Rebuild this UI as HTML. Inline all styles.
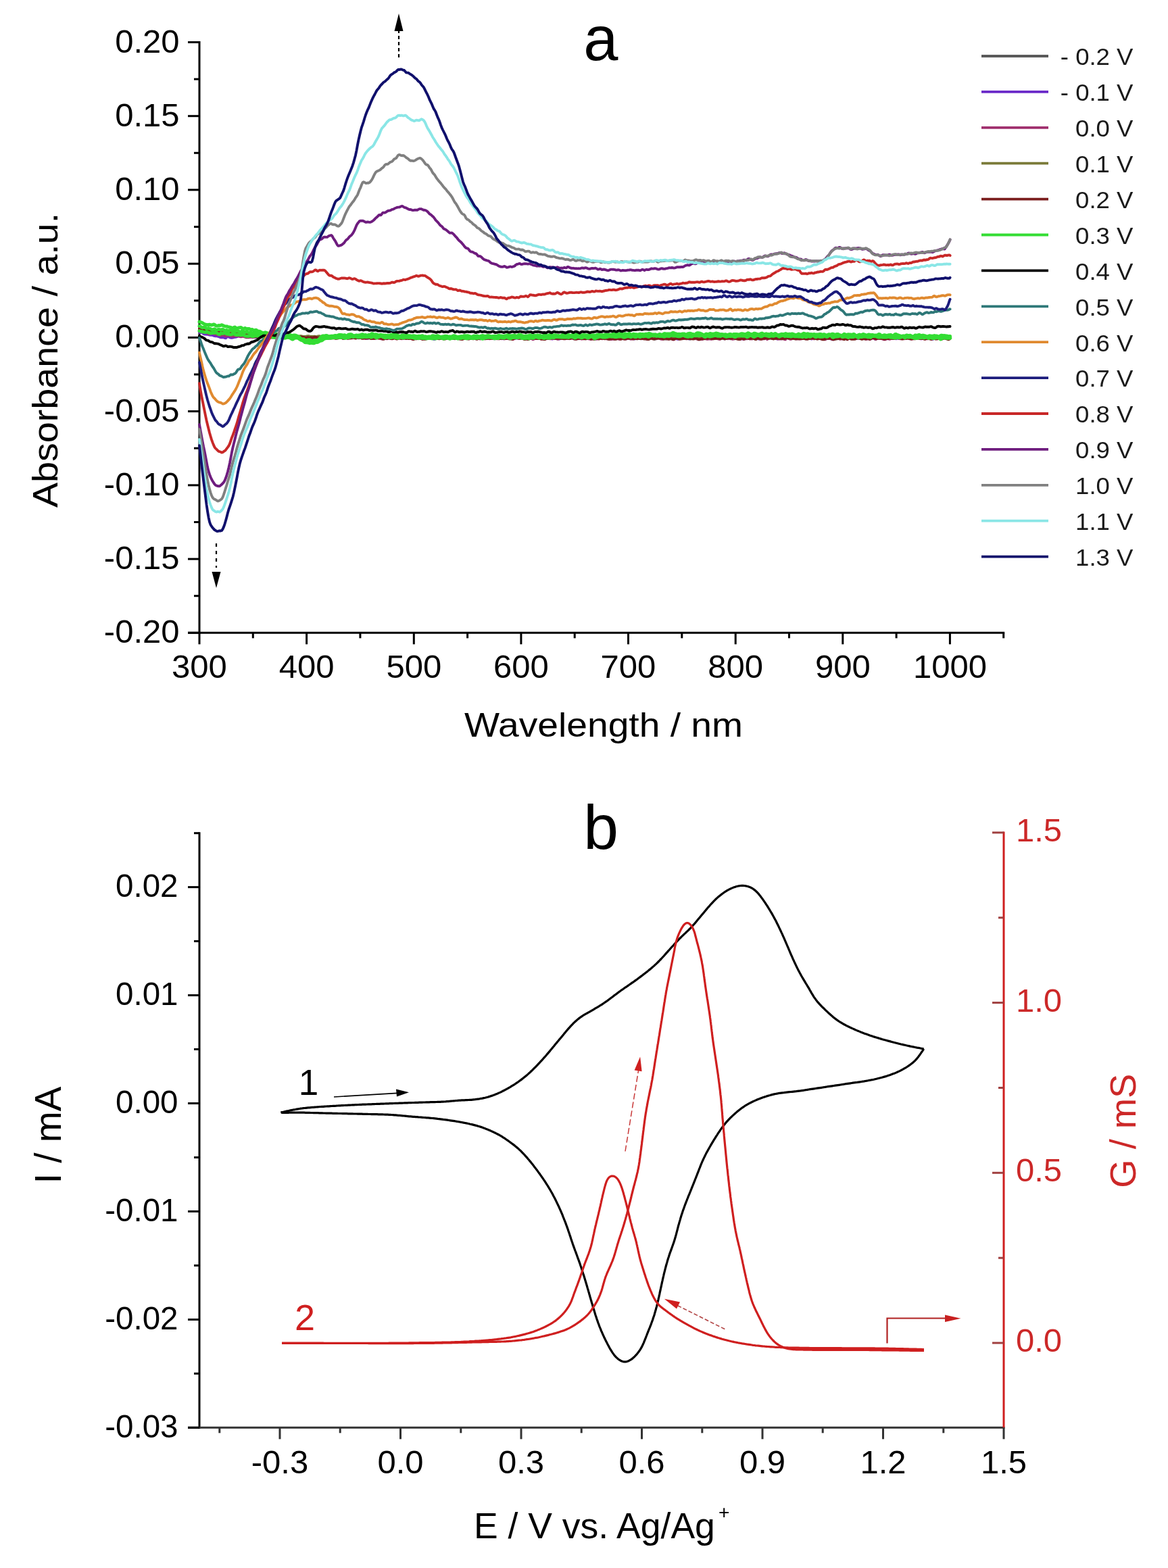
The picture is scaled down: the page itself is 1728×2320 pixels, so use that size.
<!DOCTYPE html>
<html><head><meta charset="utf-8"><title>Figure</title>
<style>html,body{margin:0;padding:0;background:#fff;}svg{display:block;}</style></head>
<body><svg width="1728" height="2320" viewBox="0 0 1728 2320" font-family="Liberation Sans, Arial, sans-serif">
<rect width="1728" height="2320" fill="#fff"/>
<line x1="295" y1="61" x2="295" y2="937.8" stroke="#000" stroke-width="3"/>
<line x1="278" y1="936.3" x2="1486.2" y2="936.3" stroke="#000" stroke-width="3"/>
<line x1="278" y1="936.3" x2="295" y2="936.3" stroke="#000" stroke-width="3"/>
<line x1="287" y1="881.7" x2="295" y2="881.7" stroke="#000" stroke-width="3"/>
<line x1="278" y1="827.1" x2="295" y2="827.1" stroke="#000" stroke-width="3"/>
<line x1="287" y1="772.5" x2="295" y2="772.5" stroke="#000" stroke-width="3"/>
<line x1="278" y1="717.9" x2="295" y2="717.9" stroke="#000" stroke-width="3"/>
<line x1="287" y1="663.2" x2="295" y2="663.2" stroke="#000" stroke-width="3"/>
<line x1="278" y1="608.6" x2="295" y2="608.6" stroke="#000" stroke-width="3"/>
<line x1="287" y1="554" x2="295" y2="554" stroke="#000" stroke-width="3"/>
<line x1="278" y1="499.4" x2="295" y2="499.4" stroke="#000" stroke-width="3"/>
<line x1="287" y1="444.8" x2="295" y2="444.8" stroke="#000" stroke-width="3"/>
<line x1="278" y1="390.2" x2="295" y2="390.2" stroke="#000" stroke-width="3"/>
<line x1="287" y1="335.6" x2="295" y2="335.6" stroke="#000" stroke-width="3"/>
<line x1="278" y1="280.9" x2="295" y2="280.9" stroke="#000" stroke-width="3"/>
<line x1="287" y1="226.3" x2="295" y2="226.3" stroke="#000" stroke-width="3"/>
<line x1="278" y1="171.7" x2="295" y2="171.7" stroke="#000" stroke-width="3"/>
<line x1="287" y1="117.1" x2="295" y2="117.1" stroke="#000" stroke-width="3"/>
<line x1="278" y1="62.5" x2="295" y2="62.5" stroke="#000" stroke-width="3"/>
<line x1="295" y1="936.3" x2="295" y2="953.3" stroke="#000" stroke-width="3"/>
<line x1="374.3" y1="936.3" x2="374.3" y2="944.3" stroke="#000" stroke-width="3"/>
<line x1="453.6" y1="936.3" x2="453.6" y2="953.3" stroke="#000" stroke-width="3"/>
<line x1="532.9" y1="936.3" x2="532.9" y2="944.3" stroke="#000" stroke-width="3"/>
<line x1="612.3" y1="936.3" x2="612.3" y2="953.3" stroke="#000" stroke-width="3"/>
<line x1="691.6" y1="936.3" x2="691.6" y2="944.3" stroke="#000" stroke-width="3"/>
<line x1="770.9" y1="936.3" x2="770.9" y2="953.3" stroke="#000" stroke-width="3"/>
<line x1="850.2" y1="936.3" x2="850.2" y2="944.3" stroke="#000" stroke-width="3"/>
<line x1="929.5" y1="936.3" x2="929.5" y2="953.3" stroke="#000" stroke-width="3"/>
<line x1="1008.8" y1="936.3" x2="1008.8" y2="944.3" stroke="#000" stroke-width="3"/>
<line x1="1088.2" y1="936.3" x2="1088.2" y2="953.3" stroke="#000" stroke-width="3"/>
<line x1="1167.5" y1="936.3" x2="1167.5" y2="944.3" stroke="#000" stroke-width="3"/>
<line x1="1246.8" y1="936.3" x2="1246.8" y2="953.3" stroke="#000" stroke-width="3"/>
<line x1="1326.1" y1="936.3" x2="1326.1" y2="944.3" stroke="#000" stroke-width="3"/>
<line x1="1405.4" y1="936.3" x2="1405.4" y2="953.3" stroke="#000" stroke-width="3"/>
<line x1="1484.7" y1="936.3" x2="1484.7" y2="944.3" stroke="#000" stroke-width="3"/>
<text x="265.5" y="951.3" font-size="49" text-anchor="end" fill="#000">-0.20</text>
<text x="265.5" y="842.1" font-size="49" text-anchor="end" fill="#000">-0.15</text>
<text x="265.5" y="732.9" font-size="49" text-anchor="end" fill="#000">-0.10</text>
<text x="265.5" y="623.6" font-size="49" text-anchor="end" fill="#000">-0.05</text>
<text x="265.5" y="514.4" font-size="49" text-anchor="end" fill="#000">0.00</text>
<text x="265.5" y="405.2" font-size="49" text-anchor="end" fill="#000">0.05</text>
<text x="265.5" y="295.9" font-size="49" text-anchor="end" fill="#000">0.10</text>
<text x="265.5" y="186.7" font-size="49" text-anchor="end" fill="#000">0.15</text>
<text x="265.5" y="77.5" font-size="49" text-anchor="end" fill="#000">0.20</text>
<text x="295" y="1003" font-size="49" text-anchor="middle" fill="#000">300</text>
<text x="453.6" y="1003" font-size="49" text-anchor="middle" fill="#000">400</text>
<text x="612.3" y="1003" font-size="49" text-anchor="middle" fill="#000">500</text>
<text x="770.9" y="1003" font-size="49" text-anchor="middle" fill="#000">600</text>
<text x="929.5" y="1003" font-size="49" text-anchor="middle" fill="#000">700</text>
<text x="1088.2" y="1003" font-size="49" text-anchor="middle" fill="#000">800</text>
<text x="1246.8" y="1003" font-size="49" text-anchor="middle" fill="#000">900</text>
<text x="1405.4" y="1003" font-size="49" text-anchor="middle" fill="#000">1000</text>
<text x="0" y="0" font-size="51.5" text-anchor="middle" transform="translate(84.5 532.9) rotate(-90)" textLength="436.3" lengthAdjust="spacingAndGlyphs">Absorbance / a.u.</text>
<text x="893" y="1090" font-size="50.5" text-anchor="middle" fill="#000" textLength="412" lengthAdjust="spacingAndGlyphs">Wavelength / nm</text>
<text x="888.8" y="89" font-size="92" text-anchor="middle" fill="#000">a</text>
<line x1="1452" y1="83" x2="1551" y2="83" stroke="#5a5a5a" stroke-width="3.8"/>
<text x="0" y="0" font-size="35" text-anchor="end" fill="#1a1a1a" transform="translate(1676.5 96.3) scale(1.045 1)">- 0.2 V</text>
<line x1="1452" y1="135.9" x2="1551" y2="135.9" stroke="#6b2bc8" stroke-width="3.8"/>
<text x="0" y="0" font-size="35" text-anchor="end" fill="#1a1a1a" transform="translate(1676.5 149.2) scale(1.045 1)">- 0.1 V</text>
<line x1="1452" y1="188.8" x2="1551" y2="188.8" stroke="#a0306e" stroke-width="3.8"/>
<text x="0" y="0" font-size="35" text-anchor="end" fill="#1a1a1a" transform="translate(1676.5 202.1) scale(1.045 1)">0.0 V</text>
<line x1="1452" y1="241.7" x2="1551" y2="241.7" stroke="#7a7a38" stroke-width="3.8"/>
<text x="0" y="0" font-size="35" text-anchor="end" fill="#1a1a1a" transform="translate(1676.5 255) scale(1.045 1)">0.1 V</text>
<line x1="1452" y1="294.6" x2="1551" y2="294.6" stroke="#7a1c1c" stroke-width="3.8"/>
<text x="0" y="0" font-size="35" text-anchor="end" fill="#1a1a1a" transform="translate(1676.5 307.9) scale(1.045 1)">0.2 V</text>
<line x1="1452" y1="347.5" x2="1551" y2="347.5" stroke="#33dd33" stroke-width="3.8"/>
<text x="0" y="0" font-size="35" text-anchor="end" fill="#1a1a1a" transform="translate(1676.5 360.8) scale(1.045 1)">0.3 V</text>
<line x1="1452" y1="400.4" x2="1551" y2="400.4" stroke="#000000" stroke-width="3.8"/>
<text x="0" y="0" font-size="35" text-anchor="end" fill="#1a1a1a" transform="translate(1676.5 413.7) scale(1.045 1)">0.4 V</text>
<line x1="1452" y1="453.3" x2="1551" y2="453.3" stroke="#2e7878" stroke-width="3.8"/>
<text x="0" y="0" font-size="35" text-anchor="end" fill="#1a1a1a" transform="translate(1676.5 466.6) scale(1.045 1)">0.5 V</text>
<line x1="1452" y1="506.2" x2="1551" y2="506.2" stroke="#e08a30" stroke-width="3.8"/>
<text x="0" y="0" font-size="35" text-anchor="end" fill="#1a1a1a" transform="translate(1676.5 519.5) scale(1.045 1)">0.6 V</text>
<line x1="1452" y1="559.1" x2="1551" y2="559.1" stroke="#1c1c7c" stroke-width="3.8"/>
<text x="0" y="0" font-size="35" text-anchor="end" fill="#1a1a1a" transform="translate(1676.5 572.4) scale(1.045 1)">0.7 V</text>
<line x1="1452" y1="612" x2="1551" y2="612" stroke="#c82828" stroke-width="3.8"/>
<text x="0" y="0" font-size="35" text-anchor="end" fill="#1a1a1a" transform="translate(1676.5 625.3) scale(1.045 1)">0.8 V</text>
<line x1="1452" y1="664.9" x2="1551" y2="664.9" stroke="#6e1c7e" stroke-width="3.8"/>
<text x="0" y="0" font-size="35" text-anchor="end" fill="#1a1a1a" transform="translate(1676.5 678.2) scale(1.045 1)">0.9 V</text>
<line x1="1452" y1="717.8" x2="1551" y2="717.8" stroke="#808080" stroke-width="3.8"/>
<text x="0" y="0" font-size="35" text-anchor="end" fill="#1a1a1a" transform="translate(1676.5 731.1) scale(1.045 1)">1.0 V</text>
<line x1="1452" y1="770.7" x2="1551" y2="770.7" stroke="#8ae6e6" stroke-width="3.8"/>
<text x="0" y="0" font-size="35" text-anchor="end" fill="#1a1a1a" transform="translate(1676.5 784) scale(1.045 1)">1.1 V</text>
<line x1="1452" y1="823.6" x2="1551" y2="823.6" stroke="#10106c" stroke-width="3.8"/>
<text x="0" y="0" font-size="35" text-anchor="end" fill="#1a1a1a" transform="translate(1676.5 836.9) scale(1.045 1)">1.3 V</text>
<g fill="none" stroke-width="3.9" stroke-linejoin="round" stroke-linecap="round">
<path d="M295 488.3L296.5 488.9L298 488.7L299.5 488.7L301 489.6L302.5 490L304 490L305.5 490.5L307 491L308.5 491.1L310 491.4L311.5 491.6L313 491.5L314.5 491.7L316 492.2L317.5 492.8L319 492.9L320.5 492.8L322 492.8L323.5 493.3L325 493.7L326.5 494.2L328 495L329.5 494.6L331 493.3L332.5 493.5L334 494.6L335.5 495.2L337 495.7L338.5 496.4L340 496.7L341.5 496.1L343 496.4L344.5 497.5L346 497.6L347.5 497.1L349 496.5L350.5 496.2L352 496.9L353.5 497.1L355 496.7L356.5 496.9L358 497.2L359.5 497.2L361 497.5L362.5 497.9L364 497.9L365.5 498L367 498.5L368.5 498.8L370 498.5L371.5 498.3L373 498.5L374.5 498.7L376 498.7L377.5 498.6L379 498.9L380.5 498.7L382 498.2L383.5 498.5L385 498.9L386.5 498.9L388 498.3L389.5 498.3L391 498.7L392.5 498.9L394 499.2L395.5 499.1L397 498.6L398.5 499.1L400 499.6L401.5 499.1L403 498.9L404.5 499.4L406 499.6L407.5 499.6L409 498.9L410.5 498.4L412 498.7L413.5 499.2L415 499.5L416.5 499.1L418 498.3L419.5 498.6L421 499.6L422.5 499.7L424 499.2L425.5 499.3L427 499.6L428.5 499.9L430 499.9L431.5 499.7L433 499.3L434.5 499.5L436 499.3L437.5 498.6L439 498.9L440.5 499.1L442 498.9L443.5 499.1L445 499.4L446.5 499.7L448 499.8L449.5 500L451 500.3L452.5 499.8L454 498.9L455.5 499L457 500L458.5 499.7L460 499.3L461.5 499.4L463 499.7L464.5 499.9L466 499.8L467.5 499.4L469 499.4L470.5 499.4L472 499.4L473.5 500L475 500.1L476.5 498.7L478 498.3L479.5 499.9L481 500.7L482.5 499.5L484 499L485.5 499.5L487 499.3L488.5 499.2L490 499.5L491.5 499.8L493 499.7L494.5 499.7L496 499.5L497.5 499.2L499 499.2L500.5 499.2L502 499.3L503.5 499L505 499.3L506.5 500.2L508 500.1L509.5 499.8L511 499.9L512.5 499.7L514 499.7L515.5 500L517 499.8L518.5 499.5L520 499.8L521.5 499.5L523 499L524.5 499.1L526 499.8L527.5 500.2L529 499.7L530.5 499.2L532 498.9L533.5 499.6L535 500.2L536.5 499.8L538 499.6L539.5 500L541 500.4L542.5 500.8L544 500.9L545.5 500.3L547 499.6L548.5 499.7L550 499.8L551.5 499.9L553 499.9L554.5 499.6L556 499.4L557.5 499.8L559 499.6L560.5 499.4L562 500.2L563.5 500.8L565 500.5L566.5 499.9L568 500.2L569.5 501.2L571 500.7L572.5 499.4L574 499.3L575.5 499.5L577 499.3L578.5 499.6L580 500.1L581.5 500.6L583 500.1L584.5 499L586 499L587.5 499.5L589 500.1L590.5 500.4L592 500L593.5 500L595 501L596.5 501.1L598 500.1L599.5 499.8L601 499.8L602.5 499.6L604 499.9L605.5 500.4L607 499.9L608.5 499.8L610 500L611.5 499.8L613 499.7L614.5 499.7L616 499.6L617.5 499.4L619 499.5L620.5 499.8L622 499.9L623.5 499.9L625 500.1L626.5 500.3L628 500.1L629.5 499.8L631 499.6L632.5 499.4L634 499.5L635.5 499.8L637 499.5L638.5 499.6L640 500.2L641.5 500.3L643 499.6L644.5 499.2L646 499.9L647.5 500L649 499.7L650.5 500L652 499.7L653.5 499.5L655 499.9L656.5 500.1L658 499.8L659.5 499.9L661 500.5L662.5 499.9L664 499.5L665.5 500L667 500.2L668.5 500.2L670 500.1L671.5 500.1L673 500.1L674.5 500.1L676 500.2L677.5 499.9L679 499.7L680.5 500.1L682 500.4L683.5 500L685 499.9L686.5 499.9L688 499.3L689.5 499.4L691 499.7L692.5 499.6L694 499.9L695.5 500.4L697 500.4L698.5 499.9L700 499.8L701.5 499.7L703 499.9L704.5 500.9L706 500.5L707.5 500L709 500.5L710.5 500L712 499.6L713.5 500.3L715 500.7L716.5 500.2L718 500.2L719.5 500.2L721 500.1L722.5 500.3L724 500.3L725.5 499.7L727 499.5L728.5 499.7L730 500.1L731.5 500.6L733 500.8L734.5 500.7L736 500.6L737.5 500.3L739 500.2L740.5 500.9L742 501.2L743.5 500.5L745 500L746.5 500L748 499.9L749.5 500L751 500.2L752.5 500.6L754 500.9L755.5 500.8L757 500.7L758.5 500.8L760 500.8L761.5 500.8L763 500.2L764.5 499.8L766 500L767.5 499.9L769 499.7L770.5 499.7L772 499.9L773.5 500.6L775 500.5L776.5 499.9L778 499.8L779.5 500L781 500L782.5 499.7L784 499.7L785.5 500L787 500.3L788.5 501L790 501.1L791.5 500.8L793 500.3L794.5 500.1L796 500.4L797.5 500.7L799 501L800.5 500.7L802 499.8L803.5 499.8L805 500.1L806.5 500.2L808 499.9L809.5 500L811 500.6L812.5 500.8L814 500.4L815.5 500L817 500.2L818.5 500.7L820 500.3L821.5 499.9L823 500.5L824.5 501L826 500.9L827.5 500.7L829 500.5L830.5 500.3L832 500.4L833.5 500.5L835 500.9L836.5 500.9L838 500.4L839.5 500.3L841 500.7L842.5 501.2L844 500.8L845.5 500.2L847 500.6L848.5 501.4L850 501.2L851.5 500.1L853 500.2L854.5 500.7L856 499.9L857.5 499.8L859 500.7L860.5 500.9L862 500.5L863.5 500.6L865 501L866.5 501.2L868 501.1L869.5 500.7L871 500.3L872.5 500.2L874 500.7L875.5 501.1L877 500.8L878.5 500.4L880 500.8L881.5 501L883 500.6L884.5 500.3L886 500L887.5 499.7L889 500.3L890.5 500.5L892 500.3L893.5 500.3L895 499.9L896.5 499.8L898 500.6L899.5 500.9L901 500.4L902.5 500.6L904 501.1L905.5 501.1L907 500.9L908.5 499.8L910 499.4L911.5 500.1L913 500.1L914.5 499.8L916 500.1L917.5 500.9L919 501L920.5 500.6L922 500.8L923.5 500.7L925 500.5L926.5 500.4L928 500.5L929.5 500.8L931 500.7L932.5 500.6L934 500.7L935.5 500.5L937 500.6L938.5 501.1L940 501.1L941.5 501L943 501.2L944.5 500.9L946 500.3L947.5 500.3L949 500.6L950.5 500.4L952 499.7L953.5 499.6L955 499.8L956.5 500.3L958 501.1L959.5 501.5L961 501.2L962.5 500.7L964 500.3L965.5 500.6L967 501.3L968.5 501.8L970 501.3L971.5 500.5L973 500.3L974.5 500L976 499.9L977.5 500.2L979 500.9L980.5 501.3L982 501.2L983.5 501.4L985 501.5L986.5 501.2L988 501.3L989.5 501L991 500.4L992.5 500.4L994 500.4L995.5 500.2L997 500.3L998.5 500.5L1000 500.4L1001.5 500.1L1003 499.8L1004.5 499.7L1006 500.3L1007.5 500.7L1009 500.6L1010.5 500.6L1012 500.5L1013.5 500.1L1015 500.2L1016.5 500.7L1018 501L1019.5 501.3L1021 501.5L1022.5 501.1L1024 501L1025.5 501.1L1027 500.3L1028.5 499.6L1030 499.6L1031.5 500.4L1033 500.9L1034.5 500.7L1036 500.3L1037.5 500.3L1039 500L1040.5 499.5L1042 499.9L1043.5 500L1045 500.1L1046.5 500.6L1048 499.9L1049.5 499.2L1051 499.7L1052.5 500.3L1054 500.2L1055.5 500.5L1057 500.7L1058.5 500.2L1060 499.6L1061.5 500L1063 500.5L1064.5 499.8L1066 499.5L1067.5 500.1L1069 500.6L1070.5 500.7L1072 500.3L1073.5 500.1L1075 500.5L1076.5 500.3L1078 499.9L1079.5 501L1081 501.4L1082.5 500.4L1084 500.3L1085.5 500.5L1087 499.4L1088.5 498.6L1090 499L1091.5 499.5L1093 499.9L1094.5 500.3L1096 500.1L1097.5 499.8L1099 500.5L1100.5 501.4L1102 501.3L1103.5 500.8L1105 500.6L1106.5 500.3L1108 500.1L1109.5 500.2L1111 500.5L1112.5 500.7L1114 500.3L1115.5 499.7L1117 500.2L1118.5 500.4L1120 499.7L1121.5 499.4L1123 499.3L1124.5 499.4L1126 500.5L1127.5 501.1L1129 500.8L1130.5 500.3L1132 500.2L1133.5 500L1135 500L1136.5 500.5L1138 500.9L1139.5 500.6L1141 500L1142.5 499.9L1144 500.4L1145.5 500.9L1147 500.1L1148.5 499.3L1150 500.2L1151.5 501.1L1153 501L1154.5 500.6L1156 499.8L1157.5 498.7L1159 498.5L1160.5 499L1162 499.8L1163.5 500.3L1165 500.3L1166.5 500.2L1168 500.3L1169.5 499.9L1171 499.8L1172.5 500L1174 499.2L1175.5 498.3L1177 498.9L1178.5 499.1L1180 498.6L1181.5 499.1L1183 499.5L1184.5 499L1186 498.9L1187.5 499.3L1189 499.9L1190.5 500.5L1192 500.1L1193.5 499.2L1195 499.4L1196.5 500.6L1198 501.1L1199.5 500.7L1201 500.6L1202.5 500.9L1204 500.3L1205.5 499.5L1207 499.2L1208.5 499.9L1210 500.5L1211.5 499.9L1213 499.4L1214.5 499.4L1216 499.9L1217.5 500.4L1219 500.3L1220.5 500.4L1222 500.6L1223.5 500.7L1225 501L1226.5 500.7L1228 499.9L1229.5 499.4L1231 499.6L1232.5 500L1234 500.6L1235.5 501.6L1237 501.4L1238.5 500.2L1240 500.2L1241.5 500.3L1243 499.4L1244.5 499.6L1246 500.1L1247.5 499.7L1249 499.5L1250.5 499.9L1252 500.2L1253.5 500.3L1255 500.3L1256.5 500.4L1258 500.4L1259.5 500.3L1261 499.6L1262.5 498.8L1264 498.5L1265.5 498.7L1267 499.6L1268.5 500.4L1270 500.2L1271.5 499.5L1273 499.3L1274.5 499.4L1276 499.6L1277.5 499.3L1279 499.1L1280.5 499.7L1282 499.9L1283.5 499.2L1285 498.9L1286.5 499L1288 499.4L1289.5 499.2L1291 498.9L1292.5 500L1294 500.9L1295.5 500.7L1297 500.5L1298.5 499.7L1300 499.1L1301.5 499.6L1303 499.6L1304.5 499.4L1306 500.1L1307.5 500.2L1309 500L1310.5 500.1L1312 499.9L1313.5 499.9L1315 499.8L1316.5 499.8L1318 500L1319.5 500.5L1321 500.8L1322.5 500.5L1324 499.8L1325.5 499.8L1327 499.7L1328.5 498.7L1330 499.1L1331.5 500.3L1333 500.7L1334.5 500.5L1336 500.2L1337.5 500L1339 499.5L1340.5 498.8L1342 498.8L1343.5 499.2L1345 499.5L1346.5 498.8L1348 497.8L1349.5 498.2L1351 499.4L1352.5 499.9L1354 499.6L1355.5 499L1357 499.2L1358.5 500.1L1360 500.3L1361.5 500.9L1363 501.1L1364.5 500.3L1366 499.8L1367.5 499.7L1369 499.6L1370.5 499.9L1372 500.2L1373.5 500.5L1375 500.9L1376.5 500.9L1378 500.4L1379.5 500.2L1381 499.7L1382.5 499.3L1384 499.3L1385.5 499.6L1387 500.4L1388.5 500.9L1390 500.8L1391.5 500.3L1393 500L1394.5 499.5L1396 499.5L1397.5 500L1399 500L1400.5 499.7L1402 499.6L1403.5 499.3L1405 499.4L1405.6 499.7" stroke="#5a5a5a"/>
<path d="M295 492L296.5 492.1L298 491.9L299.5 492.3L301 493.9L302.5 494.6L304 494.4L305.5 494.8L307 494.9L308.5 495.1L310 495.6L311.5 495.7L313 495.6L314.5 496L316 496.6L317.5 497.1L319 497.3L320.5 497.4L322 497.6L323.5 498.1L325 498.8L326.5 499.2L328 499.4L329.5 499.4L331 499.3L332.5 500.1L334 500.2L335.5 498.8L337 497.9L338.5 498.5L340 499.3L341.5 499.7L343 499.8L344.5 499.6L346 499.2L347.5 498.9L349 498.7L350.5 498.4L352 497.6L353.5 497.3L355 497.9L356.5 497.9L358 496.9L359.5 496.2L361 496.7L362.5 497.3L364 497.5L365.5 497.2L367 496.8L368.5 497.5L370 497.6L371.5 496.9L373 497.4L374.5 498L376 498L377.5 498.6L379 499L380.5 498.3L382 497.5L383.5 497.5L385 497.9L386.5 497.9L388 497.8L389.5 498L391 498L392.5 497.4L394 496.6L395.5 496.9L397 498.1L398.5 498.8L400 498.9L401.5 498.4L403 498L404.5 498.3L406 498.1L407.5 497.5L409 498L410.5 499L412 499L413.5 498.6L415 498.2L416.5 498.3L418 498.7L419.5 498.5L421 498.1L422.5 498.1L424 498.1L425.5 498.7L427 498.9L428.5 498.8L430 498.9L431.5 498.7L433 498.4L434.5 498.3L436 498.4L437.5 498.6L439 498.4L440.5 498.2L442 498.1L443.5 497.9L445 497.9L446.5 498.5L448 499.2L449.5 499.5L451 500L452.5 500.2L454 499.5L455.5 499.2L457 499.5L458.5 499.2L460 499L461.5 498.9L463 498.6L464.5 498.5L466 499L467.5 499L469 499L470.5 499.8L472 499.9L473.5 499.2L475 498.9L476.5 499L478 499.3L479.5 499.7L481 499.6L482.5 499L484 498.8L485.5 498.6L487 498.5L488.5 498.7L490 499.3L491.5 499.9L493 499.9L494.5 499.4L496 499.4L497.5 499.8L499 500.2L500.5 500L502 499.5L503.5 499L505 498.9L506.5 499.3L508 499.5L509.5 499.2L511 499.1L512.5 499.3L514 499.7L515.5 500.1L517 500.1L518.5 499.7L520 499.3L521.5 499.3L523 499.2L524.5 499.2L526 499.5L527.5 499.6L529 499.9L530.5 500.2L532 500.1L533.5 499.5L535 498.9L536.5 499L538 499L539.5 498.9L541 499.6L542.5 499.8L544 499.8L545.5 500.3L547 500.3L548.5 499.8L550 499.5L551.5 499.8L553 499.8L554.5 499.7L556 500.2L557.5 499.9L559 499.1L560.5 499.2L562 499.6L563.5 500.3L565 500.2L566.5 499.4L568 499.3L569.5 499.7L571 500.2L572.5 500.7L574 500.5L575.5 500.1L577 499.7L578.5 499.2L580 499.8L581.5 500.4L583 499.9L584.5 499.7L586 500.5L587.5 501L589 500.3L590.5 499.8L592 500L593.5 499.6L595 499.7L596.5 500.1L598 500.1L599.5 500.1L601 500.5L602.5 500.1L604 498.9L605.5 498.7L607 499.7L608.5 500.6L610 500.4L611.5 500L613 500.1L614.5 500.4L616 500.4L617.5 500L619 499.9L620.5 500.7L622 500.6L623.5 500.3L625 501L626.5 500.8L628 499.6L629.5 499.2L631 500.1L632.5 500.3L634 499.5L635.5 499.4L637 500.1L638.5 500L640 500.4L641.5 501.7L643 501.9L644.5 500.9L646 500.3L647.5 499.8L649 499.3L650.5 499.5L652 499.5L653.5 499L655 499.2L656.5 500L658 500.3L659.5 500.4L661 500.4L662.5 499.7L664 499L665.5 499L667 499.8L668.5 500.4L670 500.4L671.5 500.1L673 499.7L674.5 499.5L676 499.4L677.5 499.9L679 500.9L680.5 500.8L682 499.9L683.5 499.7L685 499.7L686.5 499.6L688 499.8L689.5 499.6L691 499.5L692.5 499.5L694 499.5L695.5 499.1L697 499L698.5 499.3L700 499.6L701.5 499.9L703 500.5L704.5 501.1L706 500.9L707.5 500.5L709 500.3L710.5 500.4L712 500.9L713.5 500.5L715 499.9L716.5 500.5L718 500.2L719.5 499.1L721 499.2L722.5 499.4L724 499L725.5 499.1L727 499.7L728.5 500.3L730 501.1L731.5 501.4L733 500.9L734.5 500.7L736 500.6L737.5 500.2L739 499.4L740.5 499L742 499.7L743.5 500.8L745 501.3L746.5 501L748 500.5L749.5 500.4L751 501.1L752.5 501.1L754 500.4L755.5 499.9L757 500.2L758.5 500.8L760 500.8L761.5 500.5L763 500.6L764.5 500.5L766 500L767.5 499.4L769 499.1L770.5 499.4L772 500.6L773.5 501.1L775 500.1L776.5 500.1L778 500.3L779.5 500L781 500L782.5 500.2L784 500.5L785.5 500.4L787 500.4L788.5 500.6L790 499.9L791.5 499.3L793 499.9L794.5 500.6L796 500.6L797.5 500.2L799 500L800.5 500.4L802 500.7L803.5 501L805 501.2L806.5 500.5L808 499.5L809.5 499.7L811 500.5L812.5 500.8L814 500.9L815.5 501.2L817 501.5L818.5 501.2L820 500.6L821.5 500.7L823 500.7L824.5 500.4L826 501L827.5 501.5L829 501.1L830.5 500.6L832 500.2L833.5 500L835 500.1L836.5 500.2L838 500.2L839.5 500.3L841 500.7L842.5 500.7L844 500.3L845.5 500.1L847 499.2L848.5 499L850 499.9L851.5 500.5L853 500.3L854.5 499.8L856 500.1L857.5 500.8L859 501L860.5 500.8L862 500.4L863.5 500.1L865 500L866.5 500.4L868 500.4L869.5 500L871 500L872.5 500.9L874 501.5L875.5 501.1L877 500.6L878.5 500.6L880 501L881.5 501.3L883 501.4L884.5 500.8L886 500L887.5 499.8L889 499.6L890.5 500L892 500.9L893.5 500.8L895 500.5L896.5 501L898 500.8L899.5 500.2L901 500.4L902.5 500.4L904 499.7L905.5 499.4L907 500.1L908.5 500L910 499.5L911.5 500.3L913 500.8L914.5 500.4L916 500.4L917.5 500.2L919 500L920.5 500.4L922 500.7L923.5 500.2L925 500.3L926.5 500.5L928 500.1L929.5 499.8L931 499.6L932.5 499.8L934 500.4L935.5 500.4L937 500.8L938.5 501.5L940 500.9L941.5 500.4L943 500.3L944.5 500.6L946 500.9L947.5 500.9L949 501.2L950.5 501.1L952 500.5L953.5 500.6L955 501L956.5 501.5L958 500.7L959.5 499.6L961 499.1L962.5 499.4L964 499.7L965.5 499.6L967 499.6L968.5 499.9L970 500.6L971.5 500.7L973 499.9L974.5 499.7L976 499.6L977.5 499.3L979 499.4L980.5 500L982 500.6L983.5 500.5L985 500.4L986.5 500.7L988 500.7L989.5 500.5L991 500.4L992.5 500.4L994 500.7L995.5 500.8L997 500.1L998.5 500.2L1000 500.9L1001.5 501.6L1003 501.7L1004.5 501.1L1006 500.6L1007.5 500.6L1009 500.7L1010.5 500.8L1012 500.3L1013.5 500.3L1015 500.6L1016.5 500.7L1018 501L1019.5 501.3L1021 501.2L1022.5 500.7L1024 500.1L1025.5 499.7L1027 499.8L1028.5 500.3L1030 500.6L1031.5 500.2L1033 500L1034.5 500.3L1036 500.1L1037.5 499.9L1039 500.3L1040.5 500.1L1042 499.3L1043.5 499.5L1045 500.2L1046.5 500.2L1048 499.9L1049.5 500.4L1051 500.9L1052.5 500.8L1054 500.9L1055.5 500.9L1057 500.6L1058.5 500.5L1060 500.3L1061.5 499.9L1063 500.1L1064.5 500.6L1066 500.4L1067.5 499.9L1069 500.3L1070.5 501.2L1072 501.2L1073.5 500.5L1075 499.8L1076.5 499.7L1078 500.4L1079.5 500.4L1081 500.2L1082.5 500.9L1084 500.9L1085.5 500.1L1087 499.9L1088.5 500.2L1090 500.4L1091.5 500.1L1093 500.1L1094.5 500.9L1096 501.3L1097.5 501.4L1099 501.3L1100.5 500.8L1102 500.8L1103.5 501.1L1105 501L1106.5 500.5L1108 500.2L1109.5 500.2L1111 500L1112.5 499.6L1114 499.5L1115.5 499.8L1117 499.9L1118.5 500L1120 500.4L1121.5 501.1L1123 501.5L1124.5 500.7L1126 499.9L1127.5 500.1L1129 500.4L1130.5 500.4L1132 500.1L1133.5 499.9L1135 500L1136.5 499.7L1138 499.4L1139.5 499.8L1141 500.6L1142.5 501L1144 500.6L1145.5 500.4L1147 500.8L1148.5 501.2L1150 501.5L1151.5 501.1L1153 500.9L1154.5 501.4L1156 501.4L1157.5 500.7L1159 500.1L1160.5 499.7L1162 499.8L1163.5 500L1165 500.1L1166.5 500.2L1168 500.3L1169.5 500.5L1171 500.8L1172.5 500.6L1174 500L1175.5 500.1L1177 501.1L1178.5 501.3L1180 500.7L1181.5 500.3L1183 499.6L1184.5 499.4L1186 500.4L1187.5 500.9L1189 500.2L1190.5 500.3L1192 500.6L1193.5 500.2L1195 500.5L1196.5 500.8L1198 500.6L1199.5 501.1L1201 501.5L1202.5 500.5L1204 500.1L1205.5 500.2L1207 499.8L1208.5 500.1L1210 501L1211.5 500.6L1213 499.6L1214.5 499.9L1216 500.6L1217.5 500.4L1219 499.9L1220.5 500.2L1222 500.7L1223.5 500.8L1225 500.4L1226.5 500.2L1228 501L1229.5 501.4L1231 502L1232.5 502.2L1234 500.8L1235.5 500.1L1237 500.6L1238.5 500.5L1240 500L1241.5 500.3L1243 500.9L1244.5 500.4L1246 499.7L1247.5 499.7L1249 499.9L1250.5 500.2L1252 500.1L1253.5 500.1L1255 500.4L1256.5 500.5L1258 501L1259.5 501.1L1261 500.5L1262.5 500.2L1264 500.6L1265.5 500.9L1267 500.7L1268.5 500.6L1270 500.6L1271.5 500.8L1273 500.7L1274.5 500.2L1276 500.1L1277.5 500.3L1279 500.2L1280.5 500.5L1282 500.8L1283.5 500.5L1285 500L1286.5 500.4L1288 501.3L1289.5 501L1291 500L1292.5 500.3L1294 501.5L1295.5 501.6L1297 501.2L1298.5 500.7L1300 500.1L1301.5 500.3L1303 500.4L1304.5 499.7L1306 499.9L1307.5 500.9L1309 501.1L1310.5 500.6L1312 500.9L1313.5 501.2L1315 500.4L1316.5 499.8L1318 500.1L1319.5 500.6L1321 501L1322.5 500.7L1324 500.7L1325.5 501.3L1327 500.9L1328.5 500.8L1330 501.1L1331.5 501L1333 500.9L1334.5 500.8L1336 500.3L1337.5 499.8L1339 500L1340.5 500.3L1342 500.4L1343.5 500.4L1345 500.5L1346.5 501.3L1348 501L1349.5 499.9L1351 499.8L1352.5 499.6L1354 499.3L1355.5 500L1357 500.2L1358.5 500L1360 500.4L1361.5 501.1L1363 501.4L1364.5 501.1L1366 500.8L1367.5 500.6L1369 500.4L1370.5 500.2L1372 500.2L1373.5 500.3L1375 500.7L1376.5 501L1378 501.1L1379.5 501.7L1381 501.5L1382.5 500.2L1384 499.9L1385.5 500.1L1387 499.9L1388.5 499.8L1390 500.2L1391.5 500.3L1393 500.1L1394.5 500.1L1396 499.6L1397.5 499.6L1399 500.4L1400.5 500.4L1402 500.1L1403.5 500.3L1405 499.8L1405.6 499.4" stroke="#6b2bc8"/>
<path d="M295 490.3L296.5 489.7L298 490.1L299.5 490.7L301 490.9L302.5 490.9L304 490.9L305.5 491.5L307 492.8L308.5 494.2L310 493.9L311.5 493.2L313 493.3L314.5 493.3L316 493.4L317.5 494.1L319 494.7L320.5 495.1L322 495.4L323.5 495.4L325 495.8L326.5 496.5L328 496.3L329.5 495.8L331 496L332.5 496.9L334 497.3L335.5 496.8L337 496.7L338.5 496.9L340 496.6L341.5 496.9L343 497.6L344.5 497.7L346 497.7L347.5 497.2L349 496.7L350.5 497.3L352 497.2L353.5 497L355 497.9L356.5 498.4L358 497.9L359.5 497.7L361 498.1L362.5 498.7L364 499.3L365.5 499.3L367 499.2L368.5 499.2L370 498.7L371.5 498.5L373 499L374.5 499.2L376 498.8L377.5 498.6L379 498.4L380.5 498.1L382 498.9L383.5 499L385 498.4L386.5 498.5L388 498.8L389.5 498.8L391 498.2L392.5 498.4L394 499.5L395.5 499.4L397 498.4L398.5 498.6L400 499.1L401.5 499.4L403 499.5L404.5 499.2L406 498.9L407.5 499.2L409 499.7L410.5 499.5L412 498.8L413.5 498.9L415 499.9L416.5 500.2L418 500.1L419.5 500.1L421 499.7L422.5 499L424 498.7L425.5 499.2L427 499.6L428.5 499L430 498.8L431.5 499.3L433 499.7L434.5 499.5L436 498.7L437.5 498.5L439 499.4L440.5 500.3L442 500.2L443.5 499.8L445 499.6L446.5 499.6L448 499.8L449.5 499.8L451 499.5L452.5 499.5L454 499.8L455.5 499.9L457 500.5L458.5 501.2L460 501.3L461.5 500.3L463 499.1L464.5 499L466 499.5L467.5 499.3L469 499.1L470.5 500L472 500.2L473.5 499.2L475 498.9L476.5 499.2L478 499.8L479.5 500.6L481 500.9L482.5 500.4L484 500.2L485.5 500.5L487 500.9L488.5 500.9L490 500.4L491.5 499.7L493 499.4L494.5 499.8L496 500.6L497.5 500.5L499 499.8L500.5 499.8L502 499.9L503.5 499.5L505 499.5L506.5 500.5L508 501.1L509.5 500.3L511 499.4L512.5 499L514 499.3L515.5 500.1L517 500.5L518.5 500.3L520 500.2L521.5 500.2L523 499.8L524.5 499.3L526 499.5L527.5 499.8L529 499.6L530.5 499.5L532 499.5L533.5 499.9L535 500.3L536.5 500.1L538 500.1L539.5 500.6L541 501L542.5 500.6L544 499.8L545.5 499.9L547 500.1L548.5 500.3L550 500.8L551.5 501.1L553 500.9L554.5 500.8L556 500.9L557.5 500.4L559 500.2L560.5 500.4L562 500.6L563.5 501.3L565 501.6L566.5 501.4L568 500.6L569.5 500.1L571 500.4L572.5 500.5L574 500.2L575.5 500.3L577 500.7L578.5 500.8L580 500.5L581.5 500.4L583 500L584.5 499.5L586 499.5L587.5 499.6L589 500.3L590.5 500.8L592 500.7L593.5 501L595 501.2L596.5 500.8L598 500.4L599.5 499.8L601 499.7L602.5 499.9L604 499.8L605.5 500.2L607 500.7L608.5 500.8L610 500.4L611.5 500L613 500.2L614.5 500.1L616 500.1L617.5 500.3L619 500.2L620.5 500L622 499.9L623.5 499.6L625 499.3L626.5 499.5L628 500L629.5 500.9L631 500.7L632.5 499.8L634 500L635.5 500.1L637 500L638.5 500.3L640 499.9L641.5 499.4L643 499.8L644.5 500.3L646 500.1L647.5 500L649 500.6L650.5 500.6L652 499.9L653.5 499.8L655 500.1L656.5 500.5L658 501.1L659.5 500.7L661 499.8L662.5 499.8L664 500.7L665.5 501.4L667 500.9L668.5 500.6L670 500.7L671.5 501.1L673 501.3L674.5 500.9L676 500.7L677.5 500.8L679 500.5L680.5 500.5L682 501L683.5 500.8L685 500.2L686.5 499.9L688 500.1L689.5 500.8L691 501.2L692.5 501.3L694 501.4L695.5 501.1L697 500.9L698.5 501L700 500.9L701.5 500.8L703 501.1L704.5 501.3L706 500.8L707.5 500.6L709 501.2L710.5 501.5L712 500.8L713.5 500.4L715 500.7L716.5 500.6L718 500.1L719.5 500.6L721 501L722.5 500.8L724 501.2L725.5 501L727 500.5L728.5 500.2L730 499.8L731.5 500.4L733 501.1L734.5 501L736 501.2L737.5 501.2L739 501L740.5 500.3L742 499.5L743.5 499.9L745 500.3L746.5 499.8L748 499.8L749.5 500.3L751 500L752.5 499.5L754 500.1L755.5 500.7L757 500.8L758.5 501.3L760 501.5L761.5 500.7L763 499.8L764.5 499.8L766 500.5L767.5 501.1L769 501.1L770.5 500.8L772 500.6L773.5 500.6L775 500.4L776.5 500.1L778 499.6L779.5 499.5L781 499.8L782.5 499.8L784 500.1L785.5 500.7L787 501.4L788.5 502.2L790 501.6L791.5 500.8L793 501L794.5 500.9L796 500.7L797.5 500.9L799 499.9L800.5 499.3L802 500.2L803.5 500.9L805 501.1L806.5 500.5L808 500.4L809.5 500.9L811 500.6L812.5 500.9L814 501.4L815.5 501.1L817 500.7L818.5 500.9L820 500.9L821.5 500.7L823 501L824.5 501.7L826 501.8L827.5 500.9L829 500.4L830.5 500.8L832 500.8L833.5 500.8L835 501.1L836.5 501.2L838 500.7L839.5 500L841 499.4L842.5 500.1L844 501.1L845.5 500.7L847 500L848.5 500.2L850 500.8L851.5 500.7L853 500.4L854.5 500.9L856 501.2L857.5 501L859 501.1L860.5 501.5L862 501.3L863.5 500.7L865 500.5L866.5 500.8L868 501.1L869.5 501.1L871 501.4L872.5 501.6L874 501.7L875.5 501.5L877 500.5L878.5 500L880 500.7L881.5 501.3L883 501.2L884.5 501L886 500.7L887.5 500.3L889 500.6L890.5 501.3L892 501.1L893.5 500.4L895 500.1L896.5 500.8L898 501.6L899.5 501.2L901 501L902.5 501.7L904 502L905.5 501.8L907 501.7L908.5 501.7L910 501.5L911.5 501.2L913 501L914.5 501.4L916 501.8L917.5 501.4L919 500.6L920.5 501L922 501.4L923.5 501L925 501.2L926.5 501.5L928 501.2L929.5 500.7L931 500.9L932.5 501.6L934 501.7L935.5 501.2L937 501L938.5 501.2L940 501.2L941.5 500.4L943 500.1L944.5 500.4L946 500.3L947.5 500.4L949 500.9L950.5 500.9L952 500.7L953.5 500.6L955 500.4L956.5 500.4L958 500L959.5 500.1L961 500.8L962.5 500.7L964 500.4L965.5 500.7L967 501L968.5 501L970 501.1L971.5 501.2L973 500.7L974.5 500.4L976 500.9L977.5 501.6L979 501.9L980.5 501.7L982 501.2L983.5 501.1L985 501.2L986.5 501.1L988 501.4L989.5 501.3L991 500.8L992.5 500.7L994 501.3L995.5 502.3L997 502.5L998.5 501.5L1000 500.4L1001.5 500L1003 500.5L1004.5 500.8L1006 500.7L1007.5 500.7L1009 500.4L1010.5 500.5L1012 500.7L1013.5 500.6L1015 501.3L1016.5 501.3L1018 500.3L1019.5 500.2L1021 500.9L1022.5 500.8L1024 500.4L1025.5 500.5L1027 500.8L1028.5 501.1L1030 501.4L1031.5 501.7L1033 502.2L1034.5 502.2L1036 501.8L1037.5 501.9L1039 502L1040.5 501.3L1042 500.8L1043.5 501.1L1045 501.6L1046.5 501.8L1048 501.5L1049.5 501.3L1051 501.6L1052.5 501.9L1054 501.4L1055.5 501L1057 501L1058.5 500.9L1060 501L1061.5 501.1L1063 501.5L1064.5 501.8L1066 501.3L1067.5 500.9L1069 501.1L1070.5 501L1072 500.5L1073.5 500.4L1075 500.9L1076.5 501.2L1078 501L1079.5 500.6L1081 500.6L1082.5 501.4L1084 501.8L1085.5 501.5L1087 501.3L1088.5 501L1090 500.6L1091.5 500.6L1093 500.9L1094.5 501.1L1096 500.8L1097.5 500.7L1099 501.6L1100.5 502L1102 501.4L1103.5 501.2L1105 501.4L1106.5 501.1L1108 500.9L1109.5 501.3L1111 501.4L1112.5 501.5L1114 501.2L1115.5 500.8L1117 501L1118.5 501.2L1120 500.7L1121.5 500.5L1123 500.3L1124.5 500.4L1126 501.3L1127.5 501.5L1129 501.4L1130.5 501.3L1132 500.8L1133.5 501.1L1135 502L1136.5 501.3L1138 499.5L1139.5 498.8L1141 500L1142.5 501.1L1144 501L1145.5 500.9L1147 501L1148.5 500.8L1150 501.1L1151.5 501.5L1153 501.5L1154.5 501.1L1156 500.9L1157.5 501L1159 501.2L1160.5 502L1162 502.3L1163.5 500.7L1165 499.7L1166.5 500.4L1168 501.3L1169.5 501.8L1171 501.5L1172.5 500.7L1174 500.7L1175.5 501.1L1177 501L1178.5 501.2L1180 501.3L1181.5 501.4L1183 501.6L1184.5 501.6L1186 501.3L1187.5 500.8L1189 500.9L1190.5 501.1L1192 501.4L1193.5 501.5L1195 500.9L1196.5 500.4L1198 500.4L1199.5 500.8L1201 501L1202.5 501L1204 501.3L1205.5 501.3L1207 500.6L1208.5 500.3L1210 500.9L1211.5 500.9L1213 500.6L1214.5 501.4L1216 502L1217.5 501.5L1219 501.8L1220.5 502.4L1222 501.8L1223.5 500.8L1225 500.7L1226.5 500.8L1228 500.3L1229.5 500L1231 500.6L1232.5 500.8L1234 500.8L1235.5 501.1L1237 501.2L1238.5 500.8L1240 500.6L1241.5 501.3L1243 501.6L1244.5 501.4L1246 501.5L1247.5 501.2L1249 501L1250.5 501.2L1252 501.1L1253.5 501L1255 501L1256.5 500.7L1258 500.2L1259.5 500.4L1261 501.2L1262.5 501.2L1264 500.8L1265.5 500.7L1267 500.6L1268.5 500.1L1270 500L1271.5 500.3L1273 500.3L1274.5 500.3L1276 500.6L1277.5 500.7L1279 501.1L1280.5 501.7L1282 501.9L1283.5 501.6L1285 501L1286.5 500.2L1288 499.9L1289.5 499.8L1291 499.6L1292.5 500.2L1294 501.4L1295.5 501.9L1297 501.4L1298.5 500.7L1300 500.6L1301.5 500.7L1303 500.9L1304.5 501.1L1306 501.7L1307.5 502.3L1309 502.3L1310.5 502L1312 501.3L1313.5 500.9L1315 501.6L1316.5 501.7L1318 500.9L1319.5 500.3L1321 500L1322.5 500.5L1324 501L1325.5 500.7L1327 500.1L1328.5 500L1330 500.7L1331.5 501.3L1333 501.2L1334.5 500.7L1336 500.6L1337.5 501.2L1339 501L1340.5 500.8L1342 500.5L1343.5 499.8L1345 500.1L1346.5 500.7L1348 501.1L1349.5 501.4L1351 500.8L1352.5 499.9L1354 500.1L1355.5 500.7L1357 500.5L1358.5 499.7L1360 499.7L1361.5 500.6L1363 500.9L1364.5 500.3L1366 500.2L1367.5 500.4L1369 499.6L1370.5 500.3L1372 501.4L1373.5 501L1375 500.4L1376.5 500.4L1378 500.6L1379.5 500.4L1381 500.4L1382.5 500.4L1384 500.3L1385.5 500.4L1387 500L1388.5 499.9L1390 500.3L1391.5 500.5L1393 500.9L1394.5 501L1396 500.5L1397.5 500.1L1399 500.1L1400.5 500.4L1402 500.7L1403.5 500.7L1405 500.6L1405.6 500.6" stroke="#a0306e"/>
<path d="M295 484.7L296.5 485.4L298 486.3L299.5 486L301 485.3L302.5 485.6L304 486.1L305.5 486.1L307 486.1L308.5 486.8L310 487.7L311.5 488.2L313 488.2L314.5 487.8L316 487.9L317.5 488.4L319 488.3L320.5 488.6L322 488.7L323.5 488.4L325 488.5L326.5 489L328 489.6L329.5 490.1L331 490.2L332.5 489.6L334 489.7L335.5 490.2L337 490.3L338.5 490L340 490.4L341.5 490.9L343 491L344.5 491.7L346 492.2L347.5 492.6L349 492.5L350.5 491.9L352 491.8L353.5 492.6L355 493.3L356.5 493.4L358 493L359.5 492.8L361 493L362.5 493.3L364 493.7L365.5 494.5L367 495.1L368.5 494.6L370 494.5L371.5 494.7L373 494.5L374.5 494.7L376 495.3L377.5 495.4L379 495.3L380.5 495.8L382 495.8L383.5 495.9L385 496.4L386.5 496.6L388 496.6L389.5 496.3L391 496.1L392.5 496L394 496L395.5 496.3L397 495.8L398.5 495.9L400 496.9L401.5 496.4L403 496.2L404.5 496.8L406 496.9L407.5 496.6L409 496.3L410.5 495.8L412 495.3L413.5 495.1L415 495.7L416.5 496.6L418 497.5L419.5 497.7L421 497L422.5 496.8L424 496.7L425.5 496.3L427 495.8L428.5 495.7L430 496L431.5 496.2L433 496.6L434.5 497L436 497.5L437.5 497.5L439 497.5L440.5 497.8L442 497.6L443.5 497.3L445 497.1L446.5 497.4L448 497.9L449.5 498L451 497.9L452.5 497.7L454 497.4L455.5 497.2L457 497.2L458.5 497.8L460 497.9L461.5 497.8L463 497.9L464.5 497.7L466 497.8L467.5 498.1L469 497.8L470.5 497.4L472 497.3L473.5 497.4L475 498.1L476.5 498.1L478 498.3L479.5 499.4L481 499.4L482.5 498.6L484 498.5L485.5 498.9L487 498.9L488.5 498.3L490 498.3L491.5 498.7L493 498.6L494.5 498.6L496 498.3L497.5 497.6L499 496.9L500.5 496.7L502 497.8L503.5 498.5L505 498.3L506.5 498.8L508 499L509.5 498.5L511 498.3L512.5 498.2L514 497.9L515.5 498L517 498.4L518.5 498.9L520 498.8L521.5 498.5L523 498.5L524.5 498.3L526 498.3L527.5 498.6L529 498.6L530.5 498.6L532 498.5L533.5 498.3L535 498.1L536.5 498.6L538 499L539.5 499.3L541 499.6L542.5 498.6L544 497.3L545.5 498.2L547 499.4L548.5 499L550 498.4L551.5 498.6L553 499.4L554.5 499.7L556 499.5L557.5 499.5L559 499.8L560.5 499.3L562 498.7L563.5 499L565 499.1L566.5 499.1L568 499.3L569.5 498.5L571 498L572.5 499.3L574 499.8L575.5 499.1L577 498.9L578.5 498.8L580 498.6L581.5 498.9L583 499L584.5 498.7L586 498.4L587.5 498.8L589 499.8L590.5 500.1L592 499.7L593.5 499L595 498.9L596.5 499.7L598 499.7L599.5 499.1L601 498.9L602.5 498.4L604 498.7L605.5 499L607 498.4L608.5 498.3L610 499.2L611.5 499.6L613 499.6L614.5 499.6L616 499.6L617.5 499.9L619 499.8L620.5 499.6L622 499.7L623.5 500L625 500.7L626.5 500.9L628 500L629.5 499.1L631 498.6L632.5 498.8L634 499.2L635.5 499.3L637 499.3L638.5 499.5L640 499.3L641.5 498.7L643 498.9L644.5 499.9L646 499.9L647.5 499.7L649 499.7L650.5 499.4L652 498.8L653.5 498.7L655 499.4L656.5 499.9L658 500.1L659.5 500L661 499.7L662.5 499.8L664 500L665.5 499.6L667 499.4L668.5 499.7L670 500.1L671.5 500.5L673 500.5L674.5 500.2L676 499.9L677.5 499.6L679 499.7L680.5 500.1L682 500.5L683.5 500.1L685 499.6L686.5 499.8L688 499.7L689.5 499.4L691 499.1L692.5 499.7L694 500.6L695.5 500.4L697 499.7L698.5 499L700 498.8L701.5 499.2L703 499.6L704.5 499.6L706 499.4L707.5 499.9L709 500.1L710.5 499.7L712 499.5L713.5 499.4L715 499.6L716.5 500.2L718 500.3L719.5 499.7L721 499.7L722.5 499.8L724 499.3L725.5 499.1L727 499L728.5 499.2L730 499.9L731.5 500.6L733 501.2L734.5 501L736 500.4L737.5 499.7L739 499.4L740.5 499L742 498.9L743.5 499.6L745 499.4L746.5 498.8L748 499.3L749.5 500.1L751 500.2L752.5 499.7L754 499.6L755.5 499.4L757 499.1L758.5 499.4L760 499.2L761.5 499.1L763 499.3L764.5 499.1L766 499L767.5 498.9L769 498.8L770.5 499.2L772 499.4L773.5 499.1L775 499.5L776.5 500L778 499.5L779.5 499.5L781 499.7L782.5 499.5L784 499.4L785.5 499.5L787 499.7L788.5 499.5L790 499.4L791.5 499.9L793 499.7L794.5 499.2L796 498.9L797.5 499.1L799 499.4L800.5 499.8L802 499.7L803.5 499.1L805 499.3L806.5 500L808 500L809.5 500.1L811 500.4L812.5 500.1L814 499.8L815.5 500L817 500.5L818.5 500.2L820 499.5L821.5 499.3L823 499.4L824.5 499.9L826 500L827.5 499.5L829 498.9L830.5 498.8L832 499.4L833.5 499.6L835 499.5L836.5 499.6L838 499.2L839.5 498.9L841 498.7L842.5 499.3L844 500.2L845.5 499.9L847 499.5L848.5 499.1L850 498.3L851.5 498.8L853 499.3L854.5 499.2L856 499L857.5 498.7L859 499.2L860.5 499.4L862 498.3L863.5 498.3L865 499L866.5 499.2L868 499.2L869.5 499.5L871 499.3L872.5 498.8L874 498.7L875.5 498.3L877 497.6L878.5 498L880 499.2L881.5 500L883 499.9L884.5 499L886 498.9L887.5 499.4L889 499.5L890.5 499.6L892 499.4L893.5 498.6L895 497.9L896.5 498.8L898 500.1L899.5 500.4L901 500L902.5 499.4L904 498.9L905.5 499L907 499.4L908.5 499.6L910 500L911.5 500.1L913 499.6L914.5 499.2L916 499.2L917.5 499.5L919 499.4L920.5 499.3L922 499.8L923.5 500.1L925 499.6L926.5 498.9L928 498.8L929.5 499L931 498.9L932.5 498.9L934 499.4L935.5 499.5L937 499.4L938.5 499.9L940 500L941.5 499.4L943 500.1L944.5 500.5L946 499.7L947.5 499.2L949 499L950.5 499.1L952 499.4L953.5 499.2L955 498.8L956.5 498.7L958 498.8L959.5 498.8L961 498.9L962.5 498.9L964 498.8L965.5 499.1L967 499L968.5 498.5L970 498.7L971.5 498.8L973 498.4L974.5 498.3L976 498.5L977.5 498.9L979 499L980.5 499.1L982 499.3L983.5 499.3L985 499.7L986.5 499.7L988 499.3L989.5 500L991 500.5L992.5 499.8L994 499.5L995.5 499.5L997 499.3L998.5 499.2L1000 499.3L1001.5 499.8L1003 500L1004.5 499.9L1006 500.3L1007.5 500.4L1009 499.8L1010.5 499.7L1012 500.4L1013.5 500L1015 498.5L1016.5 498.3L1018 499.2L1019.5 500L1021 500.1L1022.5 499.6L1024 499.6L1025.5 499.5L1027 499.2L1028.5 499.4L1030 499.5L1031.5 499.4L1033 499.2L1034.5 498.7L1036 498.7L1037.5 499.3L1039 499.5L1040.5 499.6L1042 499.8L1043.5 499.2L1045 498.7L1046.5 499L1048 499.3L1049.5 499.6L1051 500L1052.5 500.2L1054 500.2L1055.5 499.9L1057 499.7L1058.5 499.8L1060 499.6L1061.5 499.3L1063 499.1L1064.5 499.2L1066 499.4L1067.5 499.9L1069 500.9L1070.5 501.1L1072 500.4L1073.5 499.8L1075 499.8L1076.5 499.6L1078 499.2L1079.5 499.2L1081 499.2L1082.5 499.4L1084 499.8L1085.5 499.4L1087 499.2L1088.5 499.5L1090 499L1091.5 498.6L1093 498.9L1094.5 499.5L1096 499.8L1097.5 499.5L1099 499.1L1100.5 499.1L1102 499.3L1103.5 498.9L1105 498.7L1106.5 498.7L1108 498.9L1109.5 499.5L1111 499.3L1112.5 498.7L1114 499.2L1115.5 499.4L1117 499.5L1118.5 499.7L1120 499.2L1121.5 499.3L1123 499.6L1124.5 499.3L1126 499.1L1127.5 499.4L1129 499.2L1130.5 499.1L1132 499.7L1133.5 499.3L1135 498.2L1136.5 498.9L1138 500.4L1139.5 500.6L1141 499.5L1142.5 498.7L1144 499.2L1145.5 499.9L1147 499.7L1148.5 499.2L1150 499.2L1151.5 499.6L1153 499.6L1154.5 499.6L1156 500.1L1157.5 500.3L1159 499.9L1160.5 499.2L1162 498.9L1163.5 499.7L1165 500L1166.5 499.1L1168 498.2L1169.5 498.6L1171 499.8L1172.5 500.5L1174 500.3L1175.5 500.1L1177 500.2L1178.5 499.9L1180 499L1181.5 498.5L1183 498.6L1184.5 498.9L1186 499.2L1187.5 499.1L1189 498.9L1190.5 499L1192 499.5L1193.5 500L1195 500.2L1196.5 500.8L1198 500.4L1199.5 499.4L1201 499.6L1202.5 499.5L1204 498.9L1205.5 499.3L1207 499.5L1208.5 499.3L1210 499L1211.5 499.2L1213 499.5L1214.5 499.2L1216 499L1217.5 498.9L1219 498.9L1220.5 498.7L1222 498.6L1223.5 499.4L1225 499.8L1226.5 499.7L1228 499.5L1229.5 499.5L1231 499.8L1232.5 499.4L1234 499.3L1235.5 499.9L1237 500L1238.5 499.3L1240 498.7L1241.5 498.6L1243 498.2L1244.5 498.5L1246 499.4L1247.5 499.8L1249 499.4L1250.5 498.8L1252 498.6L1253.5 498.6L1255 499L1256.5 499.1L1258 498.8L1259.5 498.5L1261 498.5L1262.5 498.9L1264 499L1265.5 498.6L1267 498.7L1268.5 499.3L1270 499.8L1271.5 499.8L1273 499.2L1274.5 498.4L1276 498.4L1277.5 499.5L1279 500.1L1280.5 500.1L1282 499.9L1283.5 499.3L1285 499.3L1286.5 499.6L1288 499.2L1289.5 499.3L1291 499.6L1292.5 499.8L1294 499.8L1295.5 499.1L1297 498.3L1298.5 497.9L1300 498.1L1301.5 498.6L1303 498.8L1304.5 499.1L1306 499.1L1307.5 498.5L1309 498.2L1310.5 498.9L1312 499.1L1313.5 498.6L1315 498.9L1316.5 500L1318 500.3L1319.5 500L1321 499.7L1322.5 499.3L1324 499.1L1325.5 499.2L1327 499.1L1328.5 498.9L1330 499L1331.5 499.3L1333 499.3L1334.5 499.5L1336 499.8L1337.5 499.1L1339 498.9L1340.5 499.3L1342 498.8L1343.5 498.7L1345 498.3L1346.5 497.7L1348 498L1349.5 498.5L1351 498.9L1352.5 499.4L1354 499.8L1355.5 500.3L1357 500.3L1358.5 499.9L1360 499.5L1361.5 499.3L1363 498.8L1364.5 499.1L1366 499.9L1367.5 499.4L1369 498.5L1370.5 498.7L1372 499.5L1373.5 499.8L1375 499.3L1376.5 498.2L1378 498L1379.5 498.4L1381 498.6L1382.5 498.8L1384 499.1L1385.5 499.2L1387 499.2L1388.5 499.5L1390 499.6L1391.5 499L1393 498.8L1394.5 499.4L1396 499.5L1397.5 499.3L1399 498.8L1400.5 498.5L1402 498.8L1403.5 498.6L1405 498.6L1405.6 499.3" stroke="#7a7a38"/>
<path d="M295 486.3L296.5 486.5L298 487.3L299.5 488.2L301 488.8L302.5 488.6L304 488.3L305.5 488.6L307 489.7L308.5 490.4L310 489.9L311.5 489.3L313 489.9L314.5 491L316 490.8L317.5 490.2L319 490.5L320.5 490.8L322 491L323.5 491.4L325 491.8L326.5 492.4L328 492.5L329.5 492.6L331 493.2L332.5 493.2L334 492.7L335.5 492.8L337 493.1L338.5 493.2L340 493.4L341.5 493.9L343 494.2L344.5 494.1L346 494L347.5 494.1L349 494.1L350.5 494.3L352 494.8L353.5 495.2L355 496L356.5 495.9L358 495.2L359.5 495.4L361 495.7L362.5 496.1L364 496L365.5 495.6L367 496.1L368.5 496.9L370 497.1L371.5 496.9L373 497L374.5 496.9L376 496.8L377.5 497.3L379 498.2L380.5 498.8L382 499.1L383.5 498.8L385 498.6L386.5 498.3L388 497.9L389.5 498.1L391 498.5L392.5 498.2L394 498.1L395.5 498.3L397 498.3L398.5 498.1L400 498.1L401.5 498.3L403 498.2L404.5 498.1L406 498.2L407.5 497.7L409 497.3L410.5 497.8L412 498.5L413.5 498.3L415 497.7L416.5 497.9L418 498.3L419.5 497.9L421 497.9L422.5 498.4L424 498.2L425.5 498.3L427 498.6L428.5 498.5L430 499L431.5 499.3L433 498.6L434.5 497.8L436 497.7L437.5 498.3L439 498.8L440.5 498.9L442 498.7L443.5 498.5L445 498.5L446.5 498.7L448 499L449.5 499L451 499.5L452.5 500.2L454 499.5L455.5 499L457 499.7L458.5 499.6L460 499.1L461.5 499.5L463 499.4L464.5 498.9L466 498.7L467.5 498.8L469 499.5L470.5 499.9L472 499.7L473.5 500L475 500.2L476.5 499.5L478 499.3L479.5 499.3L481 498.8L482.5 498.9L484 499.5L485.5 499.7L487 499.5L488.5 499.8L490 500.1L491.5 500.2L493 500.3L494.5 500.3L496 500.5L497.5 500.9L499 500.5L500.5 500.2L502 500L503.5 499.6L505 499.7L506.5 500.3L508 500.7L509.5 500.8L511 500L512.5 499.8L514 500.8L515.5 500.7L517 500.1L518.5 500.4L520 500L521.5 499.2L523 499.4L524.5 500.2L526 500.6L527.5 500.1L529 499.8L530.5 499.9L532 499.8L533.5 499.8L535 500.4L536.5 500.9L538 500.6L539.5 499.7L541 499.6L542.5 499.9L544 499.9L545.5 499.5L547 499.9L548.5 501.1L550 501L551.5 500.4L553 500.9L554.5 500.7L556 499.5L557.5 499.6L559 500.3L560.5 500.6L562 500.5L563.5 500.3L565 500.8L566.5 501.8L568 501.8L569.5 500.6L571 500.6L572.5 501.3L574 500.6L575.5 500.1L577 500.6L578.5 501.1L580 501.3L581.5 500.8L583 500.4L584.5 500.7L586 501.3L587.5 501.6L589 500.8L590.5 499.8L592 500.2L593.5 501L595 500.3L596.5 499.5L598 500L599.5 500.9L601 501L602.5 500.7L604 501L605.5 501.1L607 500.6L608.5 500.9L610 501.9L611.5 502.2L613 501.6L614.5 501.4L616 501.4L617.5 501L619 500.6L620.5 500.4L622 500.6L623.5 501.4L625 502L626.5 501.7L628 501.7L629.5 501.7L631 501.4L632.5 500.9L634 500.2L635.5 500.6L637 500.8L638.5 499.8L640 500.1L641.5 501.1L643 500.8L644.5 500.3L646 500.4L647.5 500.8L649 501.2L650.5 501.2L652 500.8L653.5 500.6L655 501.1L656.5 501.6L658 501.6L659.5 501.3L661 500.7L662.5 500.2L664 500.5L665.5 501.1L667 501L668.5 500.2L670 500.1L671.5 500.6L673 500.8L674.5 500.7L676 500.8L677.5 501.1L679 501.4L680.5 501.7L682 501.9L683.5 502L685 501.6L686.5 501L688 501L689.5 501.1L691 501.1L692.5 501.4L694 501.5L695.5 500.5L697 500.3L698.5 501.1L700 501.4L701.5 501L703 500.9L704.5 501.6L706 501.7L707.5 501L709 500.8L710.5 500.9L712 500.9L713.5 500.6L715 500.7L716.5 501.3L718 501.3L719.5 501L721 500.5L722.5 500.1L724 500.6L725.5 500.9L727 500.8L728.5 500.7L730 500.8L731.5 501L733 500.7L734.5 500.2L736 500.4L737.5 501L739 501.2L740.5 500.6L742 500.4L743.5 500.9L745 501L746.5 501.3L748 501.1L749.5 500.5L751 500.7L752.5 501.3L754 501.5L755.5 501.3L757 501.9L758.5 502.1L760 501.1L761.5 500.2L763 500L764.5 500L766 500.2L767.5 500.2L769 500.4L770.5 500.4L772 499.6L773.5 500.3L775 501.8L776.5 502L778 501.6L779.5 501.7L781 502L782.5 501.7L784 500.9L785.5 500.4L787 500.5L788.5 500.5L790 500.4L791.5 500.5L793 500.7L794.5 501L796 501L797.5 500.6L799 501L800.5 501.8L802 501.7L803.5 501.8L805 502.1L806.5 502L808 501.3L809.5 500.5L811 500.5L812.5 500.4L814 500.1L815.5 500.2L817 500L818.5 500L820 500.7L821.5 500.9L823 500.5L824.5 500.3L826 500.5L827.5 500.6L829 500.7L830.5 500.8L832 500.9L833.5 501.2L835 501.4L836.5 501.1L838 500.6L839.5 500.7L841 501L842.5 501L844 500.4L845.5 499.3L847 499.3L848.5 500.6L850 501.5L851.5 501.9L853 501.7L854.5 501.3L856 500.7L857.5 500.6L859 500.9L860.5 501L862 501.1L863.5 501.3L865 501.4L866.5 501.4L868 500.9L869.5 500.5L871 500.4L872.5 501L874 501.6L875.5 501.5L877 501.6L878.5 501.8L880 501.7L881.5 501.3L883 500.8L884.5 501.3L886 501.6L887.5 501L889 500.7L890.5 500.8L892 500.7L893.5 500.9L895 501.4L896.5 500.8L898 500.6L899.5 501.7L901 502L902.5 501.6L904 501.3L905.5 500.9L907 501L908.5 501.5L910 501.8L911.5 501.7L913 501.2L914.5 500.8L916 501.1L917.5 501.8L919 501.8L920.5 501.1L922 501L923.5 501.6L925 501.8L926.5 501.2L928 500.5L929.5 500.4L931 500.7L932.5 500.6L934 500.6L935.5 501.3L937 501.5L938.5 501L940 500.6L941.5 501L943 501.2L944.5 500.7L946 500.9L947.5 501.2L949 501L950.5 501.1L952 501.3L953.5 501.6L955 501.6L956.5 501.7L958 502.1L959.5 502.1L961 501.5L962.5 500.6L964 500.6L965.5 501.4L967 501.6L968.5 501.4L970 501.1L971.5 500.7L973 500.6L974.5 500.6L976 500.8L977.5 500.7L979 500.6L980.5 501.3L982 501.6L983.5 500.8L985 500.7L986.5 501.2L988 501.4L989.5 501.8L991 501.5L992.5 501.2L994 501.6L995.5 502L997 501.8L998.5 501.4L1000 500.9L1001.5 500.2L1003 500.6L1004.5 501.7L1006 501.8L1007.5 501.6L1009 501.3L1010.5 501L1012 500.8L1013.5 500.8L1015 500.8L1016.5 500.7L1018 500.8L1019.5 501.1L1021 501.1L1022.5 501.3L1024 501.4L1025.5 501.6L1027 501.3L1028.5 500.3L1030 500.1L1031.5 501.1L1033 502L1034.5 502.3L1036 502L1037.5 501.3L1039 501L1040.5 501.3L1042 501.2L1043.5 500.5L1045 500.3L1046.5 500.8L1048 500.4L1049.5 499.8L1051 500.4L1052.5 501.1L1054 501L1055.5 501.2L1057 501L1058.5 500.7L1060 500.9L1061.5 500.8L1063 500.6L1064.5 501.2L1066 501.4L1067.5 500.3L1069 499.6L1070.5 500.3L1072 501.5L1073.5 501.3L1075 500.7L1076.5 500.4L1078 499.9L1079.5 499.9L1081 500.7L1082.5 500.7L1084 499.9L1085.5 499.9L1087 500.4L1088.5 500.9L1090 501.4L1091.5 501.9L1093 502.1L1094.5 502.1L1096 501.6L1097.5 500.7L1099 500.7L1100.5 501.5L1102 501.4L1103.5 500.6L1105 499.7L1106.5 499.9L1108 501L1109.5 501.3L1111 500.9L1112.5 500.4L1114 500.2L1115.5 501L1117 501.9L1118.5 502L1120 501.3L1121.5 500.7L1123 500.7L1124.5 501.7L1126 501.9L1127.5 501.2L1129 501L1130.5 501L1132 500.2L1133.5 499.7L1135 500.4L1136.5 500.9L1138 500.3L1139.5 499.6L1141 499.6L1142.5 501L1144 501.5L1145.5 501.1L1147 500.7L1148.5 500.6L1150 500.8L1151.5 500.8L1153 500.8L1154.5 501L1156 501.4L1157.5 501.4L1159 500.8L1160.5 500.7L1162 500.5L1163.5 499.8L1165 499.8L1166.5 500.5L1168 500.5L1169.5 500.5L1171 500.8L1172.5 500.6L1174 500.7L1175.5 501.1L1177 501.6L1178.5 501.4L1180 501L1181.5 501.2L1183 501.2L1184.5 501L1186 501.1L1187.5 501L1189 500.7L1190.5 501.1L1192 501.5L1193.5 501.6L1195 501.7L1196.5 501.2L1198 500.8L1199.5 500.7L1201 500.4L1202.5 500.2L1204 500.5L1205.5 500.7L1207 500.8L1208.5 501.5L1210 501.5L1211.5 500.8L1213 501.1L1214.5 501.3L1216 501.7L1217.5 502.4L1219 502.2L1220.5 501.5L1222 500.7L1223.5 500.2L1225 500.7L1226.5 500.9L1228 500.9L1229.5 501.3L1231 501.9L1232.5 502.4L1234 502.2L1235.5 501.7L1237 501.3L1238.5 501.3L1240 501.1L1241.5 501L1243 501.4L1244.5 500.9L1246 500.6L1247.5 501.9L1249 502.2L1250.5 501L1252 501.3L1253.5 502.3L1255 501.3L1256.5 500L1258 500.7L1259.5 501.9L1261 501.9L1262.5 501.8L1264 501.9L1265.5 501.5L1267 500.6L1268.5 500.3L1270 500.6L1271.5 500.6L1273 501.1L1274.5 501.9L1276 501.7L1277.5 501.2L1279 501.2L1280.5 501.6L1282 501.3L1283.5 500.7L1285 501.2L1286.5 502L1288 501.6L1289.5 500.7L1291 500.1L1292.5 499.7L1294 500.5L1295.5 501.5L1297 501.1L1298.5 500.5L1300 500.5L1301.5 500.8L1303 500.8L1304.5 500.6L1306 500.7L1307.5 501.5L1309 501.7L1310.5 501L1312 500.9L1313.5 501.1L1315 500.5L1316.5 500.3L1318 500.7L1319.5 500.9L1321 500.7L1322.5 500.6L1324 500.7L1325.5 500.1L1327 499.5L1328.5 499.9L1330 500.5L1331.5 500.5L1333 501L1334.5 501.6L1336 501.5L1337.5 501L1339 500.7L1340.5 500.8L1342 500.5L1343.5 500.6L1345 501.1L1346.5 501.3L1348 501.7L1349.5 501.5L1351 501L1352.5 501.4L1354 501.3L1355.5 500.4L1357 500L1358.5 500.4L1360 500.9L1361.5 501.2L1363 500.9L1364.5 500.6L1366 500.9L1367.5 501.7L1369 501.8L1370.5 501L1372 500.6L1373.5 501.1L1375 501.3L1376.5 501.6L1378 502L1379.5 501.5L1381 500.5L1382.5 500.7L1384 501.5L1385.5 501.6L1387 501.4L1388.5 500.9L1390 500.6L1391.5 501.3L1393 501.9L1394.5 501.3L1396 500.6L1397.5 500.6L1399 500.8L1400.5 501.3L1402 502L1403.5 502.2L1405 501.5L1405.6 500.9" stroke="#7a1c1c"/>
<path d="M295 476.1L296.5 476.7L298 477.1L299.5 477.7L301 478.9L302.5 479.5L304 480L305.5 480.6L307 480.8L308.5 480.5L310 480.3L311.5 480.6L313 481.1L314.5 480.7L316 479.9L317.5 480.3L319 481.6L320.5 482.2L322 482L323.5 481.6L325 481.8L326.5 481.4L328 480.8L329.5 481.4L331 482.2L332.5 482.6L334 482.9L335.5 482.9L337 483.5L338.5 484L340 484.1L341.5 484.4L343 485.2L344.5 485.5L346 484.5L347.5 484.1L349 485.2L350.5 486.1L352 485.5L353.5 484.9L355 484.7L356.5 484.5L358 485.6L359.5 487L361 486.2L362.5 485.4L364 486.3L365.5 486.8L367 486.4L368.5 486.5L370 487.4L371.5 487.7L373 487.5L374.5 488.4L376 489.2L377.5 488.4L379 488.2L380.5 489.4L382 490.1L383.5 490.2L385 490.7L386.5 491.6L388 492.1L389.5 492.4L391 492.2L392.5 491.8L394 492.2L395.5 492.8L397 493.5L398.5 494.3L400 494.8L401.5 494.7L403 494.6L404.5 495.1L406 495.3L407.5 494.8L409 494.2L410.5 494.7L412 496.1L413.5 496.6L415 496.1L416.5 495.8L418 495.7L419.5 496.1L421 496.2L422.5 496.5L424 497.7L425.5 497.9L427 496.6L428.5 495.6L430 495.8L431.5 496.5L433 496.5L434.5 496.1L436 496.1L437.5 496.3L439 496.9L440.5 497.5L442 498.2L443.5 499.6L445 500.8L446.5 501.6L448 501.7L449.5 501.8L451 503.2L452.5 504L454 503.4L455.5 502.7L457 502.7L458.5 502.8L460 503.5L461.5 504.5L463 504.5L464.5 503.9L466 503.4L467.5 503.5L469 503.6L470.5 502.9L472 501.6L473.5 500.3L475 498.9L476.5 497.4L478 496.9L479.5 497L481 496.9L482.5 496.5L484 496.8L485.5 497.5L487 497.8L488.5 497.6L490 497.3L491.5 497.2L493 497.2L494.5 496.8L496 496.4L497.5 496.7L499 496.6L500.5 495.9L502 495.5L503.5 495.5L505 495.8L506.5 496.3L508 496.4L509.5 495.8L511 496.1L512.5 497.4L514 496.8L515.5 495.2L517 494.9L518.5 494.7L520 495L521.5 495.9L523 496.7L524.5 496.9L526 496.2L527.5 496L529 496.4L530.5 496.1L532 495.9L533.5 495.7L535 495L536.5 494.8L538 495.6L539.5 495.8L541 495.6L542.5 496.1L544 496.4L545.5 495.5L547 495.5L548.5 495L550 493.8L551.5 494L553 495L554.5 495L556 494.7L557.5 495.1L559 495.8L560.5 496L562 496.1L563.5 496.3L565 496.2L566.5 495.8L568 496.4L569.5 496.9L571 496.8L572.5 496.6L574 496.2L575.5 496.6L577 496.4L578.5 495.4L580 495.1L581.5 495.2L583 495.4L584.5 495.4L586 495.3L587.5 495.8L589 496.6L590.5 497.2L592 497.3L593.5 496.9L595 496L596.5 496L598 496.5L599.5 496.7L601 496.4L602.5 496.3L604 496.8L605.5 496.9L607 496.8L608.5 497.2L610 497.1L611.5 496.8L613 496.9L614.5 497.4L616 498L617.5 497.9L619 497.2L620.5 497.2L622 497.6L623.5 497L625 496.8L626.5 497.6L628 497.9L629.5 497.8L631 498.3L632.5 498.6L634 498L635.5 498.1L637 498.6L638.5 497.7L640 496.7L641.5 496.8L643 497.2L644.5 497.5L646 497L647.5 496.7L649 497.7L650.5 499.2L652 499.3L653.5 498.2L655 498.1L656.5 497.8L658 497.2L659.5 497.2L661 497.4L662.5 497.9L664 498.3L665.5 498L667 498.3L668.5 498.1L670 497.1L671.5 496.8L673 497L674.5 497.7L676 498.5L677.5 498.5L679 498.3L680.5 497.9L682 497.6L683.5 497.8L685 497.6L686.5 496.8L688 496.8L689.5 497L691 496.7L692.5 496.8L694 497.3L695.5 497.9L697 498.2L698.5 498.2L700 497.4L701.5 497L703 497.5L704.5 497.3L706 496.9L707.5 497.6L709 498.1L710.5 497.8L712 497.1L713.5 496.6L715 496.8L716.5 497.2L718 497.5L719.5 497.1L721 496.7L722.5 496.6L724 497L725.5 497.8L727 498.2L728.5 497.7L730 497.4L731.5 497.3L733 497.3L734.5 497.7L736 497.2L737.5 496.4L739 496.6L740.5 497L742 497.1L743.5 497.3L745 497.4L746.5 497L748 496.8L749.5 496.4L751 495.8L752.5 496.1L754 496.7L755.5 496.7L757 496.7L758.5 496.7L760 496.3L761.5 496.2L763 497L764.5 497.6L766 496.5L767.5 495.6L769 496.1L770.5 496.8L772 497.4L773.5 498.4L775 498.5L776.5 497.5L778 496.9L779.5 497L781 497L782.5 496.6L784 495.9L785.5 496.1L787 497.1L788.5 497.2L790 496.4L791.5 496.4L793 496.9L794.5 496.2L796 496L797.5 496.5L799 496.5L800.5 496.9L802 497.2L803.5 496.8L805 496.2L806.5 495.7L808 495.8L809.5 496.6L811 496.8L812.5 495.9L814 495.4L815.5 495.7L817 496L818.5 496L820 495.9L821.5 495.8L823 496.3L824.5 496.9L826 496.5L827.5 496.9L829 497.5L830.5 496.6L832 495.5L833.5 495.3L835 495.9L836.5 496.5L838 496.3L839.5 495.7L841 495.5L842.5 496.3L844 497.1L845.5 496.6L847 495.3L848.5 495.2L850 495.7L851.5 495.5L853 495.2L854.5 495.7L856 496.8L857.5 496.6L859 496L860.5 496L862 495.7L863.5 495.8L865 495.7L866.5 496L868 496.4L869.5 496L871 495.9L872.5 496.4L874 496.5L875.5 496.2L877 496L878.5 496L880 496.4L881.5 496.5L883 495.5L884.5 495.1L886 495.4L887.5 495.7L889 496L890.5 495.8L892 495.7L893.5 496L895 495.3L896.5 495.1L898 495.8L899.5 495.5L901 495L902.5 495.2L904 495.3L905.5 495.1L907 494.3L908.5 493.8L910 494L911.5 494.5L913 494.5L914.5 494.5L916 494.3L917.5 493.6L919 493.5L920.5 494.2L922 494.9L923.5 494.6L925 493.8L926.5 494.5L928 495.4L929.5 494.2L931 493.3L932.5 494.6L934 495.6L935.5 494.9L937 494.1L938.5 494.4L940 494.8L941.5 494.8L943 495.1L944.5 495.3L946 494.7L947.5 494.6L949 494.7L950.5 494.6L952 494.8L953.5 494.8L955 494.3L956.5 494.3L958 494.2L959.5 493.5L961 493.5L962.5 494.2L964 494.6L965.5 494.9L967 495.1L968.5 494.9L970 495.1L971.5 495.9L973 496L974.5 495L976 494.4L977.5 494.8L979 495.3L980.5 495.1L982 494L983.5 493.6L985 494.1L986.5 494L988 494.1L989.5 494.1L991 493.9L992.5 493.8L994 493.2L995.5 492.3L997 492.7L998.5 493.3L1000 493.7L1001.5 494.3L1003 494.6L1004.5 494.3L1006 494.6L1007.5 494.5L1009 494L1010.5 494L1012 493.9L1013.5 494.5L1015 495.3L1016.5 494.7L1018 493.7L1019.5 493.4L1021 493.3L1022.5 493.7L1024 494.4L1025.5 494.6L1027 495.1L1028.5 495L1030 493.5L1031.5 492.8L1033 492.8L1034.5 493L1036 493.3L1037.5 493.8L1039 494.7L1040.5 495.3L1042 495.6L1043.5 494.8L1045 493.9L1046.5 494.6L1048 494.8L1049.5 493.8L1051 493.4L1052.5 494.1L1054 494.3L1055.5 494.1L1057 494L1058.5 493.3L1060 493.1L1061.5 493.4L1063 493.8L1064.5 494.5L1066 494.7L1067.5 494.7L1069 494.8L1070.5 494.9L1072 494.9L1073.5 494.7L1075 495.3L1076.5 496L1078 495.3L1079.5 494.4L1081 494.4L1082.5 495.2L1084 495.4L1085.5 494.5L1087 494.4L1088.5 494.5L1090 494.6L1091.5 495L1093 495L1094.5 494.6L1096 494L1097.5 493.7L1099 494L1100.5 494.3L1102 494.5L1103.5 494.5L1105 493.8L1106.5 492.8L1108 493.1L1109.5 495L1111 496.1L1112.5 495.3L1114 494.1L1115.5 493.3L1117 493.3L1118.5 493.9L1120 494.7L1121.5 495.2L1123 495L1124.5 494.2L1126 493.5L1127.5 493.1L1129 493.9L1130.5 494.8L1132 494.3L1133.5 493.8L1135 494.2L1136.5 494.5L1138 494.8L1139.5 494.5L1141 493.6L1142.5 494.2L1144 495L1145.5 494.4L1147 493.5L1148.5 494.2L1150 495.7L1151.5 495.8L1153 495.3L1154.5 494.8L1156 494.3L1157.5 494.5L1159 494.9L1160.5 494.4L1162 493.6L1163.5 494L1165 494.6L1166.5 494.4L1168 494.3L1169.5 494.4L1171 494.1L1172.5 494L1174 494.5L1175.5 495.2L1177 495.5L1178.5 495.8L1180 495.9L1181.5 495.4L1183 494.9L1184.5 495.1L1186 495.2L1187.5 494.2L1189 493.3L1190.5 493.7L1192 494.5L1193.5 494.3L1195 493.7L1196.5 494.3L1198 495L1199.5 494.6L1201 494.7L1202.5 495L1204 494.6L1205.5 494.8L1207 495.1L1208.5 495.1L1210 495L1211.5 494.8L1213 494.4L1214.5 494.4L1216 495.1L1217.5 495.2L1219 494.7L1220.5 495.2L1222 496.1L1223.5 495.9L1225 495.1L1226.5 494.7L1228 495L1229.5 495L1231 494.3L1232.5 494.2L1234 494.8L1235.5 495.3L1237 494.9L1238.5 494.4L1240 494.6L1241.5 495.2L1243 496.3L1244.5 496.7L1246 496.6L1247.5 495.5L1249 494.2L1250.5 495L1252 495.9L1253.5 495.3L1255 494.8L1256.5 494.9L1258 495L1259.5 495.3L1261 495.2L1262.5 494.5L1264 494.8L1265.5 496.2L1267 496.9L1268.5 496.5L1270 495.5L1271.5 495L1273 495.5L1274.5 495.7L1276 494.9L1277.5 494.5L1279 495L1280.5 495.6L1282 496L1283.5 495.6L1285 495.1L1286.5 495.2L1288 495.7L1289.5 495.6L1291 495.4L1292.5 496.1L1294 496.3L1295.5 496.1L1297 496.2L1298.5 495.6L1300 494.6L1301.5 494.7L1303 496.1L1304.5 497.1L1306 496.6L1307.5 495.9L1309 495.7L1310.5 496.3L1312 496.6L1313.5 496.1L1315 495.8L1316.5 495.7L1318 495.6L1319.5 496.2L1321 497.3L1322.5 496.5L1324 494.7L1325.5 494.6L1327 495.3L1328.5 495.7L1330 496.4L1331.5 496.9L1333 497.4L1334.5 497.4L1336 497L1337.5 497.2L1339 497.2L1340.5 496.3L1342 496L1343.5 496.5L1345 496.4L1346.5 496.2L1348 497L1349.5 498.1L1351 498.4L1352.5 497.3L1354 496L1355.5 496.2L1357 496.4L1358.5 495.7L1360 495.5L1361.5 496.4L1363 496.8L1364.5 496.3L1366 496.2L1367.5 496.6L1369 497L1370.5 497.7L1372 498.1L1373.5 497.4L1375 496.7L1376.5 496.9L1378 497.2L1379.5 497.3L1381 497.1L1382.5 496.6L1384 496.9L1385.5 497L1387 497.4L1388.5 498.1L1390 497.5L1391.5 496.7L1393 496.2L1394.5 496.4L1396 496.7L1397.5 496.8L1399 497.2L1400.5 497.1L1402 497.3L1403.5 497.7L1405 497.6L1405.6 497.5" stroke="#33dd33" stroke-width="5"/>
<path d="M295 482.5L296.5 482.9L298 484.1L299.5 484.9L301 484.5L302.5 484.1L304 485.1L305.5 486.4L307 486L308.5 485.5L310 486.1L311.5 486.8L313 487.6L314.5 488.1L316 487.2L317.5 486.8L319 487.9L320.5 488.2L322 487.8L323.5 487.2L325 487.6L326.5 488.2L328 487.6L329.5 487.2L331 487.9L332.5 489L334 488.9L335.5 488.5L337 489.5L338.5 489.9L340 488.7L341.5 488.5L343 489.3L344.5 489.3L346 488.8L347.5 489L349 489.9L350.5 490L352 489.7L353.5 490.3L355 491.4L356.5 491.1L358 489.8L359.5 489.9L361 491.1L362.5 491.5L364 490.9L365.5 490.9L367 491.8L368.5 492.3L370 492.1L371.5 492.1L373 492.9L374.5 492.8L376 493L377.5 493.5L379 493.3L380.5 493.1L382 492.9L383.5 493.2L385 493.4L386.5 493.2L388 493.6L389.5 494.4L391 495.1L392.5 494.7L394 494.4L395.5 495.1L397 496.4L398.5 498L400 498.1L401.5 496.9L403 496.9L404.5 498L406 497.3L407.5 496.4L409 496.6L410.5 496.9L412 497.9L413.5 498L415 497.1L416.5 496.6L418 497L419.5 498.4L421 498.8L422.5 498.9L424 499L425.5 498.2L427 497.6L428.5 497.9L430 498.1L431.5 497.8L433 498L434.5 498.5L436 498.5L437.5 497.9L439 497.6L440.5 498.3L442 499.9L443.5 501.5L445 502.3L446.5 502.8L448 503.7L449.5 504.7L451 505.1L452.5 505.1L454 505.8L455.5 506.1L457 506.5L458.5 507.7L460 507.1L461.5 505.2L463 505.3L464.5 506.1L466 505.5L467.5 504.5L469 504.4L470.5 504.2L472 503.3L473.5 502.6L475 501.4L476.5 500L478 499.1L479.5 499.2L481 499.3L482.5 498.5L484 498.1L485.5 498.4L487 498.7L488.5 498.5L490 498.5L491.5 498.6L493 498.2L494.5 498.4L496 498.7L497.5 497.9L499 497.7L500.5 497.7L502 496.9L503.5 496.3L505 495.9L506.5 495.9L508 496.8L509.5 497.6L511 498.3L512.5 498.7L514 498L515.5 497.6L517 497.4L518.5 496.6L520 495.9L521.5 496.3L523 497L524.5 497.1L526 496.9L527.5 496.7L529 496.8L530.5 496.8L532 496.4L533.5 495.9L535 496.1L536.5 497.2L538 497.9L539.5 497.7L541 497.9L542.5 498.4L544 497.6L545.5 496.3L547 495.6L548.5 496.6L550 497.3L551.5 496.7L553 496.5L554.5 496.9L556 496.8L557.5 496.8L559 497.5L560.5 497.4L562 495.9L563.5 495.3L565 496.8L566.5 497.5L568 496.8L569.5 495.9L571 496.2L572.5 497L574 497.4L575.5 497.7L577 497.6L578.5 496.7L580 496.4L581.5 497.5L583 497.9L584.5 496.7L586 496.9L587.5 498L589 497.8L590.5 498L592 498.3L593.5 497.6L595 497.7L596.5 498.2L598 497.9L599.5 497.5L601 497.4L602.5 497.9L604 497.9L605.5 497.2L607 497.7L608.5 498.3L610 498.2L611.5 498.3L613 498.5L614.5 498.1L616 497.6L617.5 498.5L619 499.1L620.5 498.7L622 498.7L623.5 499.7L625 500.5L626.5 500.6L628 499.4L629.5 498.5L631 499.2L632.5 499.1L634 498.5L635.5 499.1L637 499.1L638.5 498.4L640 498.7L641.5 498.8L643 498.7L644.5 499L646 499.3L647.5 499L649 498.3L650.5 498.1L652 498.6L653.5 498.9L655 499L656.5 499.6L658 500L659.5 498.9L661 498L662.5 498.8L664 499.7L665.5 499.8L667 499.9L668.5 500.4L670 500.3L671.5 499.8L673 500.1L674.5 500.6L676 500.1L677.5 500.1L679 499.8L680.5 498.9L682 499.2L683.5 498.6L685 497.9L686.5 499.3L688 500.1L689.5 499.6L691 499.6L692.5 499.7L694 499.1L695.5 499.3L697 499.3L698.5 498.8L700 498.4L701.5 498.1L703 498.1L704.5 498.7L706 499.2L707.5 499.3L709 499.5L710.5 499.7L712 499.3L713.5 498.6L715 498.1L716.5 498.4L718 499.6L719.5 499.7L721 498.9L722.5 498.9L724 499L725.5 498.4L727 498L728.5 498.1L730 498.8L731.5 499.3L733 499.1L734.5 499.4L736 499.2L737.5 498.9L739 498.7L740.5 498.3L742 498.4L743.5 499.4L745 499.8L746.5 499.1L748 498.3L749.5 497.7L751 497.8L752.5 499.1L754 500.1L755.5 499.3L757 497.7L758.5 497.1L760 497.4L761.5 498.3L763 499.3L764.5 499.3L766 498.7L767.5 497.7L769 496L770.5 495.5L772 496.5L773.5 497.1L775 497.3L776.5 497.7L778 498L779.5 497.7L781 497.3L782.5 498L784 498.5L785.5 498.5L787 498.3L788.5 497.3L790 496.8L791.5 497.4L793 498L794.5 498.2L796 498L797.5 497.4L799 497.3L800.5 498L802 498L803.5 497.9L805 498.5L806.5 498.5L808 497.3L809.5 497.7L811 497.9L812.5 496.7L814 496.7L815.5 497.5L817 497.4L818.5 497.2L820 497.4L821.5 497.5L823 498L824.5 497.5L826 497.2L827.5 498.1L829 498.2L830.5 498.2L832 498.1L833.5 497.4L835 497.2L836.5 498L838 498.5L839.5 497.9L841 497.7L842.5 498L844 497.3L845.5 496.8L847 497L848.5 497.3L850 497.7L851.5 497.5L853 496.8L854.5 496.9L856 497.8L857.5 497.7L859 497.3L860.5 497.6L862 497.6L863.5 497.5L865 497.6L866.5 497.3L868 497.1L869.5 496.9L871 496.9L872.5 496.9L874 496.8L875.5 496.6L877 496.9L878.5 497.2L880 497.2L881.5 496.8L883 496.8L884.5 497.6L886 498L887.5 497.6L889 497L890.5 496.4L892 496.3L893.5 497.1L895 497.9L896.5 498L898 497.4L899.5 497L901 497L902.5 497.2L904 496.6L905.5 496.1L907 496.3L908.5 496.2L910 495.2L911.5 495L913 495.9L914.5 496.4L916 496.5L917.5 496.7L919 497.1L920.5 496.9L922 496.3L923.5 496.8L925 497.7L926.5 497.2L928 496.2L929.5 496.4L931 496.5L932.5 495.8L934 495.4L935.5 496.1L937 496.8L938.5 496.4L940 496L941.5 496.3L943 496.8L944.5 496L946 494.5L947.5 494.3L949 495.3L950.5 495.7L952 496.1L953.5 497.1L955 497.3L956.5 496.8L958 497.1L959.5 497.2L961 496.4L962.5 495.4L964 495.2L965.5 496.4L967 496.7L968.5 495.7L970 495.2L971.5 495.5L973 496L974.5 496.3L976 496.2L977.5 496.3L979 497.4L980.5 497.3L982 495.8L983.5 495L985 495.1L986.5 495.7L988 495.8L989.5 495.5L991 495.4L992.5 495.6L994 495.5L995.5 495.7L997 496.6L998.5 496.7L1000 496.1L1001.5 495.8L1003 495.7L1004.5 495.4L1006 494.9L1007.5 495.4L1009 496L1010.5 495.6L1012 495.4L1013.5 495.6L1015 496.2L1016.5 496.2L1018 494.9L1019.5 494.3L1021 495.3L1022.5 495.7L1024 495.4L1025.5 495.6L1027 496.6L1028.5 496.8L1030 496.2L1031.5 496.4L1033 496.6L1034.5 496.2L1036 495.8L1037.5 496L1039 496.2L1040.5 495.6L1042 495.6L1043.5 495.8L1045 495.2L1046.5 494.8L1048 495.3L1049.5 496L1051 495.8L1052.5 495.2L1054 495.2L1055.5 495.7L1057 495.7L1058.5 495.2L1060 494.9L1061.5 494.8L1063 495.2L1064.5 495.7L1066 495.3L1067.5 494.8L1069 495.3L1070.5 496.1L1072 496.7L1073.5 496.2L1075 495.6L1076.5 495.4L1078 495.2L1079.5 495.4L1081 495.7L1082.5 496.4L1084 497L1085.5 496.8L1087 495.8L1088.5 495.4L1090 495.5L1091.5 495L1093 495.5L1094.5 496.3L1096 495.6L1097.5 495.8L1099 497L1100.5 496.9L1102 496.5L1103.5 497.5L1105 497.4L1106.5 496L1108 495L1109.5 494.3L1111 494.5L1112.5 495.8L1114 496.8L1115.5 497.4L1117 497.8L1118.5 496.3L1120 494.4L1121.5 495.1L1123 496.6L1124.5 496.6L1126 496.1L1127.5 496.5L1129 496.7L1130.5 495.8L1132 494.8L1133.5 494.8L1135 494.5L1136.5 494.8L1138 496L1139.5 496.2L1141 496.2L1142.5 496.2L1144 495.3L1145.5 495L1147 495.4L1148.5 495.6L1150 495.4L1151.5 496L1153 496.6L1154.5 496.1L1156 495.4L1157.5 495L1159 495.2L1160.5 495.9L1162 496.1L1163.5 496L1165 496.1L1166.5 497.1L1168 497.2L1169.5 496.7L1171 497.2L1172.5 497.3L1174 496.2L1175.5 495.7L1177 496.6L1178.5 496.4L1180 494.7L1181.5 494.1L1183 495.5L1184.5 496.9L1186 496.9L1187.5 496L1189 495.2L1190.5 494.9L1192 494.8L1193.5 495.3L1195 496.3L1196.5 496.3L1198 496L1199.5 495.8L1201 495.9L1202.5 495.9L1204 495.9L1205.5 496.1L1207 496.5L1208.5 496.3L1210 495.4L1211.5 495.4L1213 495.9L1214.5 496L1216 495.8L1217.5 495.7L1219 496.4L1220.5 497L1222 497.2L1223.5 497.2L1225 497L1226.5 496.7L1228 496L1229.5 495.9L1231 496.1L1232.5 495.5L1234 495.5L1235.5 496L1237 496.4L1238.5 497.3L1240 497.1L1241.5 496.3L1243 496.3L1244.5 496.3L1246 496.2L1247.5 496.3L1249 496.2L1250.5 496.1L1252 495.5L1253.5 495.2L1255 496.2L1256.5 496.6L1258 496.4L1259.5 496.6L1261 496.8L1262.5 497.1L1264 497L1265.5 497.4L1267 498.1L1268.5 497.8L1270 496.7L1271.5 497.1L1273 497.4L1274.5 496.2L1276 495.8L1277.5 496.1L1279 496.8L1280.5 497.2L1282 497.2L1283.5 497.5L1285 497.1L1286.5 496.5L1288 496.8L1289.5 497.3L1291 497.6L1292.5 497.6L1294 496.8L1295.5 496.7L1297 497.8L1298.5 498.4L1300 497.7L1301.5 497L1303 497.4L1304.5 498.6L1306 498L1307.5 496.9L1309 497.6L1310.5 498.5L1312 498.4L1313.5 497.8L1315 496.9L1316.5 496.2L1318 496.6L1319.5 497.5L1321 498L1322.5 497.9L1324 498L1325.5 497.7L1327 496.9L1328.5 496.5L1330 497.2L1331.5 498.1L1333 498.3L1334.5 497.8L1336 497.4L1337.5 497.3L1339 497.5L1340.5 497.1L1342 497.1L1343.5 497.5L1345 497.6L1346.5 498L1348 498.9L1349.5 498.7L1351 497.9L1352.5 497.9L1354 497.9L1355.5 497.9L1357 498.2L1358.5 498L1360 497.9L1361.5 498.1L1363 497.7L1364.5 497.8L1366 498.6L1367.5 498.5L1369 498.3L1370.5 498.5L1372 498.3L1373.5 498.3L1375 498.5L1376.5 498.4L1378 498.3L1379.5 499.3L1381 500.3L1382.5 500.1L1384 499.4L1385.5 498.6L1387 498.7L1388.5 499.5L1390 499.3L1391.5 499.5L1393 500L1394.5 499.5L1396 498L1397.5 496.7L1399 497.1L1400.5 497.8L1402 498.6L1403.5 499.9L1405 500.3L1405.6 499.8" stroke="#33dd33" stroke-width="5"/>
<path d="M295 489.6L296.5 490.1L298 490.5L299.5 490.7L301 491.2L302.5 491.6L304 491.6L305.5 491.3L307 491.3L308.5 491.8L310 492.3L311.5 493L313 492.8L314.5 492.3L316 492.6L317.5 492.4L319 492L320.5 492.6L322 493.4L323.5 494.6L325 494.7L326.5 493.2L328 493L329.5 493.5L331 493L332.5 492.6L334 493.3L335.5 494L337 494.2L338.5 494.4L340 495L341.5 495.1L343 494.7L344.5 493.6L346 493.3L347.5 494.7L349 495.6L350.5 495.6L352 495.4L353.5 495.1L355 495.5L356.5 495.8L358 495.4L359.5 495.4L361 495.9L362.5 496.8L364 497.3L365.5 497.2L367 497.6L368.5 497.2L370 496.5L371.5 496.7L373 497.6L374.5 497.8L376 497L377.5 496.7L379 496.9L380.5 496.7L382 496.9L383.5 497.7L385 498.3L386.5 498L388 497.8L389.5 498.3L391 498.9L392.5 499.1L394 499L395.5 499L397 499.3L398.5 499.2L400 498.8L401.5 498.6L403 498.8L404.5 499.1L406 499.4L407.5 499.5L409 499.4L410.5 499.5L412 499.6L413.5 499.4L415 499L416.5 498.4L418 499L419.5 500.1L421 500.2L422.5 500L424 499.3L425.5 498.8L427 499.2L428.5 499.8L430 500.5L431.5 501.6L433 502L434.5 501.1L436 500.2L437.5 500.1L439 500.1L440.5 500.1L442 500.8L443.5 501.8L445 502.9L446.5 503.6L448 503.9L449.5 505L451 506.5L452.5 506.7L454 506.5L455.5 507.1L457 507.2L458.5 506.8L460 507.3L461.5 507.6L463 507.8L464.5 507.8L466 507L467.5 506.6L469 506.6L470.5 506.1L472 505.2L473.5 504.4L475 504L476.5 503.7L478 502.4L479.5 501.3L481 500.9L482.5 500.2L484 500.5L485.5 500.5L487 499.7L488.5 500.1L490 500.2L491.5 499.7L493 499.6L494.5 499.4L496 499.6L497.5 499.9L499 499.5L500.5 499L502 499.4L503.5 499.5L505 499.2L506.5 499.3L508 499.4L509.5 500.3L511 500.3L512.5 499.4L514 499.6L515.5 499.5L517 499.1L518.5 498.5L520 497.8L521.5 498.1L523 498.6L524.5 498.2L526 497.5L527.5 498.2L529 498.9L530.5 498.6L532 498.8L533.5 498.9L535 498.6L536.5 498.8L538 498.6L539.5 498.1L541 498.3L542.5 498.5L544 498.3L545.5 498.1L547 498.3L548.5 498.9L550 498.9L551.5 498L553 497.7L554.5 498.5L556 499.5L557.5 499.7L559 498.9L560.5 498.5L562 497.9L563.5 497L565 497.7L566.5 498.6L568 499L569.5 499.7L571 499.5L572.5 499.1L574 499.3L575.5 499.3L577 499.5L578.5 499.6L580 499.2L581.5 498.9L583 499.1L584.5 499.4L586 499.6L587.5 500.1L589 500.3L590.5 499.5L592 499.1L593.5 499.4L595 499.7L596.5 500L598 499.4L599.5 499L601 499.2L602.5 499L604 499.3L605.5 499.4L607 499L608.5 499.2L610 499.6L611.5 499.9L613 500.4L614.5 500.5L616 500.2L617.5 500.2L619 500.7L620.5 500.1L622 499.5L623.5 499.9L625 500.1L626.5 500.2L628 500.1L629.5 500.5L631 500.9L632.5 500.5L634 500.6L635.5 500.2L637 500L638.5 500.8L640 500.9L641.5 500.6L643 500.8L644.5 501L646 500.4L647.5 500L649 500L650.5 499.7L652 499.9L653.5 500.1L655 500.8L656.5 501.2L658 500.6L659.5 500.3L661 500.2L662.5 500.2L664 500.8L665.5 501.2L667 500.9L668.5 500.1L670 499.8L671.5 499.5L673 498.9L674.5 499.3L676 500.7L677.5 501.1L679 500.3L680.5 500.3L682 500.5L683.5 500.1L685 500L686.5 499.9L688 500.2L689.5 500.7L691 500.8L692.5 500.6L694 500.2L695.5 500L697 500.3L698.5 500.6L700 500.4L701.5 500.6L703 500.2L704.5 500L706 500.4L707.5 499.8L709 499.4L710.5 500L712 500.7L713.5 501.3L715 501L716.5 500.3L718 500L719.5 499.5L721 499.1L722.5 499.1L724 499.1L725.5 499.3L727 499.4L728.5 499.6L730 500.3L731.5 500.8L733 500.5L734.5 499.7L736 500.2L737.5 500.5L739 499.4L740.5 498.9L742 499.5L743.5 499.7L745 499.7L746.5 499.9L748 498.9L749.5 498L751 499.2L752.5 500L754 500.4L755.5 500.7L757 500L758.5 499.6L760 499.6L761.5 499.3L763 499.2L764.5 499.5L766 499.6L767.5 499.4L769 498.9L770.5 499.3L772 500.4L773.5 500.6L775 500.6L776.5 500.8L778 500.5L779.5 499.9L781 500.4L782.5 500.9L784 499.8L785.5 499.4L787 500.1L788.5 500.4L790 499.8L791.5 498.7L793 498.6L794.5 499L796 499.4L797.5 500.1L799 499.5L800.5 498.9L802 499.3L803.5 500.1L805 500.6L806.5 500L808 499.5L809.5 499.8L811 499.9L812.5 500L814 500.2L815.5 499.3L817 498.8L818.5 499.6L820 499.4L821.5 498.6L823 498.5L824.5 498.4L826 498.5L827.5 498.7L829 498.8L830.5 499L832 499L833.5 498.7L835 498.9L836.5 499.1L838 498.9L839.5 499L841 499.5L842.5 499L844 498.3L845.5 498.3L847 498.4L848.5 499.1L850 499.9L851.5 499.7L853 498.9L854.5 498.3L856 498.4L857.5 498.8L859 499.4L860.5 499.7L862 499.4L863.5 498.6L865 498.1L866.5 498.6L868 499.4L869.5 499.9L871 499.6L872.5 498.8L874 498L875.5 497.7L877 498.4L878.5 500.2L880 500.9L881.5 500L883 499.4L884.5 499L886 498.3L887.5 497.9L889 498.3L890.5 498.7L892 499.1L893.5 499L895 498.8L896.5 498.9L898 498.6L899.5 498.1L901 497.8L902.5 497.6L904 497.9L905.5 498L907 498L908.5 498.2L910 498.4L911.5 498.5L913 498.4L914.5 498.1L916 497.9L917.5 497.8L919 497.5L920.5 498.1L922 498.9L923.5 498.9L925 498.7L926.5 498.2L928 497.7L929.5 497.7L931 497.8L932.5 498.4L934 498.6L935.5 497.5L937 497.4L938.5 498.2L940 498.5L941.5 498.4L943 497.6L944.5 497.4L946 498.4L947.5 498.4L949 497.4L950.5 497.5L952 497.8L953.5 496.8L955 496L956.5 496.6L958 497.8L959.5 498.3L961 497.8L962.5 497.2L964 496.6L965.5 495.9L967 496L968.5 496.3L970 497L971.5 497.4L973 496.9L974.5 497.2L976 497.5L977.5 497.2L979 496.9L980.5 497.2L982 498L983.5 498L985 497.3L986.5 497.1L988 497.2L989.5 497.6L991 497.1L992.5 495.9L994 495.9L995.5 496.2L997 496.5L998.5 496.8L1000 497.1L1001.5 497.4L1003 497.5L1004.5 497.7L1006 497.6L1007.5 496.8L1009 496.3L1010.5 495.9L1012 496.4L1013.5 497.4L1015 497.7L1016.5 498L1018 498.3L1019.5 497.9L1021 497.5L1022.5 497.9L1024 497.9L1025.5 496.6L1027 496.1L1028.5 496.6L1030 496.7L1031.5 496.8L1033 496.6L1034.5 496.4L1036 496L1037.5 495.1L1039 495.6L1040.5 497.2L1042 498.3L1043.5 498.5L1045 497.8L1046.5 496.9L1048 497.2L1049.5 498L1051 498L1052.5 497.5L1054 497.2L1055.5 496.9L1057 496.5L1058.5 496.2L1060 496.7L1061.5 497.3L1063 497.3L1064.5 497.3L1066 497.5L1067.5 496.8L1069 496.1L1070.5 496.8L1072 497.5L1073.5 498L1075 498.2L1076.5 497.8L1078 497.5L1079.5 497.4L1081 497.4L1082.5 497.2L1084 497.1L1085.5 498L1087 498.6L1088.5 498.4L1090 497.6L1091.5 496.7L1093 495.8L1094.5 496L1096 496.9L1097.5 496.9L1099 496.8L1100.5 496.7L1102 496.7L1103.5 497.7L1105 498.6L1106.5 498.3L1108 497.2L1109.5 496.6L1111 496.5L1112.5 496.8L1114 498L1115.5 498.4L1117 497.5L1118.5 496.8L1120 496.4L1121.5 496L1123 496.5L1124.5 497.5L1126 497.8L1127.5 497.4L1129 496.5L1130.5 495.8L1132 496.2L1133.5 496.7L1135 496.7L1136.5 497.4L1138 497.8L1139.5 497.4L1141 497L1142.5 497L1144 497.3L1145.5 497L1147 496.2L1148.5 496L1150 496.4L1151.5 497.5L1153 498.2L1154.5 497.3L1156 496.4L1157.5 496.2L1159 496.6L1160.5 497.4L1162 497.4L1163.5 497.1L1165 497.4L1166.5 497.6L1168 497.5L1169.5 498L1171 497.8L1172.5 497L1174 497.1L1175.5 497.8L1177 497.7L1178.5 497.6L1180 497.8L1181.5 498L1183 497.9L1184.5 497.8L1186 498.3L1187.5 498.7L1189 497.8L1190.5 497.4L1192 498.6L1193.5 498.5L1195 497.4L1196.5 497.6L1198 498.2L1199.5 498L1201 496.9L1202.5 496.3L1204 497.1L1205.5 498.2L1207 498.7L1208.5 498.1L1210 497.5L1211.5 498L1213 498.4L1214.5 498.3L1216 498.3L1217.5 498L1219 497.1L1220.5 497L1222 498.1L1223.5 498.4L1225 497.5L1226.5 496.5L1228 495.9L1229.5 496.5L1231 498.6L1232.5 499.3L1234 498.7L1235.5 498L1237 497.7L1238.5 497.9L1240 497.8L1241.5 497.4L1243 496.9L1244.5 497.3L1246 498.6L1247.5 498.5L1249 497.8L1250.5 498L1252 498.2L1253.5 498.8L1255 499.4L1256.5 498.7L1258 498.4L1259.5 498.5L1261 498.6L1262.5 498.6L1264 497.9L1265.5 497.4L1267 497.7L1268.5 498.9L1270 499.7L1271.5 498.7L1273 498.3L1274.5 498.6L1276 498.3L1277.5 498.1L1279 498L1280.5 497.7L1282 498.2L1283.5 498.8L1285 498.6L1286.5 498.8L1288 499.2L1289.5 498.1L1291 497.2L1292.5 497.1L1294 497.2L1295.5 497.5L1297 497.9L1298.5 498.6L1300 499L1301.5 499.1L1303 498.7L1304.5 498.6L1306 499L1307.5 499.1L1309 498.8L1310.5 499L1312 499L1313.5 498.3L1315 498.4L1316.5 499L1318 499.2L1319.5 499.3L1321 499.4L1322.5 499.6L1324 500.1L1325.5 500L1327 499.4L1328.5 499.5L1330 499.8L1331.5 499.3L1333 498.8L1334.5 498.3L1336 498.1L1337.5 499.2L1339 499.9L1340.5 499L1342 498.2L1343.5 499L1345 499L1346.5 498.1L1348 498.2L1349.5 498.9L1351 499.6L1352.5 500.3L1354 500.6L1355.5 500.6L1357 500.5L1358.5 499.8L1360 499.5L1361.5 499.8L1363 499.6L1364.5 499.2L1366 499.6L1367.5 500L1369 499.5L1370.5 498.9L1372 499.5L1373.5 500.5L1375 500.1L1376.5 499.7L1378 500.1L1379.5 500.5L1381 500.6L1382.5 500L1384 499.7L1385.5 499.9L1387 499.6L1388.5 499.5L1390 501L1391.5 502L1393 501.1L1394.5 500.1L1396 499.9L1397.5 500.1L1399 499.9L1400.5 500.3L1402 500.7L1403.5 499.9L1405 499.6L1405.6 500.3" stroke="#33dd33" stroke-width="5"/>
<path d="M295 497.1L296.5 498L298 498.5L299.5 499.1L301 499.9L302.5 500.8L304 502.2L305.5 503.4L307 503.6L308.5 504.1L310 505.2L311.5 505.9L313 506.2L314.5 506.5L316 507.5L317.5 508.2L319 508.2L320.5 508.4L322 508.6L323.5 508.9L325 509.7L326.5 510.4L328 511L329.5 511.8L331 512.3L332.5 511.8L334 511.4L335.5 512.1L337 513L338.5 513L340 512.7L341.5 512.9L343 513.1L344.5 513.6L346 514.1L347.5 513.9L349 514L350.5 514L352 513.4L353.5 513L355 512.7L356.5 512L358 511.1L359.5 511.1L361 510.8L362.5 509.7L364 509.4L365.5 508.9L367 508.5L368.5 508.7L370 507.8L371.5 506.3L373 506L374.5 505.7L376 505L377.5 504.4L379 503.6L380.5 503.1L382 502.1L383.5 500.6L385 499.4L386.5 498.5L388 497.6L389.5 496.8L391 496.6L392.5 496.9L394 497.4L395.5 497.1L397 496.1L398.5 496L400 496.1L401.5 495.4L403 495.5L404.5 496.2L406 496.6L407.5 496.3L409 495.5L410.5 495.1L412 495.4L413.5 495.6L415 494.9L416.5 494.5L418 494.4L419.5 494.1L421 493.4L422.5 492.8L424 492.4L425.5 492.2L427 492L428.5 491.3L430 490.3L431.5 489.4L433 488.3L434.5 487.3L436 486.1L437.5 484.6L439 483.3L440.5 482.6L442 481.9L443.5 481.8L445 482.9L446.5 483.8L448 485.4L449.5 486.6L451 486.5L452.5 486.8L454 488.2L455.5 489.3L457 489.8L458.5 490L460 489.7L461.5 488.1L463 485.9L464.5 484.4L466 483.4L467.5 483L469 483.1L470.5 483.4L472 483.8L473.5 483.9L475 483.7L476.5 483.5L478 483.3L479.5 482.9L481 483.3L482.5 483.8L484 483.8L485.5 484.2L487 484.4L488.5 484.8L490 485.1L491.5 485.5L493 485.3L494.5 485.2L496 486.2L497.5 486.7L499 486.1L500.5 485.8L502 485.7L503.5 486L505 486.4L506.5 486.4L508 486.2L509.5 486.1L511 485.9L512.5 486.3L514 487.1L515.5 487.4L517 487.4L518.5 487.2L520 486.8L521.5 486.8L523 487L524.5 487.2L526 487.3L527.5 487.1L529 486.8L530.5 487.5L532 488.3L533.5 487.8L535 487.5L536.5 488.3L538 488.5L539.5 487.9L541 487.8L542.5 487.7L544 487.7L545.5 488.5L547 488.8L548.5 488.6L550 488.6L551.5 488.8L553 488.8L554.5 488.6L556 488.4L557.5 488.8L559 489.6L560.5 489.6L562 489.6L563.5 489.6L565 489.4L566.5 489.7L568 490.1L569.5 490L571 490L572.5 490.5L574 491L575.5 491.1L577 490.7L578.5 490.1L580 490.1L581.5 491L583 491.4L584.5 491.1L586 491.2L587.5 491.6L589 491.7L590.5 491.5L592 491.3L593.5 491.3L595 491L596.5 491.2L598 491.6L599.5 491.9L601 492.4L602.5 491.8L604 490.4L605.5 490.2L607 490.8L608.5 490.7L610 491L611.5 491L613 490L614.5 489.7L616 490.7L617.5 491L619 490.9L620.5 490.8L622 490.3L623.5 490.1L625 490.4L626.5 490.2L628 490.2L629.5 490.8L631 491.2L632.5 490.9L634 490.5L635.5 490.3L637 490.2L638.5 490.4L640 490.7L641.5 490.8L643 491.1L644.5 491.7L646 491.7L647.5 491L649 491.1L650.5 491.2L652 490.6L653.5 490.2L655 490.6L656.5 491.2L658 491.1L659.5 491L661 491.1L662.5 491.4L664 490.8L665.5 489.8L667 489.8L668.5 489.2L670 489L671.5 490.3L673 491.5L674.5 491.1L676 490.3L677.5 490.6L679 491.3L680.5 491.3L682 491L683.5 491L685 491.2L686.5 491.5L688 491.5L689.5 491L691 490.7L692.5 490.8L694 491.1L695.5 491.1L697 490.7L698.5 490.7L700 490.7L701.5 490.8L703 491.8L704.5 492L706 491.3L707.5 491.4L709 490.8L710.5 490L712 490.6L713.5 491.1L715 490.8L716.5 490.5L718 490.7L719.5 491.2L721 491.6L722.5 491.5L724 491.5L725.5 491.6L727 491.1L728.5 490.4L730 490.5L731.5 491.6L733 492.1L734.5 491.9L736 491.7L737.5 491.4L739 491.2L740.5 491L742 491L743.5 491.5L745 492L746.5 491.7L748 491.1L749.5 490.8L751 491.1L752.5 491.9L754 491.8L755.5 491.3L757 490.8L758.5 490.6L760 491.1L761.5 491.5L763 491.2L764.5 491L766 491.1L767.5 490.9L769 490.5L770.5 490.6L772 491L773.5 491.3L775 491.3L776.5 491.7L778 492L779.5 491.4L781 491L782.5 491.3L784 491.1L785.5 491L787 491.8L788.5 492.3L790 491.6L791.5 491L793 490.9L794.5 491L796 490.6L797.5 490.9L799 491.5L800.5 491.5L802 492L803.5 492.4L805 492L806.5 492.2L808 492.4L809.5 491.6L811 490.8L812.5 490.7L814 491.5L815.5 492.3L817 492L818.5 491L820 490.7L821.5 491.1L823 491.4L824.5 491.5L826 491.6L827.5 491.6L829 491.4L830.5 491.4L832 491.5L833.5 491.6L835 492.1L836.5 492.6L838 492.2L839.5 491.3L841 490.8L842.5 490.9L844 490.4L845.5 490.6L847 491.7L848.5 492L850 491.2L851.5 490.6L853 490.8L854.5 491.3L856 492.1L857.5 492.7L859 491.9L860.5 490.9L862 490.7L863.5 491.1L865 491.1L866.5 490.9L868 490.9L869.5 491.1L871 491.8L872.5 492.3L874 491.9L875.5 491.4L877 491.3L878.5 491.1L880 490.8L881.5 490.5L883 490L884.5 490.2L886 490.9L887.5 491L889 491.1L890.5 490.9L892 490L893.5 490L895 490.6L896.5 490.7L898 490.6L899.5 490.9L901 490.4L902.5 489.6L904 489.7L905.5 490.4L907 490.1L908.5 489.6L910 490.3L911.5 490.8L913 490.5L914.5 489.8L916 489.2L917.5 489.6L919 490.4L920.5 490.3L922 489.9L923.5 489.4L925 488.7L926.5 488.3L928 488.7L929.5 489L931 488.8L932.5 489.1L934 488.9L935.5 488.1L937 488L938.5 488.1L940 488.1L941.5 487.8L943 487.6L944.5 487.6L946 487.2L947.5 487.1L949 487.8L950.5 487.8L952 487.2L953.5 487.1L955 487L956.5 487.1L958 487.4L959.5 487.6L961 487.6L962.5 487.2L964 487L965.5 486.8L967 486.6L968.5 486.9L970 486.9L971.5 486.9L973 486.4L974.5 486L976 486.1L977.5 486.5L979 486.5L980.5 486L982 485.5L983.5 485.4L985 485.6L986.5 485.2L988 484.8L989.5 485.6L991 485.8L992.5 485L994 484.6L995.5 484.7L997 484.9L998.5 485.1L1000 484.9L1001.5 484.9L1003 485.2L1004.5 485.1L1006 485L1007.5 484.5L1009 483.9L1010.5 484.3L1012 485.3L1013.5 485.3L1015 484.9L1016.5 484.9L1018 484.9L1019.5 485.3L1021 485.4L1022.5 484.3L1024 483.5L1025.5 483.6L1027 484L1028.5 484.9L1030 485L1031.5 484.1L1033 483.7L1034.5 484.4L1036 484.5L1037.5 483.8L1039 484L1040.5 484.5L1042 484.6L1043.5 484.3L1045 483.9L1046.5 483.6L1048 484.1L1049.5 485.2L1051 485.2L1052.5 484.4L1054 483.7L1055.5 483.5L1057 484L1058.5 484.5L1060 484.5L1061.5 484.3L1063 484.1L1064.5 484.3L1066 484.9L1067.5 485.6L1069 485.7L1070.5 484.8L1072 484.2L1073.5 484.3L1075 484.1L1076.5 484.1L1078 484.2L1079.5 484.3L1081 484.6L1082.5 484.7L1084 484.6L1085.5 484.4L1087 484L1088.5 484L1090 484.2L1091.5 484.4L1093 484.6L1094.5 484.3L1096 484L1097.5 484L1099 483.9L1100.5 484L1102 483.9L1103.5 483.6L1105 484.2L1106.5 484.7L1108 484.5L1109.5 484.3L1111 484.1L1112.5 484L1114 484.1L1115.5 484.3L1117 484.2L1118.5 484.1L1120 484.5L1121.5 484.7L1123 484.5L1124.5 484.5L1126 484.4L1127.5 484.1L1129 484.5L1130.5 484.9L1132 484.9L1133.5 484.7L1135 484.3L1136.5 484.5L1138 484.9L1139.5 484.8L1141 484L1142.5 483.4L1144 483.7L1145.5 484L1147 483.4L1148.5 482.2L1150 481.4L1151.5 481.6L1153 480.8L1154.5 480L1156 480.3L1157.5 480.1L1159 480L1160.5 480.8L1162 481.5L1163.5 481.5L1165 481.9L1166.5 482.8L1168 482.8L1169.5 482.2L1171 481.7L1172.5 481.6L1174 482.1L1175.5 482.9L1177 483.3L1178.5 483.6L1180 483.8L1181.5 483.6L1183 484L1184.5 484.7L1186 485.2L1187.5 485.5L1189 485.4L1190.5 485.3L1192 485.4L1193.5 485L1195 485.1L1196.5 486L1198 486.5L1199.5 486.2L1201 485.8L1202.5 486L1204 486.3L1205.5 485.9L1207 485.7L1208.5 486.5L1210 487.4L1211.5 487.1L1213 486.5L1214.5 486.5L1216 485.8L1217.5 484.6L1219 484.6L1220.5 485L1222 485L1223.5 484.8L1225 484L1226.5 482.9L1228 482.3L1229.5 481.8L1231 480.9L1232.5 480.7L1234 481.1L1235.5 481.1L1237 480.2L1238.5 479.8L1240 480.2L1241.5 480.5L1243 480.6L1244.5 480.5L1246 480L1247.5 480L1249 480.5L1250.5 481.2L1252 481.2L1253.5 480.5L1255 480.7L1256.5 481.4L1258 481.3L1259.5 481.5L1261 482.6L1262.5 483.1L1264 483L1265.5 483.2L1267 483.6L1268.5 483.9L1270 483.9L1271.5 483.5L1273 483.5L1274.5 484L1276 484.2L1277.5 484.7L1279 484.6L1280.5 484.2L1282 484.3L1283.5 484.7L1285 484.8L1286.5 484.4L1288 484.5L1289.5 485.5L1291 486.3L1292.5 486L1294 485.1L1295.5 485.1L1297 485.3L1298.5 484.7L1300 484.2L1301.5 484.5L1303 484.6L1304.5 484L1306 483.3L1307.5 483.7L1309 484.4L1310.5 484.4L1312 484.4L1313.5 484.8L1315 484.8L1316.5 484.7L1318 484.5L1319.5 484.2L1321 484L1322.5 484.3L1324 484.8L1325.5 484.6L1327 484.1L1328.5 484.2L1330 484.5L1331.5 484.4L1333 483.7L1334.5 483.6L1336 484.7L1337.5 485.8L1339 485.5L1340.5 484.8L1342 485.2L1343.5 485.5L1345 484.7L1346.5 484.5L1348 485L1349.5 485.1L1351 484.7L1352.5 484.7L1354 485.5L1355.5 485.7L1357 485.1L1358.5 484.3L1360 483.7L1361.5 484.1L1363 484.4L1364.5 484.5L1366 484.6L1367.5 483.8L1369 483.4L1370.5 483.8L1372 483.8L1373.5 483.7L1375 483.7L1376.5 483.3L1378 483.2L1379.5 484.1L1381 484.6L1382.5 485L1384 485.1L1385.5 483.9L1387 482.9L1388.5 482.8L1390 482.9L1391.5 483.3L1393 483.2L1394.5 482.9L1396 483L1397.5 483.1L1399 483.4L1400.5 483.5L1402 483.3L1403.5 483.2L1405 483L1405.6 483" stroke="#000000"/>
<path d="M295 499.9L296.5 504.1L298 508.7L299.5 512.7L301 516.3L302.5 520.1L304 523.8L305.5 527.3L307 530.6L308.5 533.2L310 535.3L311.5 537.4L313 540.1L314.5 542.5L316 544.5L317.5 547.1L319 549.8L320.5 551.9L322 552.9L323.5 554L325 555.5L326.5 556.2L328 556.7L329.5 557.6L331 558L332.5 557.7L334 557.6L335.5 557L337 556.5L338.5 556.6L340 555.5L341.5 554.2L343 554.5L344.5 554.4L346 553.3L347.5 552.8L349 551.6L350.5 549L352 546.9L353.5 546.3L355 545.8L356.5 543.8L358 541.4L359.5 539.7L361 538.1L362.5 535.5L364 532.5L365.5 529.3L367 526.2L368.5 523.6L370 521.4L371.5 519.4L373 517.1L374.5 515.7L376 514.9L377.5 513.2L379 511.9L380.5 511L382 509L383.5 507L385 505.5L386.5 504.4L388 503.6L389.5 502.8L391 501.9L392.5 500.3L394 498.8L395.5 497.9L397 497.2L398.5 496.4L400 495.4L401.5 493.9L403 493.1L404.5 492.5L406 491L407.5 490.1L409 489.6L410.5 488.2L412 486.3L413.5 485.6L415 486.1L416.5 485.6L418 484.4L419.5 483.5L421 482.9L422.5 481.6L424 479.6L425.5 477.9L427 476.6L428.5 475L430 473.1L431.5 471.3L433 470.1L434.5 469L436 467.7L437.5 467.1L439 466.6L440.5 465.7L442 464.9L443.5 464.8L445 464.6L446.5 463.8L448 463.5L449.5 463.6L451 463.6L452.5 463.1L454 463.1L455.5 463.6L457 462.9L458.5 461.7L460 461.5L461.5 461.9L463 461.7L464.5 461.3L466 461.1L467.5 460.6L469 460.7L470.5 461.8L472 462.5L473.5 462.4L475 463L476.5 464L478 464.5L479.5 465.4L481 466.6L482.5 467.3L484 467.4L485.5 467.6L487 467.8L488.5 468L490 468.5L491.5 468.5L493 468.6L494.5 469.2L496 470L497.5 470.5L499 470.7L500.5 471.3L502 471.7L503.5 471.4L505 471.5L506.5 472.3L508 472.2L509.5 471.5L511 472L512.5 472.8L514 472.8L515.5 472.9L517 473.3L518.5 474.4L520 475.1L521.5 475.6L523 476.2L524.5 476L526 476.6L527.5 477.3L529 477.2L530.5 477.3L532 477.7L533.5 478.8L535 480L536.5 479.9L538 480.2L539.5 481.1L541 481.1L542.5 481.1L544 481.5L545.5 481.9L547 483.1L548.5 484.1L550 484.1L551.5 484L553 484.2L554.5 484L556 483.4L557.5 484.2L559 484.7L560.5 484.6L562 485.2L563.5 485.7L565 485.9L566.5 486.3L568 486.7L569.5 486.6L571 486.3L572.5 486.5L574 486.9L575.5 486.9L577 487.2L578.5 487.9L580 488.5L581.5 488.8L583 488.9L584.5 488.3L586 487.2L587.5 486.6L589 486.6L590.5 486.6L592 486.4L593.5 486.5L595 486.2L596.5 485.3L598 484.6L599.5 483.6L601 482.4L602.5 481.9L604 481.4L605.5 480.9L607 481.4L608.5 481.3L610 480L611.5 479.7L613 480.1L614.5 479.5L616 478.7L617.5 478.5L619 478.5L620.5 478L622 476.8L623.5 475.8L625 476.1L626.5 477.3L628 478.1L629.5 478.5L631 478.1L632.5 477.5L634 478L635.5 478.4L637 477.8L638.5 478.1L640 478.5L641.5 477.6L643 477.7L644.5 478.7L646 478.6L647.5 477.9L649 478L650.5 479.1L652 479.9L653.5 479.9L655 480L656.5 480.2L658 479.8L659.5 479.8L661 480.2L662.5 479.8L664 479.7L665.5 480.4L667 480.7L668.5 480.3L670 479.8L671.5 479.9L673 480.6L674.5 481.3L676 481.2L677.5 480.9L679 480.9L680.5 480.9L682 481L683.5 481.7L685 482.1L686.5 481.9L688 481.7L689.5 481.6L691 481.6L692.5 481.8L694 482.4L695.5 482.6L697 482.5L698.5 482.7L700 482.8L701.5 483L703 483L704.5 483.1L706 483.6L707.5 484.2L709 484.5L710.5 484.5L712 484.2L713.5 484.5L715 484.8L716.5 484L718 483.9L719.5 485L721 485.7L722.5 485.5L724 485.9L725.5 486.3L727 485.8L728.5 485.9L730 486.4L731.5 485.8L733 485.6L734.5 486.1L736 486.5L737.5 486.9L739 486.5L740.5 485.9L742 486.3L743.5 486.6L745 486.7L746.5 486.7L748 486L749.5 485.8L751 486.6L752.5 486.8L754 486.3L755.5 486.2L757 486.2L758.5 486L760 486.2L761.5 486.2L763 486.5L764.5 486.7L766 486.3L767.5 486L769 485.9L770.5 485.7L772 485.5L773.5 485.7L775 486.1L776.5 486.8L778 487.5L779.5 486.8L781 485.9L782.5 485.5L784 485.4L785.5 485.6L787 486L788.5 486.3L790 485.6L791.5 485L793 485L794.5 484.9L796 485.3L797.5 486L799 486L800.5 485.7L802 485.2L803.5 484.3L805 483.7L806.5 483.7L808 484L809.5 484.5L811 484.7L812.5 484.1L814 483.9L815.5 484.6L817 484.5L818.5 483.6L820 483.4L821.5 483.4L823 483.1L824.5 482.9L826 482.9L827.5 482.8L829 482.2L830.5 481.3L832 481.6L833.5 482.2L835 481.9L836.5 481.9L838 482.1L839.5 481.8L841 481.6L842.5 481.9L844 481.8L845.5 481L847 480.5L848.5 480.7L850 480.6L851.5 480.5L853 481.1L854.5 481.5L856 481.5L857.5 481.1L859 481L860.5 481.4L862 481.9L863.5 482L865 481.2L866.5 480.5L868 481.3L869.5 481.9L871 481.1L872.5 480.3L874 480.6L875.5 481.1L877 480.7L878.5 480.3L880 480.1L881.5 479.6L883 479.5L884.5 479.6L886 480L887.5 480.6L889 480.6L890.5 480.3L892 480.3L893.5 479.7L895 479.3L896.5 479.8L898 480L899.5 479.4L901 478.8L902.5 479.5L904 480.1L905.5 480.2L907 480.3L908.5 480.3L910 480.8L911.5 480.7L913 479.6L914.5 478.2L916 478.5L917.5 479.9L919 480.3L920.5 480L922 479.5L923.5 479.5L925 479.5L926.5 479.5L928 479.6L929.5 479.2L931 479.1L932.5 479.3L934 479.6L935.5 479.6L937 479.1L938.5 479.1L940 479.4L941.5 479.4L943 479.1L944.5 478.8L946 479.3L947.5 479.7L949 479.5L950.5 479.1L952 478.6L953.5 477.9L955 477.9L956.5 478.1L958 477.9L959.5 477.8L961 478L962.5 478.6L964 478.7L965.5 477.7L967 477.3L968.5 477.8L970 477.4L971.5 477.2L973 477.5L974.5 477.1L976 476.4L977.5 476L979 475.9L980.5 475.9L982 476.2L983.5 476.9L985 476.4L986.5 475.3L988 475L989.5 475.4L991 475.6L992.5 474.9L994 474.1L995.5 473.7L997 473.8L998.5 474.5L1000 474.6L1001.5 474.1L1003 473.7L1004.5 473.2L1006 473.3L1007.5 473.5L1009 473.3L1010.5 473.2L1012 473L1013.5 472.8L1015 472.9L1016.5 472.8L1018 472.5L1019.5 472.2L1021 471.7L1022.5 471.3L1024 471.6L1025.5 471.9L1027 472L1028.5 471.9L1030 471.4L1031.5 471.2L1033 471.3L1034.5 471.5L1036 471.5L1037.5 471.3L1039 471L1040.5 471L1042 471L1043.5 470.4L1045 470.9L1046.5 471.7L1048 471.6L1049.5 471.5L1051 470.9L1052.5 470.5L1054 471.2L1055.5 471.9L1057 471.7L1058.5 471.7L1060 471.8L1061.5 471.7L1063 471.9L1064.5 471.8L1066 471.6L1067.5 472.3L1069 472.5L1070.5 472.1L1072 471.9L1073.5 471.6L1075 471.6L1076.5 471.9L1078 471.9L1079.5 472L1081 471.8L1082.5 471.7L1084 472.3L1085.5 472.9L1087 473.1L1088.5 472.7L1090 472.4L1091.5 472.4L1093 472.6L1094.5 473.3L1096 473.6L1097.5 472.9L1099 472.3L1100.5 472.5L1102 472.6L1103.5 472L1105 472L1106.5 472.9L1108 473.4L1109.5 473.1L1111 473.3L1112.5 473.9L1114 473.9L1115.5 472.4L1117 471.4L1118.5 472.1L1120 472.7L1121.5 472.4L1123 471.8L1124.5 471.4L1126 471.7L1127.5 471.5L1129 471.4L1130.5 471.4L1132 470.7L1133.5 470.2L1135 470.2L1136.5 470L1138 469.8L1139.5 469.4L1141 468.7L1142.5 468.2L1144 467.8L1145.5 467.9L1147 468.2L1148.5 467.9L1150 467.6L1151.5 467.5L1153 466.7L1154.5 466.2L1156 466.7L1157.5 466.8L1159 466.3L1160.5 465.7L1162 465.1L1163.5 464.5L1165 464L1166.5 464.1L1168 464.7L1169.5 464.7L1171 463.9L1172.5 463.8L1174 464.1L1175.5 464L1177 464L1178.5 464.2L1180 464L1181.5 463.6L1183 464L1184.5 464.1L1186 463.6L1187.5 463.4L1189 464L1190.5 464.9L1192 465.3L1193.5 465.6L1195 466.5L1196.5 467.2L1198 467.4L1199.5 467.6L1201 468.2L1202.5 468.7L1204 469.1L1205.5 470.2L1207 471L1208.5 470.8L1210 470.1L1211.5 469.4L1213 469.2L1214.5 469.1L1216 468.6L1217.5 467.5L1219 465.7L1220.5 464.7L1222 464.1L1223.5 462.8L1225 462.1L1226.5 461.2L1228 459.7L1229.5 458.2L1231 456.7L1232.5 455.2L1234 454.8L1235.5 455L1237 454.5L1238.5 453.9L1240 454.6L1241.5 456L1243 457.5L1244.5 458.7L1246 459.5L1247.5 460.8L1249 462.6L1250.5 464.5L1252 465.7L1253.5 465.5L1255 465.5L1256.5 465.5L1258 465.2L1259.5 465.1L1261 465.2L1262.5 465.5L1264 465L1265.5 463.8L1267 463.6L1268.5 463.7L1270 463.1L1271.5 462.7L1273 461.9L1274.5 461.6L1276 462L1277.5 461.4L1279 460.4L1280.5 460L1282 459.6L1283.5 459.3L1285 459.7L1286.5 459.7L1288 459.1L1289.5 458.9L1291 458.7L1292.5 458.6L1294 459.1L1295.5 460.1L1297 462.2L1298.5 464.4L1300 465.5L1301.5 465.4L1303 465.1L1304.5 465.9L1306 466.7L1307.5 466.1L1309 465.2L1310.5 465L1312 465.2L1313.5 465.6L1315 465.1L1316.5 464.8L1318 465.8L1319.5 465.9L1321 465.9L1322.5 466.1L1324 464.8L1325.5 464.5L1327 465.4L1328.5 465.6L1330 465.8L1331.5 466.3L1333 466.3L1334.5 465.6L1336 464.5L1337.5 464.1L1339 464.2L1340.5 464.2L1342 464.3L1343.5 464.6L1345 464.9L1346.5 465.1L1348 464.5L1349.5 464L1351 464.1L1352.5 464.2L1354 464.2L1355.5 464.7L1357 465L1358.5 463.9L1360 462.8L1361.5 463.1L1363 464.2L1364.5 465.3L1366 464.7L1367.5 463.5L1369 462.9L1370.5 462.3L1372 462.3L1373.5 463.1L1375 462.9L1376.5 462.2L1378 462L1379.5 462.4L1381 462.3L1382.5 461.3L1384 460.9L1385.5 461.3L1387 460.7L1388.5 460L1390 460.4L1391.5 460.8L1393 460.7L1394.5 460.2L1396 459.6L1397.5 459.2L1399 458.9L1400.5 458.6L1402 458.7L1403.5 458.3L1405 457.3L1405.6 457.4" stroke="#2e7878"/>
<path d="M295 521.7L296.5 528.6L298 535.1L299.5 542.2L301 548.4L302.5 553.5L304 558.5L305.5 563.2L307 567.3L308.5 571L310 574.9L311.5 579.2L313 582.7L314.5 585.9L316 588.1L317.5 589.5L319 591.3L320.5 593L322 594.1L323.5 595L325 595.5L326.5 595.7L328 596.4L329.5 597.6L331 597.4L332.5 596.7L334 596L335.5 594.6L337 593.1L338.5 591.4L340 589.7L341.5 587.5L343 584.9L344.5 582.7L346 580.3L347.5 578.1L349 575.5L350.5 572.5L352 569L353.5 565.1L355 561.5L356.5 557.8L358 553.6L359.5 549.5L361 546.3L362.5 543.6L364 541.4L365.5 539.2L367 536.1L368.5 533.4L370 531.9L371.5 530.2L373 527.8L374.5 525.3L376 523.2L377.5 521.8L379 520L380.5 517.7L382 515.5L383.5 513.7L385 512L386.5 509.8L388 507.8L389.5 506.5L391 504.1L392.5 501L394 498.6L395.5 496.6L397 494.7L398.5 492.6L400 490.2L401.5 487.4L403 484.2L404.5 481.4L406 479.1L407.5 477L409 474.5L410.5 471.6L412 469.8L413.5 468.5L415 466.3L416.5 463.9L418 462.3L419.5 460.6L421 459.1L422.5 457.8L424 455.7L425.5 454.3L427 453.7L428.5 452.6L430 451.7L431.5 451.3L433 450.7L434.5 449.7L436 448.6L437.5 447.2L439 446.5L440.5 446.4L442 445.8L443.5 445.4L445 444.6L446.5 443.6L448 443.4L449.5 443.2L451 443.1L452.5 443.2L454 442.9L455.5 442L457 441.6L458.5 441.5L460 441.9L461.5 442.3L463 441.6L464.5 440.9L466 440.8L467.5 440.6L469 441.1L470.5 441.5L472 442.6L473.5 444.3L475 445.1L476.5 446.3L478 447.7L479.5 448.2L481 449.4L482.5 451.2L484 451.7L485.5 452.2L487 452.7L488.5 452.7L490 452.7L491.5 452.9L493 453.2L494.5 453.8L496 453.9L497.5 454L499 454.3L500.5 455.1L502 456.4L503.5 458.7L505 461.7L506.5 464L508 464.4L509.5 464L511 464.6L512.5 465.4L514 465.5L515.5 465.6L517 466L518.5 465.7L520 465.2L521.5 465.3L523 465.5L524.5 466.2L526 467.4L527.5 468.2L529 468.2L530.5 468.1L532 468.8L533.5 469.7L535 470.2L536.5 471.2L538 472.6L539.5 473.3L541 473.7L542.5 474.6L544 475.4L545.5 475.2L547 474.8L548.5 475.5L550 476.1L551.5 476.2L553 476.2L554.5 476.6L556 477.5L557.5 477.8L559 477.7L560.5 478L562 478.2L563.5 477.5L565 476.7L566.5 477.5L568 479.1L569.5 479.2L571 479.2L572.5 479.7L574 480L575.5 480.1L577 479.9L578.5 479.6L580 479.4L581.5 480.1L583 480.7L584.5 480.4L586 480.2L587.5 480.1L589 480.1L590.5 479.5L592 478.7L593.5 478.3L595 477.6L596.5 477L598 476.7L599.5 476.2L601 475.6L602.5 474.9L604 474L605.5 473.5L607 473.6L608.5 473.2L610 472.6L611.5 471.9L613 471L614.5 470.6L616 470L617.5 469.8L619 469.7L620.5 469.6L622 469.6L623.5 469.2L625 469L626.5 469.7L628 470.1L629.5 470L631 469.5L632.5 468.8L634 468.9L635.5 468.9L637 468.5L638.5 469.1L640 469.2L641.5 468.7L643 468.9L644.5 469.7L646 470.2L647.5 470L649 469.3L650.5 469.1L652 469.6L653.5 469.9L655 469.9L656.5 470.2L658 470.8L659.5 471L661 470.5L662.5 470L664 470.4L665.5 471.1L667 471.7L668.5 471.4L670 470.7L671.5 470.4L673 469.9L674.5 469.5L676 469.8L677.5 470.7L679 471.9L680.5 472L682 471.5L683.5 471.8L685 472.5L686.5 473L688 473.1L689.5 473.1L691 473.1L692.5 473.4L694 473.6L695.5 473.3L697 473.2L698.5 473.2L700 473.3L701.5 473.5L703 473.2L704.5 473.3L706 474L707.5 473.8L709 473.4L710.5 473.1L712 473.2L713.5 473.5L715 473.9L716.5 474.4L718 474L719.5 474L721 475L722.5 474.7L724 473.8L725.5 474.3L727 475.2L728.5 474.9L730 474.9L731.5 474.6L733 474.1L734.5 474.8L736 476L737.5 476.5L739 476L740.5 475.9L742 476.1L743.5 476.3L745 476.1L746.5 475.8L748 476L749.5 476.5L751 476.2L752.5 475.8L754 476.2L755.5 476.5L757 475.9L758.5 475.5L760 475.5L761.5 474.9L763 474.7L764.5 475.6L766 476.2L767.5 476.2L769 476.2L770.5 476.3L772 476.7L773.5 477L775 477.4L776.5 477.6L778 476.9L779.5 476.8L781 476.6L782.5 475.6L784 475.3L785.5 475.2L787 475.1L788.5 475.9L790 476L791.5 474.9L793 474.7L794.5 475.6L796 475.5L797.5 474.6L799 474.7L800.5 474.4L802 473.7L803.5 473.8L805 474.1L806.5 474.3L808 474.3L809.5 474L811 473.9L812.5 474L814 474.3L815.5 474.6L817 474.1L818.5 473.2L820 472.8L821.5 473.2L823 473.9L824.5 473.5L826 472.6L827.5 472.1L829 472.2L830.5 472.3L832 472.2L833.5 472.6L835 473L836.5 472.8L838 472.3L839.5 471.8L841 472L842.5 472L844 471.9L845.5 472.2L847 471.9L848.5 471.2L850 471.5L851.5 471.5L853 471L854.5 470.8L856 470.8L857.5 470.9L859 470.8L860.5 471L862 471.2L863.5 471.1L865 471.1L866.5 471.1L868 470.9L869.5 470.6L871 470.5L872.5 470.8L874 471.3L875.5 471.6L877 471L878.5 469.9L880 469.8L881.5 470.3L883 470.5L884.5 470L886 469.1L887.5 468.8L889 468.4L890.5 468.3L892 468.4L893.5 468.8L895 469.3L896.5 468.8L898 468.4L899.5 468.8L901 468.6L902.5 468.3L904 468.5L905.5 468L907 467.5L908.5 468L910 468.9L911.5 469.4L913 468.6L914.5 467.5L916 467.1L917.5 467.1L919 467.6L920.5 467.7L922 467.5L923.5 467.1L925 466.4L926.5 466.1L928 466.1L929.5 465.8L931 465.9L932.5 466.3L934 466.1L935.5 466.3L937 467L938.5 467.3L940 466.4L941.5 465.1L943 465.1L944.5 465.3L946 465L947.5 464.9L949 465.1L950.5 465.3L952 464.8L953.5 464L955 464L956.5 464.2L958 464.2L959.5 464.5L961 464.4L962.5 464.1L964 464.2L965.5 464.2L967 464L968.5 463.1L970 463.2L971.5 464.2L973 463.5L974.5 462.7L976 463.2L977.5 463.4L979 464.1L980.5 464.4L982 463.6L983.5 462.7L985 462.4L986.5 462.6L988 462.6L989.5 462.5L991 461.8L992.5 461L994 461.2L995.5 461.5L997 461.4L998.5 461.2L1000 461.3L1001.5 461.6L1003 461.4L1004.5 460.7L1006 460.4L1007.5 461.1L1009 461.7L1010.5 461.1L1012 460.3L1013.5 460L1015 460.5L1016.5 460.3L1018 459.6L1019.5 459.8L1021 460L1022.5 459.7L1024 459.8L1025.5 460L1027 459.9L1028.5 459.4L1030 459.4L1031.5 459.2L1033 458.3L1034.5 458.3L1036 458.9L1037.5 459.4L1039 459.2L1040.5 459.1L1042 459.8L1043.5 460.2L1045 460L1046.5 459.8L1048 459L1049.5 458L1051 457.9L1052.5 458.1L1054 458.1L1055.5 457.9L1057 458.5L1058.5 459.5L1060 459.4L1061.5 459.4L1063 459.3L1064.5 458.6L1066 458.5L1067.5 458.6L1069 458.4L1070.5 458.4L1072 458.9L1073.5 459.5L1075 459.5L1076.5 459.2L1078 458.8L1079.5 457.6L1081 457.2L1082.5 458.8L1084 459.8L1085.5 459.1L1087 458.4L1088.5 458.7L1090 458.8L1091.5 458.2L1093 458.4L1094.5 458.5L1096 458.5L1097.5 459.3L1099 459.6L1100.5 459L1102 458.2L1103.5 458.4L1105 459.1L1106.5 459L1108 458.4L1109.5 457.5L1111 457.1L1112.5 457L1114 457.3L1115.5 457.8L1117 457.4L1118.5 456.9L1120 457.2L1121.5 457.3L1123 456.9L1124.5 456.9L1126 456.9L1127.5 456.2L1129 455.3L1130.5 454.6L1132 453.9L1133.5 453.7L1135 453.5L1136.5 452.6L1138 451.6L1139.5 451.2L1141 451.4L1142.5 451.4L1144 450.5L1145.5 449.5L1147 449.1L1148.5 449L1150 448.2L1151.5 447.1L1153 446.4L1154.5 445.7L1156 445.3L1157.5 445.4L1159 444.9L1160.5 444.4L1162 444.1L1163.5 443.2L1165 442.5L1166.5 442.3L1168 441.6L1169.5 441.1L1171 441.1L1172.5 441.4L1174 441.5L1175.5 440.7L1177 440L1178.5 440.4L1180 441.1L1181.5 441.3L1183 441.3L1184.5 441.4L1186 442.2L1187.5 443.4L1189 443.9L1190.5 444L1192 444.3L1193.5 445.3L1195 446.5L1196.5 446.9L1198 447.3L1199.5 447.8L1201 448.3L1202.5 449.4L1204 450.2L1205.5 450.5L1207 450.9L1208.5 451.1L1210 451.6L1211.5 452.5L1213 452.3L1214.5 451.2L1216 450.5L1217.5 450.4L1219 449.9L1220.5 449L1222 448.9L1223.5 449L1225 448.5L1226.5 448.5L1228 448.6L1229.5 447.7L1231 447.2L1232.5 447L1234 446.5L1235.5 446.3L1237 446.4L1238.5 446.4L1240 445.9L1241.5 444.8L1243 444L1244.5 443.6L1246 443.8L1247.5 443.5L1249 442.7L1250.5 442.3L1252 441.4L1253.5 440.7L1255 441L1256.5 440.9L1258 440.3L1259.5 439.7L1261 439.1L1262.5 438L1264 437.1L1265.5 437.1L1267 437.2L1268.5 437L1270 436.9L1271.5 437.2L1273 436.7L1274.5 435.8L1276 435.6L1277.5 435.5L1279 435.3L1280.5 435.1L1282 434.8L1283.5 434.2L1285 433.9L1286.5 433.8L1288 433.4L1289.5 433.5L1291 433.5L1292.5 433.2L1294 434.2L1295.5 436L1297 437.9L1298.5 440.3L1300 441.5L1301.5 441.2L1303 441.2L1304.5 441.5L1306 441.3L1307.5 441.1L1309 441.1L1310.5 440.9L1312 441.1L1313.5 441.5L1315 441L1316.5 440.4L1318 440.6L1319.5 440.8L1321 440.5L1322.5 440.4L1324 440.6L1325.5 441.1L1327 441.6L1328.5 441.3L1330 440.8L1331.5 440.4L1333 440.7L1334.5 441.4L1336 441.6L1337.5 441.3L1339 440.9L1340.5 440.9L1342 440.6L1343.5 440.6L1345 441L1346.5 440.9L1348 440.9L1349.5 441.5L1351 442.1L1352.5 442.3L1354 441.9L1355.5 441.6L1357 441.3L1358.5 441.2L1360 441.6L1361.5 441.3L1363 440.7L1364.5 440.6L1366 441.1L1367.5 441.2L1369 440.6L1370.5 440.5L1372 440.6L1373.5 440.2L1375 440L1376.5 439.9L1378 439.9L1379.5 439.6L1381 438.2L1382.5 437.8L1384 438.9L1385.5 439.3L1387 438.9L1388.5 438.3L1390 438.2L1391.5 437.9L1393 437.5L1394.5 437.2L1396 437.3L1397.5 437.7L1399 437.5L1400.5 436.7L1402 436.3L1403.5 436.1L1405 436.1L1405.6 436.3" stroke="#e08a30"/>
<path d="M295 536.3L296.5 544L298 551.8L299.5 559.3L301 566.3L302.5 573.1L304 579.8L305.5 586.1L307 591.8L308.5 596.8L310 601.5L311.5 605.7L313 610L314.5 613.7L316 616.7L317.5 619.7L319 622.2L320.5 623.7L322 625.7L323.5 627.5L325 628.2L326.5 629L328 630.2L329.5 631.1L331 630.4L332.5 628.7L334 627.6L335.5 626.4L337 624.3L338.5 621.7L340 618.1L341.5 614.4L343 611.4L344.5 608.1L346 604.8L347.5 601.8L349 598.4L350.5 595.2L352 592.2L353.5 588.8L355 585.5L356.5 582.7L358 580.3L359.5 577.2L361 574L362.5 571.1L364 567.6L365.5 563.9L367 561.1L368.5 557.8L370 554.3L371.5 551.5L373 548.3L374.5 545.2L376 541.8L377.5 537.8L379 534.6L380.5 532.2L382 529.3L383.5 525.8L385 522.3L386.5 519.3L388 516.7L389.5 513.6L391 509.6L392.5 506L394 503.5L395.5 500.6L397 497.5L398.5 494.8L400 491.6L401.5 487.7L403 484.3L404.5 481.1L406 477.3L407.5 473.7L409 470.7L410.5 467.8L412 465.1L413.5 462.3L415 459.9L416.5 457.8L418 455.2L419.5 452.5L421 450.7L422.5 449.7L424 447.6L425.5 444.7L427 443.3L428.5 442.7L430 441.5L431.5 440.7L433 440.1L434.5 439L436 437.9L437.5 437L439 436.4L440.5 436.3L442 436.2L443.5 435.3L445 434.2L446.5 433.7L448 432.7L449.5 431.5L451 431.4L452.5 431.2L454 430.4L455.5 429.8L457 429L458.5 427.9L460 427.5L461.5 427.8L463 427.4L464.5 426.5L466 425.4L467.5 424.9L469 425.4L470.5 425.7L472 426.4L473.5 427.3L475 428.2L476.5 428.6L478 429.6L479.5 431.8L481 433.6L482.5 435.3L484 436.9L485.5 437.5L487 438.1L488.5 438.9L490 439.3L491.5 439.5L493 439.9L494.5 440.4L496 440.6L497.5 440.7L499 441.4L500.5 442L502 442.3L503.5 442.5L505 442.9L506.5 443.8L508 444.5L509.5 444.5L511 444.9L512.5 446.1L514 447.5L515.5 448.5L517 449.2L518.5 449.5L520 449.3L521.5 449.9L523 450.9L524.5 451.4L526 452.1L527.5 453.2L529 454.3L530.5 454.8L532 455.3L533.5 455.7L535 455.5L536.5 455.6L538 456.8L539.5 457.7L541 457.6L542.5 457.8L544 458.8L545.5 459.7L547 459.3L548.5 458.5L550 458.2L551.5 458.9L553 459.8L554.5 459.5L556 459.2L557.5 460.3L559 461.3L560.5 461.6L562 461.7L563.5 462.2L565 462.9L566.5 462.6L568 462.1L569.5 461.8L571 461.6L572.5 461.9L574 462.4L575.5 462.5L577 461.9L578.5 462L580 463L581.5 463.7L583 463.5L584.5 463.2L586 463.3L587.5 463.2L589 462.9L590.5 462.5L592 461.5L593.5 460.4L595 460L596.5 459.9L598 459L599.5 458.3L601 457.6L602.5 456.5L604 456L605.5 455.6L607 454.7L608.5 453.8L610 453.1L611.5 452.4L613 452.2L614.5 452.1L616 452.1L617.5 451.8L619 451.2L620.5 450.9L622 451.2L623.5 451.6L625 452L626.5 452.3L628 452.7L629.5 453.5L631 453.9L632.5 454.1L634 454.9L635.5 456.3L637 457.3L638.5 457.5L640 457.7L641.5 457.5L643 457.5L644.5 458.6L646 459.3L647.5 458.9L649 458.3L650.5 458.5L652 458.5L653.5 458.2L655 458.6L656.5 458.9L658 458.7L659.5 458.3L661 458.3L662.5 458.4L664 458.6L665.5 459.5L667 460.2L668.5 460.2L670 460.5L671.5 460.9L673 460.6L674.5 459.7L676 459.5L677.5 460.1L679 460.4L680.5 460.5L682 461.1L683.5 460.9L685 460.5L686.5 460.8L688 461.3L689.5 461.6L691 461.8L692.5 461.8L694 461.5L695.5 461.3L697 461.5L698.5 461.8L700 462.3L701.5 462.5L703 462.2L704.5 462.1L706 461.8L707.5 461.7L709 461.9L710.5 462.2L712 462.7L713.5 462.8L715 463L716.5 463.9L718 464.2L719.5 463.3L721 462.7L722.5 463.2L724 464.1L725.5 464.6L727 464.2L728.5 464.1L730 464.8L731.5 465.1L733 464.7L734.5 464.8L736 465.5L737.5 465.9L739 465L740.5 464.6L742 465L743.5 465.2L745 465.2L746.5 465.5L748 466.1L749.5 466.2L751 465.5L752.5 465L754 464.6L755.5 464.1L757 464.4L758.5 465.1L760 465.9L761.5 466.7L763 466.5L764.5 466.1L766 465.8L767.5 465L769 464.5L770.5 464.5L772 465.2L773.5 465.7L775 465L776.5 464.4L778 464.7L779.5 465.1L781 465.1L782.5 464.6L784 463.8L785.5 463.5L787 463.8L788.5 464.3L790 464.2L791.5 463.6L793 463.6L794.5 463.7L796 463.5L797.5 462.8L799 462.6L800.5 463.3L802 462.8L803.5 462.1L805 462.2L806.5 462.1L808 462L809.5 461.8L811 461.7L812.5 462L814 462.1L815.5 462.3L817 462.1L818.5 461.7L820 461.8L821.5 461.7L823 460.6L824.5 460L826 460.3L827.5 461L829 461L830.5 460.4L832 459.7L833.5 459.4L835 459.9L836.5 459.8L838 459.3L839.5 459.3L841 459.3L842.5 459L844 458.8L845.5 458.6L847 458.2L848.5 458.1L850 458.4L851.5 458.6L853 458.8L854.5 458.5L856 457.2L857.5 456.5L859 457.3L860.5 458L862 457.3L863.5 456.8L865 457.6L866.5 457.3L868 456.2L869.5 456.2L871 456.5L872.5 456.4L874 456.5L875.5 456.6L877 456.8L878.5 456.8L880 456.7L881.5 456.5L883 455.7L884.5 454.7L886 454.3L887.5 454.7L889 455.5L890.5 455L892 453.9L893.5 454.1L895 454.8L896.5 454.9L898 454.8L899.5 455.2L901 455.5L902.5 454.9L904 454.6L905.5 454.8L907 454.5L908.5 453.7L910 453.1L911.5 453L913 453L914.5 453.5L916 453.8L917.5 454L919 453.9L920.5 453.2L922 453L923.5 452.8L925 452.4L926.5 452.9L928 453.3L929.5 453.1L931 452.7L932.5 452.3L934 452.3L935.5 452.9L937 453L938.5 452.3L940 451.5L941.5 451.1L943 451.1L944.5 451.1L946 450.8L947.5 450.8L949 451.4L950.5 451.4L952 451.2L953.5 450.8L955 450.7L956.5 451.2L958 450.6L959.5 449.4L961 449.3L962.5 449.2L964 449.4L965.5 449.7L967 449.3L968.5 448.8L970 448.5L971.5 448.6L973 447.8L974.5 447L976 447.6L977.5 447.8L979 447.5L980.5 447.2L982 446.9L983.5 447.2L985 447.7L986.5 447.4L988 446.8L989.5 446.4L991 446.1L992.5 446.1L994 446.1L995.5 445.5L997 444.9L998.5 445L1000 445.5L1001.5 445.3L1003 444.6L1004.5 444.3L1006 444.5L1007.5 443.7L1009 442.7L1010.5 443.1L1012 443.6L1013.5 442.8L1015 442.1L1016.5 442.3L1018 442.4L1019.5 442.1L1021 442L1022.5 441.7L1024 441.8L1025.5 442.4L1027 442.7L1028.5 442.5L1030 442.3L1031.5 441.6L1033 440.6L1034.5 440.6L1036 440.9L1037.5 440.1L1039 440L1040.5 440.7L1042 440.3L1043.5 440.3L1045 440.8L1046.5 440.5L1048 440.4L1049.5 440.4L1051 440.2L1052.5 440.3L1054 440.7L1055.5 440.5L1057 440L1058.5 440.1L1060 439.8L1061.5 439.5L1063 439.5L1064.5 439L1066 439L1067.5 439.5L1069 438.7L1070.5 437.2L1072 437.1L1073.5 438.3L1075 439.2L1076.5 439.3L1078 438.3L1079.5 437.9L1081 438.7L1082.5 439.6L1084 439.6L1085.5 438.8L1087 438.3L1088.5 438.9L1090 439.3L1091.5 438.8L1093 438.5L1094.5 438.7L1096 438.8L1097.5 439.2L1099 439.7L1100.5 439.4L1102 438.7L1103.5 438.4L1105 438.5L1106.5 438.9L1108 438.9L1109.5 438.4L1111 438.2L1112.5 438.2L1114 438.4L1115.5 438.7L1117 438.5L1118.5 438.7L1120 438.9L1121.5 438.2L1123 438L1124.5 438.5L1126 438.8L1127.5 438.8L1129 439L1130.5 439.1L1132 438.5L1133.5 438.3L1135 438.8L1136.5 439L1138 439.3L1139.5 439.1L1141 437.9L1142.5 437.6L1144 438.4L1145.5 438.8L1147 438.5L1148.5 438.5L1150 438.7L1151.5 438.8L1153 439L1154.5 439.2L1156 438.8L1157.5 438.4L1159 438.9L1160.5 439.4L1162 438.8L1163.5 438.3L1165 437.9L1166.5 438.2L1168 438.9L1169.5 438.8L1171 438.8L1172.5 438.9L1174 438.6L1175.5 437.9L1177 438.1L1178.5 439.3L1180 439.3L1181.5 438.9L1183 438.8L1184.5 439L1186 439.9L1187.5 440.8L1189 441.9L1190.5 443.4L1192 443.7L1193.5 443.9L1195 444.8L1196.5 446.2L1198 446.9L1199.5 446.7L1201 446.9L1202.5 447.9L1204 448.4L1205.5 448.5L1207 449.2L1208.5 449.3L1210 449.1L1211.5 448.6L1213 448.2L1214.5 448L1216 446.7L1217.5 445.1L1219 444.5L1220.5 443.6L1222 442.2L1223.5 440.7L1225 439.1L1226.5 437.9L1228 436.7L1229.5 435.6L1231 434.8L1232.5 433.6L1234 432.4L1235.5 431.8L1237 431.4L1238.5 431.8L1240 433.2L1241.5 434.4L1243 435.7L1244.5 438L1246 441L1247.5 443.4L1249 445.2L1250.5 447L1252 448.6L1253.5 449.1L1255 448.7L1256.5 447.9L1258 447.2L1259.5 447.3L1261 447.9L1262.5 447.7L1264 447.4L1265.5 447.6L1267 447.3L1268.5 446.8L1270 446.5L1271.5 446.2L1273 446.1L1274.5 445.7L1276 445L1277.5 444.5L1279 444.5L1280.5 444.7L1282 444.2L1283.5 443.7L1285 444.1L1286.5 444.1L1288 443.8L1289.5 443.5L1291 443.2L1292.5 443.4L1294 444.5L1295.5 445.6L1297 447.1L1298.5 449.6L1300 451.5L1301.5 451.6L1303 451.5L1304.5 451.5L1306 451.5L1307.5 451.9L1309 452.6L1310.5 453.1L1312 452.7L1313.5 452.9L1315 453.7L1316.5 453.7L1318 453.3L1319.5 453L1321 452.9L1322.5 452.9L1324 452.7L1325.5 452.6L1327 453.2L1328.5 453.1L1330 452.7L1331.5 452.2L1333 451.6L1334.5 450.8L1336 450.9L1337.5 451.8L1339 451.9L1340.5 452.1L1342 452.2L1343.5 451.9L1345 452.3L1346.5 452.8L1348 452.9L1349.5 452.4L1351 451.9L1352.5 452.8L1354 453.2L1355.5 452.8L1357 453L1358.5 453.1L1360 453.2L1361.5 453.3L1363 453.2L1364.5 453.7L1366 454L1367.5 454.4L1369 454.6L1370.5 454.6L1372 454.6L1373.5 454.7L1375 454.7L1376.5 454.8L1378 455.1L1379.5 455.6L1381 456.4L1382.5 457.2L1384 456.5L1385.5 456.1L1387 457.1L1388.5 457.6L1390 457.7L1391.5 457.6L1393 457.3L1394.5 457.2L1396 457.6L1397.5 458.5L1399 457.8L1400.5 455.3L1402 452.6L1403.5 448.7L1405 444.1L1405.6 442.7" stroke="#1c1c7c"/>
<path d="M295 567.3L296.5 576.7L298 585L299.5 592.4L301 599.8L302.5 607.4L304 614.9L305.5 622L307 628.3L308.5 634.2L310 640.3L311.5 645.5L313 650.3L314.5 654.6L316 658.4L317.5 661.6L319 663.6L320.5 664.9L322 666.5L323.5 667.8L325 668.2L326.5 668.8L328 669.6L329.5 669.2L331 668L332.5 667.1L334 665.7L335.5 663.6L337 661.6L338.5 659.5L340 656.3L341.5 651.8L343 647.4L344.5 643.8L346 639.8L347.5 635.2L349 630.9L350.5 626.4L352 621L353.5 615.5L355 610.5L356.5 605.5L358 600.3L359.5 595L361 590.4L362.5 586.1L364 581.9L365.5 578.3L367 574.3L368.5 569.8L370 565.8L371.5 561.5L373 556.8L374.5 552.4L376 547.9L377.5 543.5L379 540.1L380.5 536.5L382 532.6L383.5 529.7L385 527.1L386.5 524.1L388 520.9L389.5 518L391 515L392.5 512L394 509.4L395.5 506.7L397 503.8L398.5 501L400 498.5L401.5 495.5L403 492.1L404.5 489.2L406 486.4L407.5 482.7L409 478.4L410.5 475.2L412 471.9L413.5 468L415 464.5L416.5 461.3L418 457.5L419.5 454.4L421 451L422.5 446.8L424 443.2L425.5 440.4L427 438.2L428.5 436.4L430 433.2L431.5 429.1L433 426.4L434.5 424.9L436 423L437.5 420.2L439 417.6L440.5 416L442 414.4L443.5 412.7L445 411.2L446.5 410.3L448 409.2L449.5 407.9L451 406.5L452.5 405.3L454 405L455.5 404.7L457 403.3L458.5 402.3L460 402.3L461.5 402.2L463 401.8L464.5 400.7L466 399.5L467.5 399.5L469 400.8L470.5 401.3L472 400.1L473.5 399.7L475 399.9L476.5 399.7L478 399.6L479.5 399.8L481 400.5L482.5 402.2L484 404L485.5 405.9L487 407.4L488.5 407.8L490 407.6L491.5 408.5L493 409.9L494.5 410.5L496 411.2L497.5 412L499 412.5L500.5 412.7L502 412.6L503.5 412L505 411.5L506.5 411.5L508 411.5L509.5 411.4L511 411.6L512.5 412L514 412.2L515.5 411.7L517 411.2L518.5 411.8L520 412.6L521.5 413L523 412.7L524.5 412.2L526 412.8L527.5 414L529 414.7L530.5 415.5L532 415.7L533.5 415.2L535 415.6L536.5 416.5L538 417.1L539.5 417.5L541 417.7L542.5 417.6L544 417.5L545.5 417.8L547 418.1L548.5 418.4L550 418.7L551.5 419.2L553 419.5L554.5 419.4L556 419.4L557.5 419.2L559 419.1L560.5 419.1L562 419.3L563.5 419.5L565 419.7L566.5 419.5L568 419.3L569.5 419.5L571 419.3L572.5 419L574 419L575.5 419L577 418.9L578.5 418.3L580 417.6L581.5 417.8L583 418.1L584.5 417.4L586 416.4L587.5 415.9L589 415.9L590.5 415.9L592 415.2L593.5 415L595 414.7L596.5 413.8L598 413.9L599.5 414.1L601 413.5L602.5 413L604 412.6L605.5 411.9L607 411.2L608.5 410.7L610 410.1L611.5 409.5L613 409.2L614.5 408.5L616 407.9L617.5 408.4L619 408.9L620.5 408.4L622 407.7L623.5 407.6L625 407.5L626.5 407.8L628 407.9L629.5 408.2L631 409.4L632.5 410.5L634 411.3L635.5 412.2L637 413.4L638.5 415.3L640 417.6L641.5 419.2L643 419.9L644.5 420.7L646 420.8L647.5 420.9L649 422.1L650.5 422.9L652 423.2L653.5 423.8L655 424.2L656.5 423.8L658 423.9L659.5 424.6L661 425.2L662.5 425.8L664 426.8L665.5 427.3L667 427L668.5 427.4L670 428L671.5 428.3L673 428.4L674.5 428.3L676 429.1L677.5 430L679 429.7L680.5 429.5L682 430.2L683.5 430.9L685 430.8L686.5 431.1L688 431.6L689.5 431.6L691 432L692.5 432.3L694 432.6L695.5 433.6L697 433.8L698.5 433.7L700 434.3L701.5 434.2L703 433.9L704.5 434.7L706 435.7L707.5 436.3L709 436.4L710.5 436.6L712 436.9L713.5 437.3L715 437.8L716.5 438L718 438.1L719.5 438.2L721 437.9L722.5 438.4L724 439.5L725.5 439.6L727 439.4L728.5 439.6L730 439.8L731.5 439.9L733 440L734.5 440L736 440.2L737.5 440.8L739 440.5L740.5 440L742 440.4L743.5 440.8L745 440.7L746.5 440.6L748 441.7L749.5 442.4L751 441.2L752.5 440.6L754 440.7L755.5 440.2L757 439.5L758.5 439.6L760 440.2L761.5 440.6L763 440.5L764.5 439.9L766 440.2L767.5 440.6L769 439.4L770.5 438.5L772 438.7L773.5 438.9L775 438.9L776.5 438.4L778 437.8L779.5 438.4L781 439.2L782.5 438L784 436.3L785.5 436.2L787 436.6L788.5 436.7L790 437L791.5 437.4L793 437.2L794.5 436.6L796 436.1L797.5 435.7L799 435.9L800.5 436.1L802 435.7L803.5 435.4L805 435.5L806.5 435.3L808 434.6L809.5 434.2L811 434L812.5 433.5L814 433.3L815.5 434.3L817 434.7L818.5 434.5L820 434.7L821.5 434.6L823 433.7L824.5 432.8L826 433.3L827.5 434.3L829 435L830.5 435.2L832 434.4L833.5 432.8L835 432.3L836.5 433.2L838 433.7L839.5 433.7L841 433.4L842.5 432.9L844 432.6L845.5 432.8L847 433L848.5 433.1L850 433.1L851.5 432.9L853 432.8L854.5 432.9L856 433L857.5 432.8L859 432.2L860.5 432.4L862 432.9L863.5 432.8L865 432.7L866.5 432.4L868 431.7L869.5 431.5L871 431.8L872.5 432L874 431.7L875.5 431L877 430.9L878.5 431.6L880 431.4L881.5 430.5L883 430.6L884.5 430.9L886 430.8L887.5 430.6L889 430.9L890.5 431.3L892 430.9L893.5 430.5L895 430.1L896.5 429.7L898 429.7L899.5 429.4L901 428.9L902.5 428.9L904 429.1L905.5 429.1L907 428.7L908.5 428.6L910 429.1L911.5 429.2L913 428.9L914.5 428.4L916 427.7L917.5 427.2L919 427.3L920.5 427.5L922 426.9L923.5 426.2L925 426L926.5 425.8L928 425.8L929.5 425.3L931 425.1L932.5 425.5L934 425.2L935.5 424.9L937 425.7L938.5 425.9L940 425.2L941.5 425.1L943 424.7L944.5 424.1L946 423.9L947.5 423.8L949 424.5L950.5 424.3L952 423.5L953.5 423.1L955 422.7L956.5 423.1L958 423.3L959.5 422.5L961 422.5L962.5 423.1L964 423.6L965.5 423.4L967 422.5L968.5 422.1L970 422.3L971.5 422.1L973 422.1L974.5 422.8L976 422.9L977.5 422.2L979 421.7L980.5 421.3L982 420.7L983.5 420.6L985 421.2L986.5 422L988 421.8L989.5 421L991 420.1L992.5 419.6L994 420.6L995.5 421.1L997 420.4L998.5 420.4L1000 420.1L1001.5 419.6L1003 420.1L1004.5 420.5L1006 419.9L1007.5 419.6L1009 419.3L1010.5 418.6L1012 418.9L1013.5 419.1L1015 418.6L1016.5 418.7L1018 418.1L1019.5 417.3L1021 417.5L1022.5 417.7L1024 417.7L1025.5 417.7L1027 417.8L1028.5 417.7L1030 417.4L1031.5 417.2L1033 417.4L1034.5 417.8L1036 417.5L1037.5 416.7L1039 416.7L1040.5 417.4L1042 417.4L1043.5 416.9L1045 416.6L1046.5 416.1L1048 415.8L1049.5 416.1L1051 416.7L1052.5 416.6L1054 416.4L1055.5 416.9L1057 417L1058.5 416.9L1060 416.9L1061.5 416.5L1063 416.3L1064.5 416.5L1066 416.6L1067.5 416.3L1069 416.2L1070.5 416.4L1072 416.1L1073.5 415.5L1075 415.5L1076.5 416.3L1078 416.9L1079.5 416.9L1081 416.1L1082.5 415.1L1084 415L1085.5 415.1L1087 415.4L1088.5 415.9L1090 415.8L1091.5 415.6L1093 415.3L1094.5 414.7L1096 414.3L1097.5 414.6L1099 415L1100.5 415.2L1102 415.3L1103.5 414.9L1105 413.9L1106.5 413.8L1108 413.8L1109.5 413.3L1111 413.5L1112.5 414.2L1114 414.4L1115.5 414L1117 413.3L1118.5 413L1120 413L1121.5 412.6L1123 412.6L1124.5 412.6L1126 411.7L1127.5 411.1L1129 411.2L1130.5 411.3L1132 411L1133.5 410.6L1135 410L1136.5 408.9L1138 408.6L1139.5 408.4L1141 407.2L1142.5 405.9L1144 404.9L1145.5 404L1147 403.1L1148.5 402L1150 401.5L1151.5 401L1153 399.9L1154.5 399.1L1156 398.1L1157.5 397.1L1159 396.9L1160.5 397.2L1162 397.4L1163.5 397.6L1165 398.2L1166.5 397.9L1168 397.3L1169.5 398.3L1171 398.9L1172.5 398.6L1174 398.4L1175.5 398.2L1177 398.3L1178.5 399L1180 399.7L1181.5 399.9L1183 400.5L1184.5 403L1186 404.7L1187.5 404.7L1189 404.9L1190.5 404.9L1192 404.7L1193.5 405.2L1195 405.1L1196.5 404.3L1198 404.3L1199.5 404L1201 403.6L1202.5 404.4L1204 404.4L1205.5 403.5L1207 403.4L1208.5 402.9L1210 402.4L1211.5 402.5L1213 402L1214.5 401.7L1216 401.9L1217.5 401.7L1219 400.6L1220.5 399.1L1222 398.7L1223.5 399L1225 398.4L1226.5 397.7L1228 397L1229.5 396.2L1231 395.9L1232.5 395.7L1234 394.7L1235.5 393.8L1237 393.5L1238.5 392.9L1240 391.6L1241.5 390.9L1243 390.7L1244.5 390.3L1246 389.6L1247.5 388.8L1249 388.3L1250.5 387.9L1252 387.6L1253.5 387.1L1255 386.6L1256.5 386.6L1258 387.3L1259.5 387.5L1261 386.9L1262.5 386.8L1264 386.7L1265.5 385.4L1267 384.8L1268.5 385.3L1270 386.5L1271.5 387.4L1273 387.2L1274.5 386.7L1276 385.7L1277.5 384.4L1279 384.7L1280.5 386L1282 386.1L1283.5 385.7L1285 385.9L1286.5 385.8L1288 386.5L1289.5 386.7L1291 386L1292.5 386.8L1294 388.6L1295.5 390.3L1297 391.6L1298.5 392.4L1300 392.7L1301.5 392.7L1303 392.2L1304.5 392.1L1306 391.9L1307.5 391.5L1309 391.7L1310.5 392.2L1312 392.1L1313.5 392L1315 392.4L1316.5 391.8L1318 391.4L1319.5 392.3L1321 392.4L1322.5 391.4L1324 390.7L1325.5 390.6L1327 390.4L1328.5 390.7L1330 391.2L1331.5 390.9L1333 390.3L1334.5 390.1L1336 390L1337.5 390.1L1339 389.9L1340.5 389.2L1342 389.5L1343.5 390L1345 389.3L1346.5 388.9L1348 389.1L1349.5 388.3L1351 387.5L1352.5 387.5L1354 387.1L1355.5 386.8L1357 386.9L1358.5 386.4L1360 385.8L1361.5 385.4L1363 385.5L1364.5 385.5L1366 384.7L1367.5 384.5L1369 384.8L1370.5 384.3L1372 384.2L1373.5 383.9L1375 382.5L1376.5 381.6L1378 381.9L1379.5 382.1L1381 381.7L1382.5 381.3L1384 381.3L1385.5 380.7L1387 379.9L1388.5 379.9L1390 379.5L1391.5 378.7L1393 378.9L1394.5 379.5L1396 378.8L1397.5 377.7L1399 377.7L1400.5 378L1402 377.8L1403.5 377.4L1405 377.4L1405.6 378.1" stroke="#c82828"/>
<path d="M295 628.2L296.5 636.7L298 644.9L299.5 652.9L301 660.5L302.5 667.3L304 675L305.5 683.2L307 691L308.5 697.1L310 701.9L311.5 705.8L313 709L314.5 711.8L316 714.1L317.5 716.4L319 717.9L320.5 718.6L322 719L323.5 719.4L325 719.2L326.5 718L328 716.7L329.5 715.3L331 713.6L332.5 711L334 707.3L335.5 702.8L337 697.8L338.5 691.7L340 684.8L341.5 677L343 669L344.5 662L346 655.9L347.5 650L349 643.9L350.5 637.9L352 632.6L353.5 627.5L355 621.5L356.5 615.4L358 609.9L359.5 604.3L361 598.9L362.5 593.6L364 587.7L365.5 582.2L367 577.8L368.5 573.4L370 568.2L371.5 563.3L373 558.1L374.5 552.9L376 548.7L377.5 544.8L379 540.6L380.5 536.6L382 533.1L383.5 529.5L385 525.3L386.5 521.5L388 518.1L389.5 514.2L391 510.6L392.5 508.1L394 505.9L395.5 502.9L397 499.1L398.5 495.8L400 493.4L401.5 490.6L403 487.6L404.5 484.8L406 481.6L407.5 478L409 474.1L410.5 469.9L412 466.3L413.5 463.4L415 460.1L416.5 456.3L418 452.4L419.5 448.7L421 444.5L422.5 440.3L424 437.4L425.5 435.3L427 432.4L428.5 429.5L430 427.3L431.5 424.7L433 422.1L434.5 420.1L436 417.4L437.5 414.6L439 412.4L440.5 409.8L442 406.8L443.5 403.8L445 400.8L446.5 398.7L448 396.7L449.5 394L451 391.5L452.5 389.1L454 386.9L455.5 384.6L457 381.7L458.5 379L460 377.1L461.5 374.9L463 371.8L464.5 368.6L466 365.9L467.5 363.8L469 361.4L470.5 358.6L472 355.9L473.5 354.4L475 354.1L476.5 353.3L478 351.6L479.5 350.7L481 350.7L482.5 350.9L484 350.9L485.5 349.7L487 348.8L488.5 348.5L490 348L491.5 349.3L493 352.2L494.5 354.5L496 356.6L497.5 359.5L499 362.4L500.5 363.9L502 363.6L503.5 363L505 362.6L506.5 361.6L508 360.3L509.5 358.8L511 356.5L512.5 354.9L514 353.9L515.5 352.2L517 350.3L518.5 349.1L520 347.8L521.5 345.9L523 343.4L524.5 340.6L526 337L527.5 333.3L529 330.8L530.5 328.9L532 327.1L533.5 326.7L535 326.8L536.5 326.7L538 327.1L539.5 328L541 328.7L542.5 328.7L544 328.3L545.5 328.6L547 328.9L548.5 328.6L550 327.8L551.5 326.8L553 325.7L554.5 324.1L556 322.5L557.5 321.4L559 319.9L560.5 318.2L562 318L563.5 318.2L565 316.4L566.5 314.6L568 314.6L569.5 314.7L571 313.8L572.5 312.8L574 312L575.5 311.6L577 311.5L578.5 310.8L580 309.9L581.5 309.6L583 309L584.5 308L586 307.5L587.5 306.9L589 306.6L590.5 306.6L592 306.1L593.5 305.3L595 304.9L596.5 305.7L598 306.8L599.5 307.2L601 307.7L602.5 308.5L604 309.4L605.5 310L607 310L608.5 310.4L610 311L611.5 311.1L613 310.8L614.5 310.6L616 310.8L617.5 310.7L619 309.9L620.5 309.1L622 309.1L623.5 309.2L625 309.9L626.5 310.7L628 310.8L629.5 311.1L631 311.9L632.5 313.1L634 314.7L635.5 316.5L637 317.4L638.5 318.5L640 320.1L641.5 321.3L643 323.3L644.5 325.6L646 327.1L647.5 328.6L649 330.3L650.5 332.3L652 333.9L653.5 334.8L655 336.6L656.5 338.4L658 339.1L659.5 339.7L661 340.9L662.5 342.2L664 343.7L665.5 344.7L667 344.6L668.5 344.5L670 345.6L671.5 346.9L673 348.7L674.5 350.4L676 351.9L677.5 354L679 355.8L680.5 357L682 358.3L683.5 359.9L685 361.7L686.5 363.7L688 365.5L689.5 366.9L691 367.4L692.5 367.9L694 369.8L695.5 371.7L697 372.6L698.5 372.6L700 373.2L701.5 374.3L703 374.8L704.5 375.4L706 377.1L707.5 378.9L709 379L710.5 379.1L712 380.2L713.5 381.7L715 383.1L716.5 384.1L718 384.6L719.5 385.1L721 385.6L722.5 385.9L724 386.9L725.5 388.5L727 389.3L728.5 389.8L730 390.2L731.5 390.7L733 391L734.5 391.4L736 392.3L737.5 393.4L739 394.1L740.5 394.5L742 394.9L743.5 394.9L745 394.4L746.5 393.9L748 394.7L749.5 395.7L751 395.6L752.5 395.2L754 394.6L755.5 394.5L757 395L758.5 394.7L760 394.2L761.5 393.5L763 392L764.5 391L766 390.9L767.5 390.1L769 389.9L770.5 390.9L772 391.1L773.5 390.7L775 390.3L776.5 390.2L778 390.3L779.5 390.4L781 390.7L782.5 390.4L784 390.2L785.5 390.9L787 391.6L788.5 392.4L790 392.7L791.5 392.6L793 393.3L794.5 393.7L796 393.4L797.5 393.6L799 393.7L800.5 393.4L802 394.1L803.5 394.8L805 394.5L806.5 394.2L808 395L809.5 396.2L811 396.3L812.5 395.5L814 395.1L815.5 395.4L817 395.5L818.5 395.3L820 395.6L821.5 396.2L823 395.9L824.5 395.3L826 395.9L827.5 396.6L829 396.6L830.5 396.5L832 396.8L833.5 396.4L835 395.7L836.5 396.4L838 396.4L839.5 395L841 394.9L842.5 395.8L844 396.3L845.5 396.8L847 396.9L848.5 396.8L850 397.1L851.5 397.2L853 397.3L854.5 397.4L856 397.3L857.5 397.4L859 397.1L860.5 396.4L862 396.5L863.5 396.8L865 396.5L866.5 396.2L868 396.6L869.5 397.3L871 397.7L872.5 397.9L874 397.3L875.5 396.9L877 397L878.5 397.1L880 396.8L881.5 396.8L883 397.7L884.5 398.6L886 398.4L887.5 397.7L889 398.2L890.5 399L892 398.8L893.5 398.5L895 398.8L896.5 399.3L898 399.9L899.5 400.2L901 399.8L902.5 399.1L904 398.6L905.5 398.6L907 398.8L908.5 398.8L910 399.1L911.5 399.6L913 399.5L914.5 399.3L916 399.4L917.5 400.1L919 400.5L920.5 400L922 399.9L923.5 400.1L925 400.2L926.5 400.1L928 399.8L929.5 399.6L931 399.5L932.5 399.2L934 399.4L935.5 399.9L937 399.9L938.5 400.1L940 400L941.5 399.7L943 399.8L944.5 399.7L946 400L947.5 400.2L949 399.3L950.5 398.7L952 399.3L953.5 400L955 399.3L956.5 398.7L958 399.1L959.5 399.1L961 398.6L962.5 397.9L964 397.3L965.5 397.6L967 397.5L968.5 397.2L970 397.3L971.5 397.7L973 398.4L974.5 398.6L976 398.2L977.5 397.4L979 397.1L980.5 397.5L982 397.9L983.5 397.9L985 397.4L986.5 397.1L988 396.9L989.5 396.3L991 396.3L992.5 396.4L994 396L995.5 396.2L997 396.6L998.5 396.4L1000 395.9L1001.5 395.3L1003 395.1L1004.5 395.2L1006 395.3L1007.5 395L1009 394.9L1010.5 395L1012 394.3L1013.5 393.2L1015 392.6L1016.5 392.3L1018 392.3L1019.5 392.6L1021 392L1022.5 390.9L1024 390.1L1025.5 389.6L1027 389.9L1028.5 390.4L1030 390L1031.5 389.3L1033 388.4L1034.5 387.9L1036 388.2L1037.5 388.6L1039 388.6L1040.5 388.1L1042 387.7L1043.5 387.7L1045 387.9L1046.5 388.3L1048 388.2L1049.5 388L1051 387.8L1052.5 387.6L1054 387.7L1055.5 388.1L1057 388.3L1058.5 387.9L1060 387.5L1061.5 387.2L1063 387L1064.5 387.4L1066 387.8L1067.5 387.8L1069 387.7L1070.5 387.3L1072 386.6L1073.5 386.4L1075 387.5L1076.5 388.2L1078 387.7L1079.5 387.8L1081 387.5L1082.5 387L1084 386.9L1085.5 386.5L1087 386.7L1088.5 387.2L1090 386.7L1091.5 386.3L1093 386.4L1094.5 386L1096 385.6L1097.5 385.6L1099 385.3L1100.5 384.6L1102 384.6L1103.5 385.1L1105 384.4L1106.5 383.2L1108 382.8L1109.5 383.6L1111 384.4L1112.5 384.7L1114 384.8L1115.5 383.9L1117 382.8L1118.5 382.3L1120 382.2L1121.5 381.6L1123 380.8L1124.5 380.3L1126 380.6L1127.5 380.9L1129 380.2L1130.5 379L1132 378.4L1133.5 378.9L1135 379.3L1136.5 379L1138 378.1L1139.5 376.9L1141 376.5L1142.5 376.8L1144 376.4L1145.5 375.7L1147 375.4L1148.5 375.3L1150 375.2L1151.5 374.6L1153 374L1154.5 374.1L1156 374.6L1157.5 375L1159 374.6L1160.5 374.3L1162 375L1163.5 375.8L1165 376.5L1166.5 376.9L1168 377.2L1169.5 378L1171 378.6L1172.5 378.9L1174 379.8L1175.5 380.6L1177 380.7L1178.5 381.2L1180 382.2L1181.5 383.2L1183 383.5L1184.5 383.4L1186 384L1187.5 385L1189 385.2L1190.5 384.6L1192 384L1193.5 384.3L1195 385.4L1196.5 386L1198 385.7L1199.5 386L1201 386.6L1202.5 386.6L1204 386.3L1205.5 386.5L1207 386.3L1208.5 386.1L1210 386.5L1211.5 386.6L1213 386.3L1214.5 387L1216 386.9L1217.5 385.5L1219 384.7L1220.5 383.8L1222 382.1L1223.5 380.2L1225 378.7L1226.5 377L1228 374.7L1229.5 372.4L1231 370.7L1232.5 369.9L1234 368.8L1235.5 367.1L1237 366.7L1238.5 367.1L1240 366.8L1241.5 366L1243 365.9L1244.5 367.2L1246 368L1247.5 367.5L1249 367.4L1250.5 367.5L1252 367.3L1253.5 367.3L1255 367.2L1256.5 367.5L1258 368.9L1259.5 369.2L1261 368.6L1262.5 368.2L1264 367.5L1265.5 367.5L1267 367.8L1268.5 367.1L1270 367L1271.5 367.2L1273 367.4L1274.5 368.4L1276 368.8L1277.5 368.5L1279 368.3L1280.5 367.8L1282 367.9L1283.5 369.1L1285 370.2L1286.5 370.9L1288 371.9L1289.5 373.5L1291 375L1292.5 375.6L1294 376.3L1295.5 377L1297 376.9L1298.5 376.8L1300 377.4L1301.5 378.6L1303 379.1L1304.5 378.1L1306 377.1L1307.5 377.2L1309 377.5L1310.5 377.5L1312 377.6L1313.5 377.3L1315 376.7L1316.5 376.8L1318 377.5L1319.5 377.7L1321 377.5L1322.5 377.2L1324 376.8L1325.5 376.6L1327 376.7L1328.5 376.5L1330 376.5L1331.5 377.2L1333 377.1L1334.5 376.5L1336 376.6L1337.5 376.8L1339 376.4L1340.5 376L1342 375.6L1343.5 374.6L1345 374.5L1346.5 375.3L1348 375.7L1349.5 375.6L1351 375.2L1352.5 375.4L1354 375.8L1355.5 375.4L1357 374.4L1358.5 374L1360 374.2L1361.5 373.9L1363 373.3L1364.5 373L1366 373.4L1367.5 374.2L1369 373.8L1370.5 373L1372 372.7L1373.5 372.9L1375 372.9L1376.5 372.5L1378 372.7L1379.5 373.2L1381 372.7L1382.5 371.7L1384 371.1L1385.5 370.6L1387 370.3L1388.5 370L1390 369.4L1391.5 368.8L1393 368.4L1394.5 367.9L1396 368.4L1397.5 368.5L1399 366.4L1400.5 363.9L1402 361.8L1403.5 359.1L1405 356.2L1405.6 354.6" stroke="#6e1c7e"/>
<path d="M295 635.1L296.5 644.3L298 654.6L299.5 665L301 674.5L302.5 684L304 693.5L305.5 702.2L307 710.2L308.5 717.4L310 723.6L311.5 728.8L313 733.2L314.5 736.1L316 737.8L317.5 738.8L319 739.4L320.5 740.3L322 741.3L323.5 741.2L325 740.3L326.5 739.4L328 738.3L329.5 735.8L331 731.7L332.5 727L334 722.2L335.5 717.5L337 712.3L338.5 707.5L340 702.6L341.5 696.3L343 689.7L344.5 683.9L346 678.8L347.5 674.1L349 668.8L350.5 662.9L352 657.7L353.5 653.1L355 648.2L356.5 643.6L358 639.7L359.5 636L361 632L362.5 627.9L364 623.7L365.5 619.6L367 616.4L368.5 613.1L370 609.2L371.5 605.5L373 602.1L374.5 598.9L376 595.5L377.5 591.8L379 588.3L380.5 584.6L382 580.3L383.5 576.1L385 572.5L386.5 569L388 564.9L389.5 561L391 557.8L392.5 554.3L394 549.5L395.5 544.3L397 540.3L398.5 536.4L400 532.1L401.5 528.3L403 524L404.5 518.4L406 512.8L407.5 508.1L409 503.3L410.5 498.4L412 493.9L413.5 490.1L415 485.9L416.5 481.1L418 477.3L419.5 474.5L421 470.5L422.5 465.3L424 460.4L425.5 455.7L427 450.9L428.5 447L430 443.4L431.5 439.4L433 435.7L434.5 432.2L436 429.4L437.5 426.4L439 422.6L440.5 419.1L442 415.8L443.5 412L445 407L446.5 398.5L448 388.5L449.5 379.3L451 371.6L452.5 367.1L454 364.8L455.5 362L457 359.6L458.5 358L460 356.8L461.5 355.5L463 353.8L464.5 352.6L466 351.3L467.5 349.2L469 347.2L470.5 346.2L472 345.4L473.5 343.7L475 341.8L476.5 341.3L478 341L479.5 339.5L481 337.9L482.5 336.5L484 334.7L485.5 333.1L487 332.1L488.5 330.9L490 330.7L491.5 331.9L493 332.3L494.5 332.1L496 332.4L497.5 333.3L499 334.3L500.5 334.7L502 334.1L503.5 332.3L505 330.7L506.5 328.1L508 324.1L509.5 320.2L511 316.6L512.5 313.5L514 310.7L515.5 307.8L517 305.3L518.5 303.5L520 301.4L521.5 299.3L523 297.6L524.5 295.4L526 292.7L527.5 290.6L529 288.3L530.5 284.3L532 280.4L533.5 277.3L535 273.3L536.5 270L538 269.2L539.5 269.9L541 271L542.5 271L544 270.5L545.5 270.7L547 269.8L548.5 268.1L550 266.1L551.5 263.3L553 260.2L554.5 257.2L556 254.7L557.5 253.6L559 252.9L560.5 252.3L562 251.6L563.5 250.2L565 248.9L566.5 247.9L568 246.2L569.5 244L571 243L572.5 243.1L574 242.7L575.5 241.4L577 240.1L578.5 239.5L580 239L581.5 237.4L583 235.5L584.5 234.8L586 234.1L587.5 231.9L589 229.7L590.5 228.9L592 229.3L593.5 230.1L595 230.2L596.5 230L598 230.6L599.5 231.9L601 233.2L602.5 234.2L604 235.2L605.5 236.7L607 237.7L608.5 237.6L610 237.9L611.5 238.2L613 237.9L614.5 237.1L616 236.1L617.5 235.2L619 234.5L620.5 234L622 234L623.5 235.1L625 236.4L626.5 238.2L628 240.5L629.5 242.6L631 243.7L632.5 243.9L634 245.7L635.5 248.2L637 249.9L638.5 252.3L640 255.3L641.5 257.2L643 258.7L644.5 261.2L646 263.7L647.5 265.6L649 267.6L650.5 269.3L652 270.9L653.5 272.9L655 274.8L656.5 276.8L658 278.5L659.5 279.9L661 281.9L662.5 283.7L664 285.4L665.5 287.4L667 289.1L668.5 291.3L670 294L671.5 296.9L673 299.4L674.5 301.2L676 303.7L677.5 306.3L679 309.1L680.5 311.9L682 314L683.5 316L685 317L686.5 317.5L688 319.7L689.5 322.8L691 324.5L692.5 324.9L694 326.1L695.5 327.8L697 328.6L698.5 329.9L700 331.7L701.5 332.7L703 333.6L704.5 335.2L706 336.9L707.5 337.6L709 338.3L710.5 339.9L712 341.4L713.5 342.3L715 343.3L716.5 344.7L718 345.5L719.5 346.2L721 347.5L722.5 348.7L724 349.2L725.5 349.5L727 350.7L728.5 352.5L730 353.7L731.5 354.4L733 355.2L734.5 356.3L736 357.5L737.5 358.5L739 358.6L740.5 358.9L742 359.4L743.5 359.7L745 360.7L746.5 361.7L748 362.5L749.5 363.4L751 363.6L752.5 363.7L754 364.3L755.5 365L757 365.9L758.5 366.4L760 366.7L761.5 367.8L763 368.5L764.5 368.6L766 368.6L767.5 368.4L769 369.1L770.5 369.7L772 369.5L773.5 369.7L775 370.6L776.5 371.8L778 372.2L779.5 371.9L781 371.6L782.5 371.6L784 372.7L785.5 373.8L787 373.6L788.5 373.1L790 373.6L791.5 373.7L793 373.3L794.5 374L796 375.2L797.5 375.9L799 376L800.5 376L802 376.5L803.5 376.6L805 376.4L806.5 376.7L808 377.5L809.5 378.4L811 379L812.5 379.1L814 379.5L815.5 379.9L817 379.8L818.5 379.4L820 379.4L821.5 380.2L823 381L824.5 381.4L826 381.7L827.5 382.1L829 382.4L830.5 382.3L832 382.3L833.5 382.8L835 383.5L836.5 384L838 383.8L839.5 383.6L841 384L842.5 384.8L844 385.1L845.5 384.7L847 383.9L848.5 384L850 385L851.5 385.9L853 385.7L854.5 384.9L856 384.7L857.5 384.7L859 384.9L860.5 385.8L862 386.3L863.5 385.9L865 385.7L866.5 386.3L868 387.5L869.5 387.6L871 386.4L872.5 386.2L874 386.8L875.5 387.4L877 387.8L878.5 387.7L880 387.1L881.5 386.9L883 386.9L884.5 386.8L886 386.9L887.5 387.4L889 388.4L890.5 388.1L892 387.2L893.5 387.6L895 388.3L896.5 388.1L898 388.1L899.5 388.5L901 388.6L902.5 388.3L904 387.7L905.5 387.1L907 386.8L908.5 387.4L910 387.7L911.5 387.6L913 387.3L914.5 387.7L916 388.3L917.5 387.7L919 387L920.5 387.1L922 387.6L923.5 387.4L925 386.8L926.5 387.1L928 387.4L929.5 387.6L931 388.1L932.5 387.9L934 387.3L935.5 387.7L937 388.5L938.5 388.6L940 388.1L941.5 387.7L943 387.8L944.5 387.5L946 386.8L947.5 386.7L949 387.3L950.5 387.7L952 387.6L953.5 387.4L955 387.5L956.5 387.4L958 387.5L959.5 387.3L961 386.5L962.5 386.2L964 386.5L965.5 386.8L967 386.9L968.5 386.2L970 385.8L971.5 386.7L973 387.8L974.5 387.5L976 386.5L977.5 386.2L979 386.3L980.5 386.1L982 386L983.5 385.9L985 385.6L986.5 385.6L988 385.9L989.5 385.9L991 385.6L992.5 385.6L994 385.4L995.5 385.2L997 386.2L998.5 387.8L1000 387.7L1001.5 386.9L1003 386.4L1004.5 385.9L1006 385.8L1007.5 386L1009 386.1L1010.5 386.4L1012 385.8L1013.5 384.5L1015 384.8L1016.5 385.7L1018 385.5L1019.5 385.7L1021 386.2L1022.5 386.3L1024 386.3L1025.5 385.9L1027 385.3L1028.5 384.6L1030 384.2L1031.5 384.8L1033 385.3L1034.5 385L1036 384.9L1037.5 385.4L1039 385.6L1040.5 385.2L1042 385.4L1043.5 386.3L1045 386.5L1046.5 385.9L1048 385.6L1049.5 386L1051 387L1052.5 387.3L1054 386.2L1055.5 385.1L1057 385.5L1058.5 386.4L1060 386.2L1061.5 386.2L1063 386.7L1064.5 386.5L1066 385.6L1067.5 385.2L1069 386L1070.5 386.7L1072 386.5L1073.5 385.7L1075 385.7L1076.5 385.9L1078 385.8L1079.5 386.3L1081 386.8L1082.5 386.4L1084 386L1085.5 386.6L1087 387.2L1088.5 387.2L1090 386.7L1091.5 386.1L1093 386.4L1094.5 386.6L1096 386.1L1097.5 385.7L1099 385.8L1100.5 386L1102 385.3L1103.5 384.7L1105 384.8L1106.5 384.9L1108 384.5L1109.5 383.7L1111 383.3L1112.5 383.9L1114 384.3L1115.5 383.1L1117 381.9L1118.5 381.6L1120 381L1121.5 380.2L1123 380.1L1124.5 380.3L1126 380.7L1127.5 380.9L1129 380.6L1130.5 379.8L1132 379L1133.5 378.6L1135 378.7L1136.5 378.6L1138 377.7L1139.5 377.4L1141 377.8L1142.5 377.3L1144 376.4L1145.5 376.1L1147 375.9L1148.5 375.7L1150 375.6L1151.5 375.2L1153 374.6L1154.5 373.9L1156 373.5L1157.5 374.2L1159 375.2L1160.5 375.2L1162 375.1L1163.5 375.4L1165 376L1166.5 377.4L1168 379L1169.5 379.8L1171 380.1L1172.5 380.2L1174 380.1L1175.5 380.4L1177 381.3L1178.5 382.2L1180 383.1L1181.5 383.4L1183 383.5L1184.5 384.7L1186 385.4L1187.5 384.9L1189 385L1190.5 385.3L1192 384.9L1193.5 384.8L1195 385.2L1196.5 385.8L1198 386.2L1199.5 386.4L1201 386.1L1202.5 385.9L1204 386.1L1205.5 385.9L1207 386L1208.5 386.5L1210 386.2L1211.5 385.9L1213 385.9L1214.5 385.7L1216 385.9L1217.5 385.6L1219 384.5L1220.5 383.7L1222 383.1L1223.5 381.5L1225 379.3L1226.5 377L1228 374.7L1229.5 372.9L1231 371.4L1232.5 370.1L1234 368.8L1235.5 368L1237 367.7L1238.5 367.2L1240 367.4L1241.5 367.7L1243 367.3L1244.5 366.9L1246 367.5L1247.5 368.3L1249 367.9L1250.5 367.4L1252 367.4L1253.5 366.9L1255 366.5L1256.5 367.3L1258 368.2L1259.5 368.2L1261 367.4L1262.5 367.1L1264 367.8L1265.5 368L1267 368.2L1268.5 368.5L1270 368.2L1271.5 367.8L1273 367.5L1274.5 367.7L1276 367.9L1277.5 368L1279 367.8L1280.5 367.3L1282 367.5L1283.5 368.4L1285 369.1L1286.5 370L1288 371.5L1289.5 373.9L1291 375.5L1292.5 376.3L1294 377.1L1295.5 377.4L1297 377.3L1298.5 377.2L1300 377.7L1301.5 378.1L1303 378.3L1304.5 378.6L1306 378.4L1307.5 377.8L1309 377.4L1310.5 377.4L1312 377.3L1313.5 377.6L1315 378.3L1316.5 378.2L1318 377.8L1319.5 377.3L1321 376.7L1322.5 376.4L1324 376.1L1325.5 376.3L1327 376.9L1328.5 377.1L1330 377L1331.5 376.7L1333 376.4L1334.5 376.6L1336 377L1337.5 376.6L1339 375.5L1340.5 375.8L1342 376.2L1343.5 375.7L1345 375.3L1346.5 374.7L1348 374.4L1349.5 374.6L1351 374.6L1352.5 374.2L1354 373.6L1355.5 373.5L1357 373.8L1358.5 374L1360 373.9L1361.5 373.6L1363 373.9L1364.5 374L1366 373.7L1367.5 373.6L1369 373.2L1370.5 372.9L1372 372.5L1373.5 372L1375 372.3L1376.5 372.2L1378 371.6L1379.5 371.6L1381 371.3L1382.5 370.9L1384 370.9L1385.5 371L1387 370.9L1388.5 370.5L1390 370.2L1391.5 369.6L1393 369L1394.5 368.4L1396 367.2L1397.5 366.4L1399 366.1L1400.5 364.7L1402 361.9L1403.5 358.7L1405 355.8L1405.6 354.3" stroke="#808080"/>
<path d="M295 650.1L296.5 660.9L298 671.1L299.5 681.6L301 692.9L302.5 703.7L304 713.5L305.5 723L307 731L308.5 737.3L310 743L311.5 747.1L313 750.9L314.5 754L316 755.1L317.5 756.1L319 757.2L320.5 757.5L322 756.9L323.5 757.2L325 757.6L326.5 756.5L328 755L329.5 753.3L331 750.2L332.5 746.3L334 741.9L335.5 737.3L337 732.7L338.5 727.7L340 722.2L341.5 715.4L343 707.7L344.5 700.2L346 693.8L347.5 688.2L349 682.6L350.5 676.8L352 671.3L353.5 666.6L355 661.8L356.5 657.3L358 652.5L359.5 647.5L361 643.4L362.5 639.6L364 636.3L365.5 633L367 629.3L368.5 625.1L370 620.8L371.5 617.2L373 614.1L374.5 610.5L376 606.7L377.5 603.3L379 599.5L380.5 595.2L382 591.7L383.5 588.5L385 584.4L386.5 580.8L388 578L389.5 574.3L391 570.3L392.5 566.4L394 562.3L395.5 558.2L397 554.5L398.5 551.2L400 547.3L401.5 542.6L403 537.9L404.5 532.9L406 527.3L407.5 521.9L409 516.1L410.5 510.1L412 505.1L413.5 500.8L415 497.2L416.5 493.4L418 488.6L419.5 484.4L421 481.1L422.5 477.5L424 474L425.5 471.2L427 468L428.5 464L430 459.7L431.5 455.6L433 451.9L434.5 448.3L436 444.5L437.5 439.9L439 434.6L440.5 428.8L442 422.6L443.5 416.2L445 409.2L446.5 402L448 395.4L449.5 388.4L451 381.6L452.5 376.1L454 371.6L455.5 367.2L457 363.4L458.5 360.5L460 358.3L461.5 355.7L463 353.5L464.5 352L466 349.8L467.5 347.9L469 346.5L470.5 344.7L472 342.7L473.5 340.7L475 339.2L476.5 337.6L478 335.9L479.5 334.3L481 332.2L482.5 330.4L484 329.5L485.5 328.4L487 326.7L488.5 325.2L490 324.3L491.5 323.1L493 320.7L494.5 318.4L496 317.1L497.5 315.6L499 313.4L500.5 310.9L502 308.4L503.5 306.6L505 304.9L506.5 302.6L508 300.2L509.5 297.3L511 294.1L512.5 290.9L514 287.1L515.5 284L517 281.3L518.5 277.3L520 272.9L521.5 269.5L523 265.8L524.5 262.1L526 258.9L527.5 255.9L529 252.3L530.5 247.8L532 244L533.5 240.4L535 237L536.5 234.8L538 232.3L539.5 229L541 226.5L542.5 224.6L544 222.8L545.5 221.2L547 219.8L548.5 218.3L550 217.3L551.5 216.3L553 214.4L554.5 211.5L556 208.8L557.5 206.2L559 203.6L560.5 200.6L562 196.7L563.5 192.8L565 189.9L566.5 188.2L568 186.7L569.5 184.8L571 182.6L572.5 180.7L574 179.3L575.5 177.8L577 177.1L578.5 177L580 176.3L581.5 175.3L583 174.7L584.5 174.6L586 173.7L587.5 172L589 170.9L590.5 170.6L592 171L593.5 170.8L595 170.7L596.5 171.4L598 171.2L599.5 170.6L601 171.2L602.5 172.9L604 174.3L605.5 175.1L607 176.4L608.5 177.5L610 177.9L611.5 178.6L613 179.1L614.5 178.4L616 177.8L617.5 177.9L619 178.3L620.5 178.3L622 177.1L623.5 176.3L625 176.9L626.5 177.8L628 179.7L629.5 182.6L631 186.2L632.5 189.5L634 191.9L635.5 194.3L637 197L638.5 199.7L640 202.7L641.5 205L643 207.3L644.5 210L646 212.3L647.5 214.5L649 216.6L650.5 218.3L652 220.2L653.5 222.1L655 223.8L656.5 226.2L658 228.8L659.5 230.6L661 232.8L662.5 235.4L664 237.2L665.5 239.5L667 242.3L668.5 244.4L670 246.1L671.5 248.5L673 251.5L674.5 254.6L676 257.5L677.5 260.8L679 265.2L680.5 269.8L682 273.9L683.5 277.5L685 280.8L686.5 283.8L688 286.7L689.5 289.8L691 292.3L692.5 294L694 296.3L695.5 299.1L697 301.4L698.5 303.3L700 305.3L701.5 307.3L703 309.2L704.5 311.3L706 313.6L707.5 315.9L709 317.3L710.5 318.7L712 321L713.5 322.6L715 323.6L716.5 325.1L718 326.1L719.5 327L721 328.9L722.5 331L724 332.2L725.5 333.1L727 334.1L728.5 335.2L730 336.7L731.5 338.3L733 339.3L734.5 339.9L736 341.2L737.5 341.8L739 342.2L740.5 344L742 345.9L743.5 346.7L745 347.3L746.5 347.9L748 348.8L749.5 350.7L751 352.3L752.5 353.2L754 354.4L755.5 355.8L757 356.7L758.5 356.3L760 355.7L761.5 355.8L763 356.7L764.5 357.5L766 357.6L767.5 357.9L769 358.6L770.5 359.2L772 359.5L773.5 359.1L775 358.8L776.5 359.3L778 360L779.5 360.7L781 360.9L782.5 361.2L784 361.4L785.5 361.4L787 362.3L788.5 363.2L790 363.3L791.5 363.6L793 364.1L794.5 364.3L796 364.8L797.5 365.4L799 365.7L800.5 366.1L802 366.3L803.5 366.2L805 367L806.5 368.7L808 369.2L809.5 369.1L811 369.7L812.5 370.4L814 370.5L815.5 370.1L817 369.8L818.5 370.3L820 371.6L821.5 373L823 373.5L824.5 373.2L826 373.5L827.5 374.8L829 375.3L830.5 374.9L832 375.2L833.5 375.7L835 375.9L836.5 376.2L838 376.6L839.5 376.8L841 376.9L842.5 377.9L844 378.9L845.5 379.4L847 379.7L848.5 379.8L850 380.4L851.5 381L853 380.8L854.5 381L856 381.6L857.5 381.3L859 380.9L860.5 381.3L862 381.8L863.5 382.2L865 382.8L866.5 383.6L868 384.1L869.5 384L871 384.2L872.5 384.9L874 385.8L875.5 386L877 385.4L878.5 385.6L880 386.1L881.5 385.9L883 386.1L884.5 386.6L886 386.5L887.5 386.4L889 386.5L890.5 386.8L892 387.4L893.5 387.6L895 387.5L896.5 387.8L898 387.9L899.5 388L901 388L902.5 387.8L904 387.5L905.5 387.1L907 386.9L908.5 386.9L910 386.8L911.5 386.8L913 387.3L914.5 387.9L916 387.9L917.5 387.6L919 387.7L920.5 388.4L922 388.4L923.5 387.4L925 386.9L926.5 387.1L928 387.6L929.5 387.6L931 387.4L932.5 387.5L934 386.8L935.5 385.7L937 385.9L938.5 386.5L940 386.5L941.5 387.1L943 387.2L944.5 386.4L946 386.4L947.5 387.3L949 387.8L950.5 387.6L952 386.9L953.5 386.3L955 386.3L956.5 386.4L958 386.2L959.5 386.3L961 386.1L962.5 386.4L964 386.9L965.5 386.9L967 386.7L968.5 386.2L970 385.5L971.5 385.1L973 385.6L974.5 386.3L976 385.5L977.5 385L979 385.5L980.5 385.3L982 385L983.5 384.8L985 384.8L986.5 385.8L988 386L989.5 385.4L991 385.1L992.5 384.9L994 384.7L995.5 384.5L997 384.2L998.5 384.4L1000 385.1L1001.5 385.4L1003 385.1L1004.5 385.6L1006 385.9L1007.5 385.6L1009 385.8L1010.5 386.9L1012 387.1L1013.5 386.6L1015 386.5L1016.5 387.3L1018 387.8L1019.5 387.4L1021 387.8L1022.5 388.2L1024 387.9L1025.5 388.4L1027 389.1L1028.5 389L1030 388.7L1031.5 388.8L1033 389.2L1034.5 389.2L1036 389.5L1037.5 389.9L1039 390L1040.5 390.4L1042 390.6L1043.5 390.6L1045 390.5L1046.5 389.7L1048 389.2L1049.5 390.1L1051 390.4L1052.5 389.8L1054 389.8L1055.5 390.2L1057 390L1058.5 389.6L1060 390.2L1061.5 390.8L1063 389.6L1064.5 388.6L1066 389.1L1067.5 389.1L1069 389L1070.5 389.5L1072 389.9L1073.5 390.1L1075 390.2L1076.5 390.6L1078 390.6L1079.5 390.3L1081 390.7L1082.5 391L1084 390.3L1085.5 389.4L1087 389.7L1088.5 390.3L1090 390.5L1091.5 390.4L1093 390.3L1094.5 390.1L1096 389.8L1097.5 389.8L1099 389.8L1100.5 389.9L1102 389.8L1103.5 389.4L1105 389.2L1106.5 389.6L1108 389.8L1109.5 389.8L1111 390L1112.5 390.5L1114 390.4L1115.5 390L1117 389.9L1118.5 388.9L1120 388.6L1121.5 389.4L1123 389.4L1124.5 389.4L1126 389.3L1127.5 388.8L1129 388.8L1130.5 389.4L1132 390L1133.5 390.2L1135 389.9L1136.5 390L1138 389.8L1139.5 389.2L1141 389.8L1142.5 391L1144 391.5L1145.5 391.6L1147 391.8L1148.5 391.7L1150 391L1151.5 390.4L1153 391L1154.5 392.2L1156 393L1157.5 392.8L1159 393L1160.5 393.5L1162 393.5L1163.5 394.1L1165 394.7L1166.5 394.8L1168 394.7L1169.5 394.4L1171 394.8L1172.5 395.9L1174 396.7L1175.5 396.4L1177 396.1L1178.5 396.5L1180 396.9L1181.5 396.8L1183 397L1184.5 397.2L1186 397.1L1187.5 396.9L1189 397.2L1190.5 397.4L1192 396.6L1193.5 395.3L1195 394.6L1196.5 394.8L1198 394.7L1199.5 394.3L1201 393.6L1202.5 392.6L1204 391.7L1205.5 391.5L1207 391.9L1208.5 391.4L1210 390.5L1211.5 390L1213 389.3L1214.5 388.5L1216 388.1L1217.5 387.1L1219 385.3L1220.5 384.4L1222 384L1223.5 383L1225 381.7L1226.5 381.7L1228 381.9L1229.5 381.4L1231 381.1L1232.5 380.7L1234 380.2L1235.5 379.7L1237 379.5L1238.5 379.7L1240 380L1241.5 379.9L1243 380.2L1244.5 380.4L1246 380.8L1247.5 381.4L1249 381.1L1250.5 380.8L1252 381.4L1253.5 381.8L1255 382.1L1256.5 382.7L1258 382.7L1259.5 382.3L1261 382.5L1262.5 383.1L1264 384L1265.5 384.5L1267 384.4L1268.5 384.4L1270 384.4L1271.5 384.7L1273 386L1274.5 386.8L1276 386.9L1277.5 387.2L1279 387.7L1280.5 388.6L1282 388.8L1283.5 389.3L1285 390.2L1286.5 390.3L1288 390.5L1289.5 390.8L1291 391.3L1292.5 391.9L1294 392.8L1295.5 394.3L1297 395.3L1298.5 396.3L1300 398L1301.5 398.7L1303 399.2L1304.5 399.8L1306 400.1L1307.5 400.3L1309 399.7L1310.5 399.6L1312 400L1313.5 399.8L1315 399.4L1316.5 399.2L1318 399.3L1319.5 399.1L1321 398.5L1322.5 398.8L1324 399.3L1325.5 400.2L1327 400.5L1328.5 399.9L1330 399.5L1331.5 399.6L1333 399L1334.5 397.8L1336 397.3L1337.5 397.3L1339 397.2L1340.5 397.4L1342 397.4L1343.5 397.2L1345 397.7L1346.5 397.9L1348 397.4L1349.5 396.9L1351 396.6L1352.5 396.2L1354 395.7L1355.5 395.5L1357 396L1358.5 396.2L1360 395.6L1361.5 394.9L1363 394.3L1364.5 394.4L1366 394.6L1367.5 394.4L1369 393.9L1370.5 393.2L1372 392.9L1373.5 393.5L1375 393.9L1376.5 393L1378 392.1L1379.5 392.1L1381 392.6L1382.5 393.1L1384 392.8L1385.5 391.7L1387 391.1L1388.5 391.3L1390 391.2L1391.5 391.1L1393 391.3L1394.5 391.1L1396 390.8L1397.5 390.8L1399 390.7L1400.5 390.5L1402 390.6L1403.5 390.8L1405 390.7L1405.6 390.7" stroke="#8ae6e6"/>
<path d="M295 659.1L296.5 672.2L298 685.3L299.5 697.8L301 710.3L302.5 722.2L304 734.3L305.5 746.3L307 756.4L308.5 765.3L310 772.2L311.5 776.3L313 778.7L314.5 780.8L316 782.5L317.5 784L319 784.9L320.5 785.8L322 786.1L323.5 785.7L325 785.3L326.5 785.5L328 785L329.5 782.9L331 779.7L332.5 775.3L334 770.2L335.5 764.7L337 758.8L338.5 753.5L340 749.3L341.5 744.8L343 740.1L344.5 735.2L346 729.1L347.5 721.9L349 714.7L350.5 706.8L352 698.6L353.5 691.5L355 685.1L356.5 680L358 675.7L359.5 671.3L361 667L362.5 663.1L364 658.7L365.5 654.2L367 649.5L368.5 644.8L370 641L371.5 636.7L373 632.3L374.5 628.9L376 625.5L377.5 621.7L379 617.3L380.5 612.7L382 608.9L383.5 605.6L385 602.2L386.5 598.9L388 595.7L389.5 591.7L391 587.5L392.5 584.3L394 581L395.5 576.4L397 571.7L398.5 567.9L400 564.1L401.5 559.8L403 555.7L404.5 551.7L406 548L407.5 543.7L409 538.2L410.5 532.7L412 526.9L413.5 520.1L415 513.5L416.5 507.4L418 501.1L419.5 496.4L421 493.5L422.5 490.8L424 487.4L425.5 484.2L427 481L428.5 477.9L430 475.5L431.5 472.4L433 468.4L434.5 465.2L436 462.4L437.5 460.3L439 458.2L440.5 455.3L442 452.2L443.5 448.4L445 443L446.5 429.7L448 412.8L449.5 402L451 396.5L452.5 392.5L454 389.8L455.5 388.1L457 387.5L458.5 388.1L460 388.3L461.5 387.1L463 381.8L464.5 373.7L466 366.7L467.5 362.3L469 358.9L470.5 356.6L472 354.2L473.5 351L475 347.9L476.5 345.1L478 342.2L479.5 338.7L481 335.9L482.5 333.5L484 330.7L485.5 327.3L487 323L488.5 318.3L490 314.1L491.5 310.6L493 306.6L494.5 302.5L496 298.9L497.5 296.9L499 296L500.5 294.9L502 293.9L503.5 292.3L505 288.9L506.5 285.5L508 282.3L509.5 277.8L511 272.7L512.5 268L514 263.6L515.5 259.7L517 256.2L518.5 252.7L520 249.1L521.5 245.2L523 240.6L524.5 235.3L526 229.7L527.5 222.6L529 214.4L530.5 206.9L532 200.3L533.5 194L535 188.3L536.5 184.1L538 179.6L539.5 174.5L541 170L542.5 165.9L544 162.4L545.5 159.5L547 155.6L548.5 151.7L550 148.4L551.5 145L553 142.2L554.5 139.5L556 136.5L557.5 133.8L559 132L560.5 130.3L562 127.9L563.5 125.9L565 124.5L566.5 122.7L568 121.4L569.5 120.6L571 119.1L572.5 117.8L574 116.6L575.5 114.6L577 112.3L578.5 110.6L580 109.8L581.5 108.7L583 107.4L584.5 106.8L586 105.9L587.5 104.3L589 103L590.5 103L592 102.8L593.5 102.4L595 103.1L596.5 103.6L598 104L599.5 105.7L601 107.4L602.5 107.6L604 107.6L605.5 108.7L607 109.8L608.5 110.5L610 111.6L611.5 112.9L613 114.5L614.5 115.8L616 116.7L617.5 118.5L619 120.3L620.5 121.2L622 122.8L623.5 125.2L625 127.1L626.5 128.6L628 131.3L629.5 134.4L631 137.3L632.5 140.2L634 143.5L635.5 147.4L637 150.4L638.5 153.3L640 157L641.5 160.6L643 162.9L644.5 165.5L646 169.5L647.5 173.4L649 176.5L650.5 180.4L652 184.9L653.5 188.8L655 192L656.5 195L658 197.9L659.5 201.2L661 205L662.5 208.3L664 210.8L665.5 214L667 217.9L668.5 220.8L670 222.8L671.5 225.5L673 229.5L674.5 233.8L676 237.8L677.5 241.7L679 246L680.5 251.6L682 257.3L683.5 263.3L685 269.1L686.5 273L688 276.3L689.5 280.1L691 284.2L692.5 287.7L694 290.4L695.5 293.2L697 295.8L698.5 298.3L700 301.1L701.5 303.8L703 305.9L704.5 307.4L706 309.1L707.5 311.6L709 314.3L710.5 316.3L712 317.5L713.5 318.6L715 320.7L716.5 323.5L718 326.5L719.5 328.8L721 330.8L722.5 333.6L724 336.8L725.5 339L727 340.9L728.5 342.7L730 344.2L731.5 346.3L733 349.2L734.5 352.3L736 354.4L737.5 356L739 357.9L740.5 360L742 361.7L743.5 362.9L745 364.7L746.5 366.1L748 366.8L749.5 368.1L751 369.5L752.5 370.7L754 371.6L755.5 372.6L757 373.6L758.5 374.4L760 375.1L761.5 375.8L763 375.8L764.5 376.1L766 376.9L767.5 377.1L769 377.4L770.5 378.7L772 380.3L773.5 380.7L775 381.6L776.5 383.4L778 384.2L779.5 384.3L781 384.7L782.5 385.4L784 386.2L785.5 386.9L787 387.5L788.5 388L790 388.4L791.5 388.7L793 389.1L794.5 389.8L796 390.8L797.5 391.8L799 391.8L800.5 391.8L802 392.9L803.5 393.3L805 393.4L806.5 393.9L808 394.6L809.5 395.3L811 395.6L812.5 395.9L814 396.8L815.5 396.9L817 396.3L818.5 395.9L820 396L821.5 396.7L823 398L824.5 398.8L826 399.2L827.5 399.7L829 400.3L830.5 401.3L832 401.5L833.5 401.4L835 402.2L836.5 402.6L838 402.3L839.5 402.6L841 402.7L842.5 402.8L844 403.3L845.5 403.8L847 404.3L848.5 404.8L850 405.5L851.5 406.4L853 406.6L854.5 406.6L856 407.4L857.5 408.3L859 408.4L860.5 408.5L862 409L863.5 409.1L865 409.4L866.5 410.3L868 410.7L869.5 410.8L871 410.4L872.5 410.2L874 411.1L875.5 411.7L877 412.1L878.5 412.7L880 413L881.5 413.4L883 413.4L884.5 412.6L886 412.5L887.5 413L889 413.6L890.5 414L892 413.7L893.5 414.1L895 415.2L896.5 415.3L898 415.5L899.5 416.1L901 415.4L902.5 414.8L904 415.6L905.5 416.3L907 416.5L908.5 416.3L910 417L911.5 418.2L913 418.8L914.5 419L916 419L917.5 418.9L919 418.8L920.5 419.1L922 420.2L923.5 421L925 420.7L926.5 420L928 420L929.5 421L931 422.1L932.5 422L934 421.6L935.5 422.1L937 422.7L938.5 422.6L940 422.5L941.5 422.7L943 423.3L944.5 424.1L946 423.9L947.5 424.1L949 424.6L950.5 424.2L952 424L953.5 424.1L955 424.3L956.5 424.3L958 424.2L959.5 424.4L961 425L962.5 425.5L964 425.2L965.5 425.1L967 424.8L968.5 424.2L970 424.4L971.5 424.7L973 424.7L974.5 425L976 425.6L977.5 425.7L979 425.5L980.5 425.9L982 426.5L983.5 426L985 425.5L986.5 425.6L988 425.7L989.5 425.8L991 426.1L992.5 426L994 426.2L995.5 426.4L997 426.1L998.5 425.9L1000 426L1001.5 425.5L1003 425L1004.5 425.5L1006 425.9L1007.5 425.4L1009 425.5L1010.5 426.2L1012 426.5L1013.5 426.9L1015 427.4L1016.5 427.7L1018 427.7L1019.5 427.8L1021 427.7L1022.5 427.5L1024 427.8L1025.5 427.6L1027 426.5L1028.5 426.5L1030 427.7L1031.5 428.3L1033 427.6L1034.5 426.7L1036 426.9L1037.5 427.7L1039 428L1040.5 427.9L1042 428.1L1043.5 428.5L1045 428.6L1046.5 428.2L1048 428.5L1049.5 429.2L1051 428.9L1052.5 428.7L1054 429.6L1055.5 430.6L1057 430.8L1058.5 430.6L1060 430.2L1061.5 430.5L1063 431.1L1064.5 431.2L1066 430.6L1067.5 430.5L1069 431.6L1070.5 432.5L1072 432.1L1073.5 431.3L1075 431.4L1076.5 431.9L1078 432.5L1079.5 433L1081 432.9L1082.5 432.7L1084 432.5L1085.5 432.8L1087 433.8L1088.5 434L1090 433.7L1091.5 433.4L1093 433.5L1094.5 434.2L1096 433.8L1097.5 433.1L1099 433.7L1100.5 434.5L1102 434.9L1103.5 435.3L1105 435.4L1106.5 435.4L1108 435.1L1109.5 434.7L1111 435.1L1112.5 435.7L1114 435.6L1115.5 435.3L1117 435.1L1118.5 434.8L1120 434.6L1121.5 435.3L1123 436.4L1124.5 436.6L1126 435.8L1127.5 435.4L1129 435.5L1130.5 435.8L1132 436L1133.5 436.5L1135 436.3L1136.5 435.2L1138 434.9L1139.5 435L1141 434.6L1142.5 434.2L1144 433L1145.5 431.1L1147 429.6L1148.5 428.1L1150 426.6L1151.5 425.5L1153 424.5L1154.5 423L1156 422L1157.5 422.1L1159 422L1160.5 421.6L1162 422.1L1163.5 422.5L1165 422.7L1166.5 423.4L1168 423.8L1169.5 423.4L1171 423.4L1172.5 423.8L1174 424.8L1175.5 425.4L1177 425.5L1178.5 426.5L1180 427.1L1181.5 427L1183 427.2L1184.5 427.6L1186 427.9L1187.5 428.4L1189 429.1L1190.5 429.1L1192 429L1193.5 430L1195 431L1196.5 431L1198 430.2L1199.5 429.5L1201 429.9L1202.5 430.5L1204 430.4L1205.5 430.4L1207 431.2L1208.5 431.3L1210 430.5L1211.5 429.9L1213 429.6L1214.5 429.6L1216 428.7L1217.5 427.3L1219 426.9L1220.5 425.7L1222 423.9L1223.5 423.2L1225 422.1L1226.5 420.3L1228 418.4L1229.5 416.8L1231 415.6L1232.5 414.4L1234 413.7L1235.5 413.1L1237 411.9L1238.5 411.2L1240 411.5L1241.5 411.9L1243 412.1L1244.5 412.7L1246 414.3L1247.5 415.6L1249 416.4L1250.5 417.2L1252 418.1L1253.5 419.3L1255 420.5L1256.5 421.3L1258 421L1259.5 420.7L1261 421L1262.5 421.1L1264 421.3L1265.5 421.1L1267 419.9L1268.5 418.7L1270 417.5L1271.5 416.4L1273 416L1274.5 415.8L1276 414.6L1277.5 413.5L1279 413.2L1280.5 412.3L1282 411.1L1283.5 410.5L1285 409.8L1286.5 409.5L1288 410.1L1289.5 411.2L1291 412L1292.5 412.5L1294 414.7L1295.5 417.8L1297 420.7L1298.5 422.6L1300 423.7L1301.5 423.9L1303 423.6L1304.5 423.6L1306 424.1L1307.5 423.9L1309 423.7L1310.5 423.7L1312 423.3L1313.5 422.9L1315 423.1L1316.5 423.2L1318 423L1319.5 423.1L1321 422.7L1322.5 422.5L1324 422.4L1325.5 421.8L1327 421.2L1328.5 421.3L1330 421.7L1331.5 421.7L1333 421L1334.5 420L1336 419.4L1337.5 419.2L1339 419.2L1340.5 419.3L1342 418.9L1343.5 418.6L1345 418.5L1346.5 418.1L1348 417.7L1349.5 417.7L1351 418L1352.5 417.8L1354 417.6L1355.5 417.7L1357 417.2L1358.5 416.3L1360 416L1361.5 415.7L1363 415.5L1364.5 415.2L1366 414.7L1367.5 414.6L1369 415.1L1370.5 415.3L1372 415.1L1373.5 414.7L1375 414.3L1376.5 414.1L1378 413.8L1379.5 413.6L1381 413.5L1382.5 413L1384 412.4L1385.5 412.4L1387 412.6L1388.5 412.5L1390 412.4L1391.5 412.3L1393 412L1394.5 412L1396 412L1397.5 411.3L1399 411L1400.5 411.5L1402 411.8L1403.5 411.8L1405 411.5L1405.6 410.7" stroke="#10106c"/>
</g>
<line x1="590" y1="85" x2="590" y2="44" stroke="#000" stroke-width="2.2" stroke-dasharray="5 4"/>
<path d="M590 20 L583.5 46 L596.5 46 Z" fill="#000"/>
<line x1="320" y1="804" x2="320" y2="840" stroke="#000" stroke-width="2.2" stroke-dasharray="5 6"/>
<path d="M320 870 L313.5 846 L326.5 846 Z" fill="#000"/>
<line x1="295" y1="1231.2" x2="295" y2="2113.8" stroke="#000" stroke-width="3"/>
<line x1="278" y1="2112.3" x2="1486.5" y2="2112.3" stroke="#333" stroke-width="3"/>
<line x1="1485" y1="1230.4" x2="1485" y2="2112.3" stroke="#cf1f1f" stroke-width="3"/>
<line x1="278" y1="2112.3" x2="295" y2="2112.3" stroke="#000" stroke-width="3"/>
<line x1="287" y1="2032.3" x2="295" y2="2032.3" stroke="#000" stroke-width="3"/>
<line x1="278" y1="1952.4" x2="295" y2="1952.4" stroke="#000" stroke-width="3"/>
<line x1="287" y1="1872.4" x2="295" y2="1872.4" stroke="#000" stroke-width="3"/>
<line x1="278" y1="1792.4" x2="295" y2="1792.4" stroke="#000" stroke-width="3"/>
<line x1="287" y1="1712.5" x2="295" y2="1712.5" stroke="#000" stroke-width="3"/>
<line x1="278" y1="1632.5" x2="295" y2="1632.5" stroke="#000" stroke-width="3"/>
<line x1="287" y1="1552.5" x2="295" y2="1552.5" stroke="#000" stroke-width="3"/>
<line x1="278" y1="1472.6" x2="295" y2="1472.6" stroke="#000" stroke-width="3"/>
<line x1="287" y1="1392.6" x2="295" y2="1392.6" stroke="#000" stroke-width="3"/>
<line x1="278" y1="1312.6" x2="295" y2="1312.6" stroke="#000" stroke-width="3"/>
<line x1="287" y1="1232.7" x2="295" y2="1232.7" stroke="#000" stroke-width="3"/>
<line x1="324.8" y1="2112.3" x2="324.8" y2="2120.3" stroke="#333" stroke-width="3"/>
<line x1="414" y1="2112.3" x2="414" y2="2129.3" stroke="#333" stroke-width="3"/>
<line x1="503.2" y1="2112.3" x2="503.2" y2="2120.3" stroke="#333" stroke-width="3"/>
<line x1="592.5" y1="2112.3" x2="592.5" y2="2129.3" stroke="#333" stroke-width="3"/>
<line x1="681.8" y1="2112.3" x2="681.8" y2="2120.3" stroke="#333" stroke-width="3"/>
<line x1="771" y1="2112.3" x2="771" y2="2129.3" stroke="#333" stroke-width="3"/>
<line x1="860.2" y1="2112.3" x2="860.2" y2="2120.3" stroke="#333" stroke-width="3"/>
<line x1="949.5" y1="2112.3" x2="949.5" y2="2129.3" stroke="#333" stroke-width="3"/>
<line x1="1038.8" y1="2112.3" x2="1038.8" y2="2120.3" stroke="#333" stroke-width="3"/>
<line x1="1128" y1="2112.3" x2="1128" y2="2129.3" stroke="#333" stroke-width="3"/>
<line x1="1217.2" y1="2112.3" x2="1217.2" y2="2120.3" stroke="#333" stroke-width="3"/>
<line x1="1306.5" y1="2112.3" x2="1306.5" y2="2129.3" stroke="#333" stroke-width="3"/>
<line x1="1395.8" y1="2112.3" x2="1395.8" y2="2120.3" stroke="#333" stroke-width="3"/>
<line x1="1485" y1="2112.3" x2="1485" y2="2129.3" stroke="#333" stroke-width="3"/>
<line x1="1468" y1="1987" x2="1485" y2="1987" stroke="#a04040" stroke-width="3"/>
<line x1="1477" y1="1861.2" x2="1485" y2="1861.2" stroke="#a04040" stroke-width="3"/>
<line x1="1468" y1="1735.3" x2="1485" y2="1735.3" stroke="#a04040" stroke-width="3"/>
<line x1="1477" y1="1609.5" x2="1485" y2="1609.5" stroke="#a04040" stroke-width="3"/>
<line x1="1468" y1="1483.6" x2="1485" y2="1483.6" stroke="#a04040" stroke-width="3"/>
<line x1="1477" y1="1357.8" x2="1485" y2="1357.8" stroke="#a04040" stroke-width="3"/>
<line x1="1468" y1="1231.9" x2="1485" y2="1231.9" stroke="#a04040" stroke-width="3"/>
<text x="263.5" y="1326.9" font-size="47.5" text-anchor="end" fill="#000">0.02</text>
<text x="263.5" y="1486.9" font-size="47.5" text-anchor="end" fill="#000">0.01</text>
<text x="263.5" y="1646.8" font-size="47.5" text-anchor="end" fill="#000">0.00</text>
<text x="263.5" y="1806.7" font-size="47.5" text-anchor="end" fill="#000">-0.01</text>
<text x="263.5" y="1966.7" font-size="47.5" text-anchor="end" fill="#000">-0.02</text>
<text x="263.5" y="2126.6" font-size="47.5" text-anchor="end" fill="#000">-0.03</text>
<text x="414" y="2180" font-size="49" text-anchor="middle" fill="#000">-0.3</text>
<text x="592.5" y="2180" font-size="49" text-anchor="middle" fill="#000">0.0</text>
<text x="771" y="2180" font-size="49" text-anchor="middle" fill="#000">0.3</text>
<text x="949.5" y="2180" font-size="49" text-anchor="middle" fill="#000">0.6</text>
<text x="1128" y="2180" font-size="49" text-anchor="middle" fill="#000">0.9</text>
<text x="1306.5" y="2180" font-size="49" text-anchor="middle" fill="#000">1.2</text>
<text x="1485" y="2180" font-size="49" text-anchor="middle" fill="#000">1.5</text>
<text x="1503" y="1244.9" font-size="49" text-anchor="start" fill="#cc2828">1.5</text>
<text x="1503" y="1496.6" font-size="49" text-anchor="start" fill="#cc2828">1.0</text>
<text x="1503" y="1748.3" font-size="49" text-anchor="start" fill="#cc2828">0.5</text>
<text x="1503" y="2000" font-size="49" text-anchor="start" fill="#cc2828">0.0</text>
<text x="0" y="0" font-size="55" text-anchor="middle" transform="translate(89.5 1679.5) rotate(-90)">I / mA</text>
<text x="0" y="0" font-size="54.3" text-anchor="middle" fill="#cc2828" transform="translate(1679.5 1673.2) rotate(-90)">G / mS</text>
<text x="701" y="2276" font-size="53.5" text-anchor="start">E / V vs. Ag/Ag</text>
<text x="1063" y="2246.5" font-size="28">+</text>
<text x="889" y="1256" font-size="93" text-anchor="middle" fill="#000">b</text>
<text x="456.5" y="1619.5" font-size="53" text-anchor="middle" fill="#000">1</text>
<text x="451" y="1967.5" font-size="54" text-anchor="middle" fill="#cf1f1f">2</text>
<path d="M415.3 1646L417.2 1645.6L419.2 1645.2L421.1 1644.7L423.1 1644.3L425 1643.9L427 1643.5L428.9 1643L430.9 1642.6L432.9 1642.2L434.9 1641.8L437 1641.5L439 1641.1L441 1640.8L443 1640.5L444.9 1640.2L446.8 1640L448.7 1639.7L450.5 1639.5L452.4 1639.3L454.2 1639.1L456.1 1638.9L458 1638.8L459.9 1638.6L461.9 1638.4L463.8 1638.3L465.8 1638.1L467.8 1638L469.8 1637.8L471.9 1637.7L474 1637.5L476 1637.4L478.1 1637.3L480.3 1637.1L482.4 1637L484.5 1636.9L486.6 1636.8L488.8 1636.6L490.9 1636.5L493 1636.4L495.2 1636.3L497.3 1636.2L499.4 1636L501.4 1635.9L503.4 1635.8L505.4 1635.7L507.4 1635.6L509.4 1635.5L511.4 1635.4L513.4 1635.3L515.5 1635.2L517.5 1635.1L519.6 1635L521.6 1634.9L523.7 1634.8L525.8 1634.7L527.9 1634.6L530 1634.5L532.2 1634.4L534.3 1634.3L536.4 1634.2L538.5 1634.2L540.7 1634.1L542.8 1634L544.9 1633.9L547 1633.8L549.1 1633.8L551.2 1633.7L553.3 1633.6L555.3 1633.5L557.4 1633.4L559.4 1633.4L561.4 1633.3L563.4 1633.2L565.3 1633.1L567.2 1633.1L569.1 1633L571 1632.9L572.9 1632.9L574.8 1632.8L576.7 1632.7L578.6 1632.7L580.6 1632.6L582.6 1632.5L584.6 1632.4L586.7 1632.4L588.7 1632.3L590.8 1632.2L592.8 1632.1L594.8 1632.1L596.8 1632L598.8 1631.9L600.8 1631.8L602.7 1631.8L604.6 1631.7L606.5 1631.7L608.4 1631.6L610.4 1631.5L612.3 1631.5L614.2 1631.4L616.2 1631.3L618.2 1631.3L620.2 1631.2L622.2 1631.1L624.3 1631.1L626.4 1631L628.5 1631L630.6 1630.9L632.7 1630.8L634.9 1630.8L637 1630.7L639.1 1630.7L641.2 1630.6L643.3 1630.6L645.4 1630.5L647.5 1630.4L649.5 1630.4L651.5 1630.3L653.4 1630.2L655.4 1630.1L657.4 1630L659.3 1629.9L661.3 1629.7L663.3 1629.6L665.3 1629.4L667.3 1629.2L669.3 1629L671.3 1628.8L673.2 1628.7L675.2 1628.5L677.1 1628.3L679.1 1628.2L681.1 1628.1L683 1627.9L685 1627.9L687 1627.8L689 1627.7L691 1627.6L693.1 1627.5L695.1 1627.4L697.1 1627.3L699.1 1627.1L701.2 1626.9L703.3 1626.7L705.3 1626.4L707.4 1626.1L709.5 1625.8L711.6 1625.4L713.6 1625.1L715.6 1624.6L717.6 1624.2L719.6 1623.7L721.6 1623.2L723.5 1622.6L725.4 1622L727.3 1621.4L729.2 1620.8L731.1 1620.1L733 1619.3L734.8 1618.6L736.7 1617.8L738.6 1616.9L740.4 1616.1L742.3 1615.2L744.1 1614.2L745.9 1613.3L747.7 1612.3L749.6 1611.4L751.3 1610.4L753.1 1609.3L754.9 1608.3L756.7 1607.2L758.4 1606.2L760.2 1605.1L761.9 1604L763.6 1602.8L765.3 1601.7L767 1600.5L768.6 1599.3L770.3 1598.1L771.9 1596.9L773.6 1595.6L775.2 1594.3L776.8 1593L778.3 1591.7L779.9 1590.4L781.4 1589.1L782.9 1587.7L784.4 1586.4L785.8 1585L787.3 1583.6L788.8 1582.1L790.2 1580.7L791.6 1579.3L793.1 1577.8L794.5 1576.4L795.9 1574.9L797.3 1573.4L798.7 1571.9L800.1 1570.3L801.5 1568.8L802.9 1567.3L804.3 1565.7L805.7 1564.2L807 1562.7L808.3 1561.2L809.6 1559.6L810.9 1558.1L812.2 1556.6L813.5 1555.1L814.7 1553.5L816 1552L817.3 1550.4L818.7 1548.8L820 1547.2L821.3 1545.6L822.6 1544L823.9 1542.4L825.3 1540.8L826.6 1539.2L827.9 1537.6L829.3 1536L830.6 1534.4L832 1532.7L833.4 1531.1L834.7 1529.4L836.1 1527.8L837.5 1526.1L838.8 1524.5L840.2 1522.9L841.5 1521.4L842.9 1519.9L844.2 1518.4L845.5 1517L846.9 1515.6L848.2 1514.2L849.6 1512.8L851 1511.5L852.5 1510.2L854 1508.9L855.5 1507.6L857.1 1506.4L858.6 1505.3L860.3 1504.1L861.9 1503L863.6 1501.9L865.4 1500.9L867.2 1499.9L869 1498.8L870.8 1497.8L872.6 1496.8L874.3 1495.8L876.1 1494.8L877.9 1493.8L879.7 1492.7L881.4 1491.7L883.2 1490.7L885 1489.6L886.7 1488.5L888.5 1487.4L890.3 1486.3L892 1485.2L893.7 1484L895.4 1482.8L897.1 1481.7L898.8 1480.5L900.4 1479.2L902.1 1478L903.7 1476.7L905.4 1475.5L907.1 1474.2L908.7 1472.9L910.4 1471.7L912.1 1470.4L913.7 1469.2L915.4 1467.9L917.1 1466.7L918.7 1465.5L920.4 1464.4L922.1 1463.2L923.7 1462L925.4 1460.9L927.1 1459.8L928.8 1458.6L930.4 1457.5L932.1 1456.3L933.8 1455.1L935.5 1453.9L937.2 1452.8L938.9 1451.6L940.5 1450.4L942.2 1449.2L943.8 1448L945.4 1446.8L947 1445.6L948.6 1444.4L950.2 1443.2L951.8 1441.9L953.4 1440.7L955 1439.4L956.7 1438.2L958.3 1436.9L959.8 1435.6L961.4 1434.4L963 1433.1L964.5 1431.8L966.1 1430.4L967.6 1429.1L969.1 1427.7L970.6 1426.3L972.1 1424.9L973.5 1423.5L975 1422L976.4 1420.5L977.9 1419L979.3 1417.5L980.7 1416L982.1 1414.5L983.4 1413L984.8 1411.4L986.1 1409.9L987.5 1408.4L988.8 1406.9L990.1 1405.5L991.4 1404L992.7 1402.5L994.1 1401L995.5 1399.5L996.9 1398L998.3 1396.4L999.7 1394.9L1001.1 1393.4L1002.5 1391.9L1003.9 1390.4L1005.3 1388.9L1006.7 1387.5L1008.1 1386.1L1009.6 1384.7L1011 1383.3L1012.5 1381.9L1014 1380.6L1015.4 1379.2L1016.9 1377.8L1018.4 1376.4L1019.8 1375L1021.2 1373.6L1022.6 1372.1L1023.9 1370.7L1025.2 1369.2L1026.6 1367.7L1027.9 1366.2L1029.3 1364.6L1030.6 1363L1032 1361.3L1033.4 1359.6L1034.8 1357.9L1036.2 1356.2L1037.6 1354.5L1039 1352.9L1040.4 1351.2L1041.8 1349.6L1043.1 1348L1044.4 1346.4L1045.7 1344.9L1047 1343.3L1048.3 1341.8L1049.7 1340.3L1051 1338.8L1052.3 1337.3L1053.7 1335.8L1055.1 1334.3L1056.5 1332.9L1058 1331.4L1059.4 1330L1060.9 1328.6L1062.4 1327.3L1064 1326L1065.6 1324.7L1067.2 1323.4L1068.8 1322.2L1070.5 1321L1072.2 1319.8L1074 1318.7L1075.7 1317.6L1077.5 1316.6L1079.4 1315.6L1081.3 1314.7L1083.2 1313.9L1085.1 1313.1L1087.1 1312.4L1089.1 1311.7L1091.2 1311.2L1093.2 1310.8L1095.2 1310.5L1097.2 1310.4L1099.3 1310.4L1101.3 1310.5L1103.3 1310.8L1105.2 1311.2L1107.1 1311.7L1109 1312.4L1110.8 1313.2L1112.6 1314.1L1114.2 1315.2L1115.8 1316.4L1117.4 1317.6L1118.9 1319L1120.3 1320.4L1121.7 1321.9L1123 1323.4L1124.2 1324.9L1125.4 1326.5L1126.6 1328.1L1127.8 1329.7L1129 1331.4L1130.2 1333.1L1131.4 1334.8L1132.6 1336.6L1133.7 1338.4L1134.9 1340.2L1136.1 1342L1137.2 1343.9L1138.3 1345.7L1139.4 1347.5L1140.5 1349.3L1141.6 1351.1L1142.6 1352.9L1143.6 1354.7L1144.6 1356.5L1145.6 1358.4L1146.6 1360.2L1147.6 1362L1148.5 1363.8L1149.4 1365.7L1150.3 1367.5L1151.2 1369.3L1152.1 1371.1L1152.9 1372.9L1153.8 1374.7L1154.6 1376.5L1155.5 1378.3L1156.3 1380.1L1157.2 1381.9L1158 1383.8L1158.8 1385.6L1159.6 1387.4L1160.4 1389.2L1161.2 1391.1L1162 1392.9L1162.8 1394.8L1163.6 1396.6L1164.4 1398.5L1165.2 1400.4L1166 1402.2L1166.8 1404.1L1167.6 1406L1168.4 1407.9L1169.2 1409.8L1170 1411.7L1170.8 1413.5L1171.7 1415.4L1172.5 1417.3L1173.3 1419.2L1174.2 1421L1175 1422.9L1175.9 1424.7L1176.8 1426.6L1177.6 1428.4L1178.5 1430.2L1179.4 1432.1L1180.3 1433.9L1181.2 1435.7L1182.2 1437.4L1183.1 1439.2L1184.1 1441L1185 1442.7L1186 1444.5L1187 1446.2L1188 1447.9L1189 1449.6L1190.1 1451.4L1191.1 1453.1L1192.1 1454.8L1193.2 1456.5L1194.2 1458.2L1195.2 1459.9L1196.3 1461.7L1197.3 1463.4L1198.3 1465.2L1199.3 1466.9L1200.3 1468.7L1201.3 1470.4L1202.4 1472.2L1203.4 1473.9L1204.5 1475.6L1205.7 1477.2L1206.9 1478.9L1208.1 1480.5L1209.3 1482.1L1210.7 1483.6L1212 1485.1L1213.4 1486.6L1214.8 1488.1L1216.2 1489.6L1217.7 1491L1219.2 1492.4L1220.6 1493.9L1222.1 1495.3L1223.6 1496.7L1225.1 1498.1L1226.6 1499.5L1228.1 1500.8L1229.7 1502.2L1231.2 1503.6L1232.8 1504.9L1234.4 1506.2L1236 1507.4L1237.7 1508.7L1239.3 1509.9L1241 1511L1242.7 1512.1L1244.5 1513.2L1246.2 1514.2L1248 1515.3L1249.8 1516.2L1251.6 1517.2L1253.4 1518.1L1255.3 1519L1257.1 1519.9L1259 1520.8L1260.8 1521.6L1262.7 1522.4L1264.5 1523.3L1266.4 1524.1L1268.3 1524.9L1270.1 1525.6L1272 1526.4L1274 1527.2L1275.9 1527.9L1277.8 1528.7L1279.7 1529.4L1281.7 1530.1L1283.6 1530.8L1285.6 1531.5L1287.5 1532.2L1289.5 1532.8L1291.4 1533.5L1293.4 1534.1L1295.4 1534.7L1297.3 1535.3L1299.3 1535.9L1301.3 1536.5L1303.3 1537.1L1305.3 1537.7L1307.2 1538.2L1309.2 1538.8L1311.2 1539.3L1313.2 1539.9L1315.2 1540.4L1317.1 1540.9L1319.1 1541.5L1321.1 1542L1323 1542.5L1325 1543L1327 1543.5L1328.9 1544L1330.9 1544.5L1332.9 1545L1334.9 1545.4L1336.8 1545.9L1338.8 1546.3L1340.8 1546.8L1342.8 1547.2L1344.8 1547.6L1346.8 1548.1L1348.8 1548.5L1350.7 1548.9L1352.7 1549.3L1354.7 1549.7L1356.7 1550.1L1358.7 1550.4L1360.7 1550.8L1362.7 1551.2L1364.7 1551.6L1366.7 1552" fill="none" stroke="#000" stroke-width="3.2" stroke-linejoin="round"/>
<path d="M1366.7 1552L1365.6 1553.7L1364.5 1555.4L1363.3 1557L1362.2 1558.7L1361 1560.4L1359.8 1562L1358.6 1563.7L1357.3 1565.3L1356 1566.9L1354.6 1568.4L1353.2 1569.8L1351.7 1571.2L1350.2 1572.5L1348.6 1573.8L1347 1575L1345.4 1576.2L1343.7 1577.3L1342 1578.5L1340.2 1579.6L1338.4 1580.6L1336.6 1581.7L1334.8 1582.7L1333 1583.6L1331.2 1584.6L1329.4 1585.4L1327.5 1586.3L1325.7 1587.1L1323.8 1587.9L1321.9 1588.6L1320 1589.3L1318.1 1590L1316.2 1590.7L1314.3 1591.3L1312.3 1592L1310.4 1592.6L1308.5 1593.1L1306.5 1593.7L1304.5 1594.3L1302.6 1594.8L1300.6 1595.3L1298.6 1595.8L1296.6 1596.3L1294.6 1596.7L1292.5 1597.2L1290.5 1597.6L1288.5 1598L1286.5 1598.4L1284.4 1598.8L1282.4 1599.2L1280.4 1599.5L1278.3 1599.9L1276.3 1600.2L1274.2 1600.5L1272.2 1600.8L1270.1 1601.1L1268.1 1601.4L1266 1601.6L1264 1601.9L1261.9 1602.2L1259.9 1602.5L1257.9 1602.8L1255.8 1603.1L1253.8 1603.4L1251.7 1603.7L1249.7 1604L1247.6 1604.3L1245.6 1604.7L1243.5 1605L1241.5 1605.3L1239.4 1605.6L1237.4 1605.9L1235.3 1606.2L1233.3 1606.5L1231.2 1606.8L1229.2 1607.1L1227.1 1607.4L1225.1 1607.7L1223 1608L1221 1608.3L1218.9 1608.7L1216.9 1609L1214.8 1609.3L1212.8 1609.6L1210.7 1609.9L1208.7 1610.2L1206.6 1610.5L1204.6 1610.8L1202.6 1611.1L1200.6 1611.4L1198.5 1611.7L1196.5 1612L1194.5 1612.3L1192.5 1612.7L1190.4 1613L1188.4 1613.3L1186.4 1613.6L1184.3 1613.9L1182.3 1614.1L1180.2 1614.4L1178.2 1614.7L1176.2 1614.9L1174.1 1615.1L1172.1 1615.3L1170.1 1615.5L1168.1 1615.7L1166 1615.9L1163.9 1616.1L1161.9 1616.3L1159.8 1616.6L1157.7 1616.8L1155.7 1617.1L1153.6 1617.4L1151.5 1617.7L1149.5 1618.1L1147.4 1618.5L1145.4 1618.9L1143.4 1619.4L1141.4 1619.9L1139.4 1620.5L1137.4 1621L1135.4 1621.6L1133.4 1622.3L1131.4 1622.9L1129.4 1623.6L1127.4 1624.3L1125.4 1625L1123.5 1625.8L1121.5 1626.5L1119.6 1627.3L1117.8 1628.1L1115.9 1628.9L1114.1 1629.7L1112.3 1630.6L1110.6 1631.5L1108.8 1632.4L1107 1633.4L1105.3 1634.4L1103.5 1635.4L1101.8 1636.5L1100.1 1637.7L1098.4 1638.8L1096.7 1640.1L1095.1 1641.3L1093.5 1642.5L1091.9 1643.8L1090.3 1645.1L1088.8 1646.4L1087.3 1647.7L1085.8 1649.1L1084.3 1650.4L1082.8 1651.8L1081.4 1653.2L1079.9 1654.7L1078.5 1656.2L1077.1 1657.7L1075.7 1659.2L1074.3 1660.7L1073 1662.3L1071.7 1663.9L1070.4 1665.5L1069.2 1667.1L1068 1668.7L1066.8 1670.4L1065.6 1672.1L1064.5 1673.8L1063.3 1675.5L1062.2 1677.2L1061.1 1679L1060 1680.7L1058.9 1682.4L1057.8 1684.2L1056.7 1685.9L1055.6 1687.7L1054.6 1689.4L1053.5 1691.2L1052.5 1692.9L1051.4 1694.7L1050.4 1696.5L1049.4 1698.2L1048.4 1700L1047.4 1701.8L1046.4 1703.6L1045.4 1705.3L1044.5 1707.1L1043.6 1708.9L1042.7 1710.8L1041.8 1712.6L1040.9 1714.4L1040.1 1716.3L1039.2 1718.1L1038.4 1720L1037.6 1721.8L1036.9 1723.7L1036.1 1725.6L1035.4 1727.5L1034.6 1729.4L1033.9 1731.3L1033.2 1733.2L1032.4 1735.1L1031.7 1736.9L1031 1738.8L1030.2 1740.7L1029.5 1742.6L1028.7 1744.5L1028 1746.3L1027.3 1748.2L1026.5 1750.1L1025.8 1751.9L1025 1753.8L1024.3 1755.7L1023.5 1757.5L1022.8 1759.4L1022 1761.3L1021.3 1763.1L1020.5 1765L1019.8 1766.9L1019 1768.7L1018.2 1770.6L1017.5 1772.5L1016.7 1774.4L1016 1776.3L1015.2 1778.2L1014.5 1780.1L1013.8 1781.9L1013.1 1783.8L1012.4 1785.8L1011.7 1787.7L1011 1789.6L1010.3 1791.5L1009.7 1793.4L1009.1 1795.4L1008.4 1797.3L1007.8 1799.3L1007.2 1801.2L1006.6 1803.2L1006.1 1805.1L1005.5 1807.1L1004.9 1809.1L1004.4 1811L1003.8 1813L1003.3 1814.9L1002.8 1816.9L1002.3 1818.8L1001.8 1820.8L1001.3 1822.7L1000.8 1824.7L1000.3 1826.7L999.7 1828.6L999.2 1830.6L998.6 1832.5L998 1834.5L997.4 1836.4L996.8 1838.4L996.1 1840.3L995.4 1842.3L994.7 1844.2L994 1846.2L993.3 1848.1L992.6 1850.1L991.9 1852L991.2 1853.9L990.5 1855.9L989.9 1857.8L989.3 1859.8L988.6 1861.7L988 1863.7L987.4 1865.7L986.9 1867.6L986.3 1869.6L985.8 1871.6L985.2 1873.5L984.7 1875.5L984.2 1877.4L983.7 1879.4L983.2 1881.4L982.7 1883.3L982.2 1885.3L981.8 1887.3L981.3 1889.2L980.9 1891.2L980.4 1893.1L980 1895.1L979.5 1897.1L979.1 1899.1L978.7 1901L978.3 1903L977.8 1905L977.4 1907L977 1909L976.5 1911L976.1 1913L975.7 1915.1L975.2 1917.1L974.8 1919.1L974.3 1921.1L973.9 1923.1L973.4 1925.1L972.9 1927.1L972.5 1929.1L972 1931.1L971.5 1933.1L970.9 1935.1L970.4 1937.1L969.9 1939.1L969.3 1941L968.7 1942.9L968.2 1944.9L967.6 1946.8L966.9 1948.7L966.3 1950.6L965.7 1952.5L965 1954.4L964.3 1956.3L963.6 1958.2L962.9 1960.1L962.1 1962.1L961.4 1964L960.6 1965.9L959.8 1967.8L959.1 1969.7L958.3 1971.7L957.5 1973.6L956.8 1975.5L956 1977.5L955.3 1979.4L954.5 1981.4L953.7 1983.3L953 1985.2L952.2 1987.1L951.3 1989L950.5 1990.8L949.6 1992.6L948.6 1994.4L947.6 1996.1L946.5 1997.8L945.3 1999.5L944.2 2001.1L942.9 2002.7L941.7 2004.2L940.3 2005.7L938.9 2007.1L937.4 2008.5L935.9 2009.9L934.3 2011.1L932.6 2012.2L930.8 2013.2L929.1 2014L927.3 2014.6L925.4 2014.9L923.6 2014.9L921.7 2014.6L919.9 2014L918.2 2013.2L916.5 2012.2L914.8 2011L913.3 2009.7L911.8 2008.3L910.4 2006.8L909 2005.3L907.8 2003.6L906.5 2001.9L905.4 2000.2L904.3 1998.4L903.2 1996.6L902.1 1994.8L901.1 1992.9L900.1 1991L899.1 1989.2L898.2 1987.4L897.2 1985.5L896.3 1983.7L895.4 1981.9L894.5 1980L893.6 1978.2L892.8 1976.4L891.9 1974.5L891.1 1972.6L890.3 1970.7L889.4 1968.9L888.7 1966.9L887.9 1965L887.1 1963.1L886.4 1961.2L885.7 1959.2L884.9 1957.3L884.3 1955.4L883.6 1953.4L882.9 1951.5L882.3 1949.6L881.7 1947.7L881 1945.7L880.4 1943.8L879.9 1941.9L879.3 1940L878.7 1938.1L878.1 1936.1L877.5 1934.2L876.9 1932.3L876.4 1930.3L875.8 1928.4L875.2 1926.5L874.7 1924.6L874.1 1922.7L873.6 1920.8L873 1918.9L872.5 1917L871.9 1915L871.4 1913.1L870.8 1911.2L870.3 1909.3L869.7 1907.4L869.1 1905.4L868.6 1903.5L868 1901.5L867.4 1899.5L866.8 1897.5L866.2 1895.5L865.6 1893.5L865 1891.5L864.4 1889.5L863.8 1887.5L863.1 1885.6L862.5 1883.6L861.9 1881.6L861.2 1879.6L860.6 1877.7L860 1875.7L859.3 1873.7L858.6 1871.8L858 1869.8L857.3 1867.9L856.6 1865.9L855.9 1864L855.2 1862.1L854.5 1860.2L853.8 1858.2L853.1 1856.3L852.4 1854.4L851.7 1852.4L850.9 1850.5L850.2 1848.5L849.5 1846.5L848.8 1844.6L848.1 1842.6L847.4 1840.7L846.8 1838.8L846.1 1836.8L845.5 1834.9L844.8 1833L844.2 1831L843.6 1829.1L842.9 1827.1L842.3 1825.2L841.6 1823.2L840.9 1821.3L840.3 1819.3L839.6 1817.4L838.9 1815.4L838.2 1813.5L837.5 1811.6L836.8 1809.6L836 1807.7L835.3 1805.8L834.5 1803.9L833.8 1802L833 1800.1L832.3 1798.1L831.5 1796.2L830.7 1794.3L829.9 1792.4L829 1790.5L828.2 1788.6L827.4 1786.8L826.5 1784.9L825.6 1783L824.7 1781.1L823.8 1779.2L822.9 1777.4L822 1775.5L821 1773.6L820.1 1771.8L819.1 1770L818.1 1768.1L817.2 1766.3L816.2 1764.5L815.2 1762.8L814.2 1761L813.1 1759.2L812.1 1757.5L811 1755.7L810 1754L808.9 1752.3L807.8 1750.6L806.7 1748.9L805.6 1747.2L804.5 1745.6L803.4 1743.9L802.2 1742.3L801.1 1740.6L799.9 1739L798.8 1737.3L797.6 1735.7L796.4 1734.1L795.2 1732.4L794 1730.8L792.7 1729.1L791.5 1727.5L790.2 1725.9L789 1724.2L787.7 1722.6L786.4 1721L785.2 1719.4L783.9 1717.9L782.6 1716.3L781.2 1714.7L779.9 1713.1L778.6 1711.6L777.2 1710.1L775.8 1708.5L774.4 1707L773 1705.6L771.6 1704.1L770.2 1702.7L768.7 1701.3L767.2 1699.9L765.6 1698.5L764.1 1697.2L762.5 1695.9L760.9 1694.6L759.3 1693.4L757.7 1692.2L756 1690.9L754.4 1689.7L752.7 1688.5L751.1 1687.4L749.4 1686.2L747.7 1685L746.1 1683.9L744.3 1682.8L742.6 1681.7L740.9 1680.7L739.1 1679.7L737.4 1678.7L735.6 1677.8L733.9 1676.9L732.1 1676L730.2 1675.1L728.4 1674.2L726.5 1673.4L724.6 1672.5L722.7 1671.7L720.8 1670.9L718.9 1670.2L717 1669.4L715.1 1668.7L713.2 1668L711.3 1667.4L709.3 1666.8L707.4 1666.2L705.5 1665.6L703.6 1665.1L701.6 1664.6L699.7 1664.1L697.7 1663.6L695.7 1663.2L693.8 1662.7L691.8 1662.3L689.8 1661.9L687.8 1661.5L685.8 1661.1L683.8 1660.7L681.9 1660.4L679.9 1660L678 1659.7L676 1659.3L674.1 1659L672.1 1658.7L670.1 1658.4L668 1658.1L666 1657.8L664 1657.5L661.9 1657.2L659.9 1656.9L657.8 1656.6L655.8 1656.4L653.7 1656.1L651.7 1655.8L649.7 1655.6L647.6 1655.4L645.6 1655.1L643.6 1654.9L641.5 1654.7L639.5 1654.5L637.4 1654.3L635.4 1654.1L633.3 1653.9L631.3 1653.8L629.2 1653.6L627.2 1653.5L625.1 1653.3L623.1 1653.1L621.1 1653L619.1 1652.9L617.1 1652.7L615.1 1652.6L613.2 1652.4L611.2 1652.3L609.3 1652.1L607.3 1651.9L605.3 1651.8L603.3 1651.6L601.3 1651.4L599.3 1651.2L597.3 1651L595.3 1650.8L593.3 1650.6L591.3 1650.4L589.3 1650.3L587.3 1650.1L585.3 1649.9L583.3 1649.8L581.4 1649.6L579.4 1649.5L577.4 1649.4L575.5 1649.3L573.6 1649.2L571.7 1649.1L569.8 1649.1L567.8 1649L565.9 1648.9L563.9 1648.9L561.9 1648.8L559.9 1648.8L557.9 1648.7L555.9 1648.7L553.8 1648.6L551.8 1648.6L549.7 1648.6L547.6 1648.5L545.5 1648.5L543.4 1648.4L541.4 1648.4L539.3 1648.3L537.3 1648.3L535.3 1648.2L533.3 1648.2L531.3 1648.1L529.3 1648.1L527.3 1648L525.3 1648L523.3 1648L521.3 1647.9L519.2 1647.9L517.2 1647.8L515.1 1647.8L513 1647.7L511 1647.7L508.9 1647.6L506.8 1647.6L504.7 1647.5L502.7 1647.5L500.6 1647.5L498.6 1647.4L496.5 1647.4L494.5 1647.3L492.5 1647.3L490.5 1647.2L488.6 1647.2L486.6 1647.1L484.6 1647.1L482.6 1647.1L480.6 1647L478.6 1647L476.6 1646.9L474.5 1646.9L472.4 1646.8L470.3 1646.7L468.2 1646.7L466.1 1646.6L464 1646.6L462 1646.5L459.9 1646.5L457.9 1646.4L455.9 1646.4L454 1646.3L452 1646.3L450.1 1646.2L448.1 1646.2L446.2 1646.2L444.3 1646.2L442.3 1646.1L440.3 1646.1L438.3 1646.1L436.3 1646.1L434.3 1646.2L432.3 1646.2L430.2 1646.2L428.2 1646.2L426.2 1646.3L424.2 1646.3L422.2 1646.4L420.3 1646.4L418.3 1646.4L416.3 1646.5" fill="none" stroke="#000" stroke-width="3.2" stroke-linejoin="round"/>
<path d="M417 1987L419 1987L421 1987L423.1 1987L425.1 1987L427.1 1987L429.2 1987L431.2 1987L433.3 1987.1L435.4 1987.1L437.4 1987.1L439.5 1987.1L441.6 1987.1L443.7 1987.1L445.8 1987.1L447.9 1987.1L450 1987.1L452.1 1987.1L454.2 1987.1L456.3 1987.1L458.5 1987.2L460.6 1987.2L462.7 1987.2L464.9 1987.2L467 1987.2L469.1 1987.2L471.3 1987.2L473.4 1987.2L475.6 1987.2L477.7 1987.2L479.9 1987.3L482 1987.3L484.2 1987.3L486.3 1987.3L488.5 1987.3L490.6 1987.3L492.8 1987.3L494.9 1987.3L497.1 1987.3L499.2 1987.4L501.4 1987.4L503.5 1987.4L505.7 1987.4L507.8 1987.4L509.9 1987.4L512.1 1987.4L514.2 1987.4L516.3 1987.4L518.5 1987.4L520.6 1987.5L522.7 1987.5L524.8 1987.5L526.9 1987.5L529 1987.5L531.1 1987.5L533.2 1987.5L535.3 1987.5L537.4 1987.5L539.5 1987.5L541.5 1987.5L543.6 1987.5L545.7 1987.6L547.7 1987.6L549.7 1987.6L551.8 1987.6L553.8 1987.6L555.8 1987.6L557.8 1987.6L559.8 1987.6L561.8 1987.6L563.8 1987.6L565.8 1987.6L567.7 1987.6L569.7 1987.6L571.6 1987.6L573.6 1987.6L575.5 1987.6L577.4 1987.6L579.3 1987.6L581.2 1987.6L583.1 1987.6L584.9 1987.6L586.8 1987.6L588.6 1987.6L590.4 1987.6L592.2 1987.6L594 1987.6L595.8 1987.6L597.6 1987.6L599.3 1987.6L601.1 1987.6L602.8 1987.6L604.5 1987.6L606.2 1987.6L607.9 1987.6L609.5 1987.6L611.2 1987.6L612.9 1987.5L614.6 1987.5L616.3 1987.5L618.1 1987.5L620 1987.5L622 1987.5L624 1987.5L626.2 1987.4L628.4 1987.4L630.6 1987.4L632.9 1987.4L635.1 1987.3L637.3 1987.3L639.5 1987.3L641.7 1987.3L643.8 1987.2L645.9 1987.2L648 1987.2L650 1987.1L652.1 1987.1L654.1 1987.1L656.1 1987L658.1 1987L660 1986.9L662 1986.9L663.9 1986.9L665.8 1986.8L667.7 1986.8L669.6 1986.7L671.5 1986.7L673.3 1986.7L675.2 1986.6L677.1 1986.6L678.9 1986.5L680.7 1986.5L682.6 1986.4L684.4 1986.4L686.2 1986.4L688.1 1986.3L689.9 1986.3L691.8 1986.2L693.6 1986.2L695.5 1986.1L697.4 1986.1L699.4 1986L701.3 1986L703.4 1985.9L705.4 1985.9L707.5 1985.8L709.6 1985.8L711.7 1985.8L713.8 1985.7L715.9 1985.7L718 1985.6L720.1 1985.6L722.1 1985.6L724.2 1985.5L726.2 1985.5L728.3 1985.4L730.3 1985.4L732.3 1985.3L734.3 1985.3L736.3 1985.2L738.3 1985.2L740.3 1985.1L742.2 1985L744.1 1985L746.1 1984.9L748 1984.8L749.9 1984.7L751.8 1984.6L753.6 1984.4L755.5 1984.3L757.5 1984.2L759.4 1984L761.4 1983.8L763.4 1983.6L765.4 1983.4L767.4 1983.2L769.4 1983L771.5 1982.8L773.5 1982.5L775.4 1982.3L777.4 1982L779.4 1981.7L781.3 1981.5L783.3 1981.2L785.2 1980.8L787.1 1980.5L789.1 1980.2L791 1979.8L792.9 1979.4L794.9 1979.1L796.9 1978.7L798.9 1978.2L800.9 1977.8L802.9 1977.3L805 1976.9L807 1976.4L809.1 1975.9L811.2 1975.4L813.3 1974.8L815.4 1974.3L817.5 1973.7L819.6 1973.1L821.6 1972.6L823.7 1972L825.7 1971.4L827.6 1970.8L829.6 1970.1L831.4 1969.5L833.3 1968.9L835.1 1968.2L836.9 1967.5L838.6 1966.7L840.4 1965.9L842.2 1965.1L843.9 1964.2L845.7 1963.2L847.4 1962.2L849.1 1961.2L850.8 1960.1L852.4 1959L854.1 1957.9L855.7 1956.7L857.4 1955.6L859 1954.4L860.6 1953.1L862.2 1951.9L863.8 1950.6L865.3 1949.3L866.8 1947.9L868.3 1946.5L869.7 1945L871 1943.5L872.3 1941.9L873.6 1940.3L874.8 1938.6L876 1936.9L877.1 1935.2L878.2 1933.5L879.3 1931.8L880.4 1930.1L881.4 1928.4L882.5 1926.6L883.4 1924.9L884.4 1923.1L885.3 1921.3L886.1 1919.5L886.9 1917.7L887.7 1915.8L888.4 1913.9L889.1 1912L889.8 1910.1L890.4 1908.2L891 1906.2L891.5 1904.3L892.1 1902.3L892.6 1900.3L893.2 1898.3L893.8 1896.3L894.3 1894.3L895 1892.3L895.6 1890.3L896.3 1888.4L897.1 1886.5L897.8 1884.6L898.6 1882.7L899.5 1880.8L900.3 1878.9L901.2 1877L902 1875.1L902.9 1873.2L903.7 1871.3L904.5 1869.4L905.3 1867.5L906.1 1865.6L906.8 1863.6L907.5 1861.7L908.2 1859.8L908.8 1857.8L909.4 1855.9L910 1853.9L910.6 1851.9L911.1 1850L911.7 1848L912.2 1846.1L912.8 1844.2L913.3 1842.2L913.9 1840.3L914.5 1838.4L915.1 1836.4L915.7 1834.5L916.3 1832.6L917 1830.6L917.6 1828.7L918.3 1826.8L918.9 1824.9L919.5 1822.9L920.2 1821L920.8 1819.1L921.4 1817.1L922 1815.2L922.6 1813.2L923.2 1811.3L923.8 1809.3L924.3 1807.4L924.9 1805.4L925.5 1803.4L926 1801.4L926.6 1799.4L927.1 1797.4L927.7 1795.4L928.2 1793.4L928.7 1791.4L929.3 1789.4L929.8 1787.4L930.3 1785.4L930.8 1783.4L931.3 1781.4L931.8 1779.5L932.3 1777.5L932.8 1775.5L933.3 1773.5L933.8 1771.5L934.2 1769.5L934.7 1767.5L935.2 1765.5L935.7 1763.5L936.2 1761.5L936.7 1759.5L937.2 1757.5L937.7 1755.5L938.3 1753.6L938.8 1751.6L939.3 1749.6L939.8 1747.6L940.4 1745.7L940.9 1743.7L941.4 1741.7L941.9 1739.7L942.3 1737.7L942.8 1735.8L943.3 1733.8L943.7 1731.8L944.1 1729.9L944.5 1727.9L944.8 1726L945.2 1724L945.5 1722.1L945.8 1720.2L946.1 1718.2L946.3 1716.3L946.6 1714.3L946.9 1712.4L947.1 1710.4L947.4 1708.4L947.7 1706.4L947.9 1704.4L948.2 1702.3L948.5 1700.3L948.7 1698.3L949 1696.3L949.2 1694.4L949.5 1692.4L949.7 1690.4L950 1688.3L950.2 1686.3L950.5 1684.2L950.8 1682.1L951 1679.9L951.3 1677.8L951.5 1675.7L951.8 1673.5L952.1 1671.4L952.3 1669.3L952.6 1667.2L952.9 1665.1L953.1 1663.1L953.4 1661.1L953.6 1659.1L953.9 1657.2L954.2 1655.3L954.4 1653.3L954.7 1651.4L955 1649.4L955.3 1647.4L955.7 1645.4L956 1643.4L956.3 1641.4L956.7 1639.4L957.1 1637.4L957.4 1635.4L957.8 1633.4L958.1 1631.4L958.5 1629.5L958.9 1627.5L959.3 1625.5L959.7 1623.6L960.1 1621.6L960.5 1619.6L960.9 1617.6L961.3 1615.6L961.7 1613.6L962.1 1611.6L962.6 1609.6L963 1607.6L963.4 1605.5L963.7 1603.5L964.1 1601.5L964.5 1599.5L964.9 1597.5L965.2 1595.5L965.5 1593.6L965.9 1591.6L966.2 1589.6L966.5 1587.6L966.8 1585.6L967.1 1583.6L967.5 1581.6L967.8 1579.6L968.1 1577.6L968.4 1575.6L968.7 1573.5L969 1571.5L969.3 1569.5L969.6 1567.5L970 1565.5L970.3 1563.5L970.6 1561.5L970.9 1559.5L971.2 1557.6L971.5 1555.6L971.9 1553.6L972.2 1551.6L972.5 1549.6L972.8 1547.6L973.1 1545.6L973.5 1543.6L973.8 1541.6L974.1 1539.7L974.4 1537.7L974.7 1535.7L975 1533.7L975.4 1531.7L975.7 1529.7L976 1527.7L976.3 1525.7L976.6 1523.7L976.9 1521.7L977.3 1519.7L977.6 1517.7L977.9 1515.7L978.2 1513.8L978.5 1511.8L978.9 1509.8L979.2 1507.8L979.5 1505.8L979.8 1503.8L980.1 1501.8L980.4 1499.8L980.8 1497.8L981.1 1495.8L981.4 1493.8L981.7 1491.8L982 1489.7L982.3 1487.7L982.6 1485.7L982.9 1483.7L983.3 1481.7L983.6 1479.7L983.9 1477.7L984.2 1475.7L984.5 1473.7L984.9 1471.7L985.2 1469.8L985.5 1467.8L985.9 1465.8L986.3 1463.8L986.6 1461.8L987 1459.8L987.4 1457.8L987.8 1455.8L988.2 1453.8L988.6 1451.8L989 1449.9L989.4 1447.9L989.8 1445.9L990.2 1443.9L990.6 1441.9L991 1439.9L991.4 1437.9L991.8 1435.9L992.2 1433.9L992.6 1431.9L993 1429.8L993.4 1427.8L993.8 1425.8L994.2 1423.7L994.6 1421.7L995 1419.7L995.4 1417.7L995.8 1415.7L996.2 1413.7L996.6 1411.7L997 1409.7L997.4 1407.6L997.8 1405.6L998.1 1403.5L998.5 1401.5L998.9 1399.5L999.4 1397.5L999.8 1395.5L1000.3 1393.5L1000.9 1391.5L1001.5 1389.5L1002.1 1387.6L1002.8 1385.6L1003.6 1383.7L1004.3 1381.8L1005.2 1379.9L1006.1 1378L1007 1376.1L1008 1374.2L1009.1 1372.4L1010.2 1370.6L1011.3 1369L1012.6 1367.7L1013.8 1366.6L1015.1 1365.9L1016.5 1365.6L1017.8 1365.7L1019.2 1366.3L1020.5 1367.3L1021.8 1368.6L1023 1370.1L1024.1 1371.7L1025.1 1373.5L1025.9 1375.4L1026.7 1377.3L1027.4 1379.2L1028 1381.2L1028.5 1383.3L1029 1385.3L1029.6 1387.4L1030.1 1389.4L1030.6 1391.4L1031.1 1393.4L1031.6 1395.3L1032.2 1397.3L1032.7 1399.2L1033.2 1401.2L1033.7 1403.1L1034.2 1405.1L1034.7 1407.1L1035.2 1409L1035.7 1411L1036.1 1413L1036.6 1415L1037 1417L1037.4 1419L1037.9 1421L1038.3 1423.1L1038.6 1425.1L1039 1427.1L1039.4 1429.1L1039.7 1431.2L1040 1433.2L1040.3 1435.2L1040.6 1437.2L1040.9 1439.2L1041.2 1441.2L1041.4 1443.2L1041.7 1445.2L1042 1447.3L1042.2 1449.3L1042.5 1451.3L1042.8 1453.3L1043.1 1455.3L1043.3 1457.3L1043.6 1459.3L1043.9 1461.3L1044.2 1463.3L1044.5 1465.4L1044.8 1467.4L1045.1 1469.4L1045.4 1471.5L1045.7 1473.5L1046 1475.5L1046.3 1477.5L1046.7 1479.5L1047 1481.5L1047.3 1483.5L1047.6 1485.5L1047.9 1487.5L1048.2 1489.5L1048.5 1491.4L1048.8 1493.4L1049.1 1495.4L1049.4 1497.4L1049.7 1499.4L1050 1501.4L1050.3 1503.4L1050.5 1505.4L1050.8 1507.4L1051.1 1509.4L1051.3 1511.4L1051.6 1513.4L1051.8 1515.4L1052.1 1517.4L1052.3 1519.5L1052.5 1521.5L1052.8 1523.5L1053 1525.5L1053.3 1527.5L1053.5 1529.6L1053.7 1531.6L1054 1533.6L1054.2 1535.6L1054.5 1537.6L1054.8 1539.6L1055 1541.6L1055.3 1543.6L1055.6 1545.6L1055.9 1547.6L1056.2 1549.6L1056.5 1551.6L1056.8 1553.6L1057.1 1555.6L1057.4 1557.6L1057.7 1559.6L1058 1561.5L1058.3 1563.5L1058.6 1565.5L1058.9 1567.5L1059.2 1569.5L1059.5 1571.5L1059.8 1573.4L1060.1 1575.4L1060.4 1577.4L1060.7 1579.4L1061 1581.4L1061.3 1583.4L1061.6 1585.4L1061.9 1587.4L1062.2 1589.4L1062.5 1591.4L1062.7 1593.4L1063 1595.4L1063.3 1597.4L1063.5 1599.4L1063.8 1601.4L1064 1603.3L1064.3 1605.3L1064.5 1607.3L1064.8 1609.3L1065 1611.3L1065.3 1613.3L1065.5 1615.4L1065.7 1617.4L1065.9 1619.4L1066.2 1621.4L1066.4 1623.4L1066.6 1625.4L1066.8 1627.4L1067 1629.4L1067.1 1631.4L1067.3 1633.3L1067.5 1635.3L1067.7 1637.2L1067.8 1639.2L1068 1641.1L1068.1 1643.1L1068.3 1645.1L1068.5 1647.1L1068.6 1649.2L1068.8 1651.2L1068.9 1653.3L1069.1 1655.3L1069.3 1657.4L1069.5 1659.4L1069.6 1661.4L1069.8 1663.3L1070 1665.2L1070.1 1667.1L1070.3 1669L1070.5 1670.9L1070.6 1672.8L1070.8 1674.7L1071 1676.7L1071.2 1678.7L1071.3 1680.7L1071.5 1682.7L1071.7 1684.8L1071.9 1686.9L1072.1 1689L1072.3 1691.1L1072.5 1693.2L1072.7 1695.3L1072.9 1697.4L1073.1 1699.5L1073.3 1701.6L1073.5 1703.7L1073.7 1705.9L1073.9 1708L1074.1 1710L1074.3 1712.1L1074.5 1714.2L1074.7 1716.2L1074.9 1718.3L1075.1 1720.3L1075.3 1722.3L1075.5 1724.3L1075.7 1726.4L1075.9 1728.4L1076.2 1730.4L1076.4 1732.5L1076.6 1734.5L1076.8 1736.6L1077 1738.7L1077.3 1740.7L1077.5 1742.8L1077.7 1744.8L1077.9 1746.8L1078.2 1748.9L1078.4 1750.9L1078.6 1752.9L1078.8 1754.9L1079.1 1756.9L1079.3 1758.9L1079.5 1760.8L1079.8 1762.8L1080 1764.8L1080.3 1766.7L1080.5 1768.7L1080.7 1770.7L1081 1772.6L1081.3 1774.6L1081.5 1776.5L1081.8 1778.5L1082 1780.5L1082.3 1782.6L1082.6 1784.6L1082.9 1786.7L1083.2 1788.8L1083.5 1790.9L1083.8 1793L1084.1 1795.1L1084.4 1797.2L1084.7 1799.3L1085 1801.3L1085.3 1803.4L1085.6 1805.4L1085.9 1807.4L1086.2 1809.5L1086.6 1811.4L1086.9 1813.4L1087.2 1815.3L1087.5 1817.2L1087.9 1819.1L1088.2 1821L1088.6 1822.9L1089 1824.8L1089.4 1826.8L1089.8 1828.8L1090.2 1830.7L1090.7 1832.7L1091.1 1834.7L1091.6 1836.6L1092.1 1838.5L1092.5 1840.5L1093 1842.4L1093.5 1844.3L1094 1846.2L1094.4 1848.1L1094.9 1850.1L1095.3 1852L1095.7 1854L1096.2 1856L1096.6 1857.9L1097 1859.9L1097.4 1861.9L1097.9 1863.9L1098.3 1865.9L1098.7 1867.9L1099.1 1869.9L1099.6 1871.9L1100 1873.9L1100.4 1875.9L1100.8 1878L1101.3 1880L1101.7 1882L1102.2 1884L1102.6 1886L1103.1 1888L1103.5 1890L1104 1892.1L1104.4 1894.1L1104.9 1896.1L1105.3 1898.1L1105.8 1900L1106.3 1902L1106.7 1904L1107.2 1906L1107.7 1907.9L1108.2 1909.9L1108.6 1911.8L1109.1 1913.8L1109.6 1915.7L1110.2 1917.6L1110.7 1919.6L1111.3 1921.5L1111.9 1923.4L1112.5 1925.3L1113.2 1927.2L1113.9 1929.1L1114.7 1931L1115.5 1932.9L1116.3 1934.8L1117.2 1936.6L1118 1938.5L1118.9 1940.4L1119.9 1942.2L1120.8 1944.1L1121.7 1946L1122.6 1947.8L1123.6 1949.7L1124.5 1951.5L1125.4 1953.4L1126.3 1955.3L1127.2 1957.2L1128.1 1959L1129 1960.9L1129.9 1962.7L1130.9 1964.6L1131.8 1966.4L1132.8 1968.1L1133.8 1969.9L1134.8 1971.6L1135.9 1973.3L1137 1975L1138.2 1976.7L1139.5 1978.4L1140.8 1980L1142.1 1981.5L1143.5 1983L1145 1984.5L1146.5 1985.9L1148 1987.2L1149.6 1988.4L1151.3 1989.6L1153 1990.6L1154.8 1991.6L1156.7 1992.5L1158.5 1993.3L1160.4 1994L1162.3 1994.6L1164.3 1995.1L1166.2 1995.6L1168.1 1995.9L1170.1 1996.2L1172 1996.4L1173.9 1996.6L1175.9 1996.7L1177.9 1996.8L1179.9 1996.9L1181.9 1996.9L1183.8 1997L1185.7 1997L1187.5 1997L1189.1 1997.1L1190.8 1997.1L1192.4 1997.1L1194 1997.2L1195.6 1997.2L1197.3 1997.2L1199 1997.2L1200.7 1997.2L1202.5 1997.3L1204.4 1997.3L1206.2 1997.3L1208.1 1997.3L1210.1 1997.3L1212.1 1997.3L1214.1 1997.3L1216.1 1997.3L1218.2 1997.3L1220.3 1997.3L1222.4 1997.3L1224.6 1997.4L1226.7 1997.4L1228.9 1997.4L1231.1 1997.4L1233.3 1997.4L1235.5 1997.4L1237.7 1997.4L1240 1997.4L1242.2 1997.4L1244.5 1997.4L1246.7 1997.4L1248.9 1997.4L1251.2 1997.4L1253.4 1997.4L1255.6 1997.4L1257.8 1997.4L1260 1997.4L1262.2 1997.4L1264.4 1997.4L1266.5 1997.4L1268.6 1997.4L1270.7 1997.4L1272.8 1997.5L1274.9 1997.5L1277 1997.5L1279 1997.5L1281 1997.5L1283.1 1997.5L1285.1 1997.5L1287.1 1997.6L1289.1 1997.6L1291.2 1997.6L1293.2 1997.6L1295.2 1997.6L1297.2 1997.7L1299.2 1997.7L1301.2 1997.7L1303.2 1997.7L1305.2 1997.8L1307.2 1997.8L1309.2 1997.8L1311.2 1997.8L1313.2 1997.8L1315.2 1997.9L1317.2 1997.9L1319.2 1997.9L1321.2 1997.9L1323.2 1998L1325.2 1998L1327.2 1998L1329.2 1998L1331.2 1998.1L1333.2 1998.1L1335.1 1998.1L1337.1 1998.1L1339.1 1998.2L1341.1 1998.2L1343.1 1998.2L1345.1 1998.2L1347.1 1998.3L1349.1 1998.3L1351.1 1998.3L1353 1998.3L1355 1998.4L1357 1998.4L1359 1998.4L1361 1998.4L1363 1998.5L1365 1998.5L1367 1998.5" fill="none" stroke="#cf1f1f" stroke-width="3.2" stroke-linejoin="round"/>
<path d="M1367 1996.5L1365 1996.5L1363.1 1996.4L1361.1 1996.4L1359.1 1996.3L1357.2 1996.3L1355.2 1996.2L1353.3 1996.2L1351.3 1996.1L1349.4 1996.1L1347.4 1996L1345.5 1996L1343.5 1995.9L1341.6 1995.9L1339.7 1995.8L1337.7 1995.8L1335.8 1995.7L1333.8 1995.7L1331.9 1995.6L1329.9 1995.6L1327.9 1995.5L1325.9 1995.5L1323.9 1995.4L1321.9 1995.4L1319.9 1995.4L1317.9 1995.3L1315.8 1995.3L1313.8 1995.2L1311.7 1995.2L1309.6 1995.2L1307.5 1995.1L1305.5 1995.1L1303.4 1995.1L1301.4 1995L1299.4 1995L1297.4 1995L1295.4 1995L1293.5 1994.9L1291.6 1994.9L1289.6 1994.9L1287.7 1994.9L1285.7 1994.9L1283.7 1994.9L1281.7 1994.8L1279.7 1994.8L1277.7 1994.8L1275.7 1994.8L1273.6 1994.8L1271.5 1994.8L1269.5 1994.8L1267.4 1994.8L1265.3 1994.8L1263.2 1994.8L1261.1 1994.8L1259 1994.8L1256.9 1994.8L1254.7 1994.8L1252.6 1994.8L1250.5 1994.8L1248.4 1994.8L1246.3 1994.8L1244.2 1994.7L1242 1994.7L1239.9 1994.7L1237.9 1994.7L1235.8 1994.7L1233.7 1994.7L1231.6 1994.7L1229.6 1994.7L1227.5 1994.7L1225.5 1994.7L1223.5 1994.7L1221.5 1994.7L1219.5 1994.7L1217.6 1994.7L1215.6 1994.7L1213.7 1994.6L1211.8 1994.6L1209.9 1994.6L1208.1 1994.6L1206.2 1994.6L1204.3 1994.5L1202.4 1994.5L1200.4 1994.5L1198.4 1994.5L1196.3 1994.4L1194.2 1994.4L1192 1994.4L1189.9 1994.4L1187.7 1994.3L1185.6 1994.3L1183.4 1994.3L1181.3 1994.2L1179.2 1994.2L1177.1 1994.2L1175 1994.1L1173 1994.1L1171 1994.1L1169 1994L1167 1994L1165 1993.9L1163.1 1993.9L1161.1 1993.8L1159.2 1993.8L1157.3 1993.7L1155.4 1993.6L1153.5 1993.5L1151.6 1993.5L1149.7 1993.4L1147.8 1993.3L1145.9 1993.2L1143.9 1993L1141.9 1992.9L1139.9 1992.8L1137.9 1992.6L1135.8 1992.5L1133.8 1992.3L1131.8 1992.2L1129.8 1992L1127.8 1991.8L1125.8 1991.6L1123.8 1991.4L1121.9 1991.2L1119.9 1991L1118 1990.8L1116 1990.5L1114.1 1990.3L1112.1 1990L1110.1 1989.7L1108.1 1989.4L1106.2 1989.2L1104.2 1988.8L1102.2 1988.5L1100.1 1988.2L1098.1 1987.9L1096.1 1987.5L1094.1 1987.1L1092.1 1986.8L1090.1 1986.4L1088.1 1986L1086.1 1985.6L1084.1 1985.1L1082.1 1984.7L1080.1 1984.2L1078.1 1983.8L1076.1 1983.3L1074.2 1982.8L1072.2 1982.3L1070.2 1981.7L1068.3 1981.2L1066.4 1980.6L1064.4 1980L1062.5 1979.5L1060.6 1978.9L1058.7 1978.3L1056.8 1977.6L1054.9 1977L1053 1976.3L1051.1 1975.6L1049.2 1975L1047.3 1974.2L1045.4 1973.5L1043.5 1972.8L1041.6 1972L1039.8 1971.2L1037.9 1970.4L1036 1969.6L1034.2 1968.8L1032.3 1967.9L1030.5 1967L1028.6 1966.1L1026.7 1965.2L1024.8 1964.2L1023 1963.2L1021.1 1962.2L1019.2 1961.2L1017.4 1960.2L1015.6 1959.2L1013.8 1958.2L1012 1957.2L1010.3 1956.2L1008.6 1955.2L1006.9 1954.2L1005.3 1953.2L1003.6 1952.2L1002 1951.2L1000.4 1950.1L998.7 1949L997.1 1947.9L995.4 1946.7L993.8 1945.5L992.1 1944.4L990.5 1943.2L988.8 1942L987.2 1940.7L985.5 1939.5L983.9 1938.3L982.2 1937.1L980.5 1935.8L978.9 1934.5L977.3 1933.2L975.8 1931.8L974.4 1930.4L973.1 1928.9L971.9 1927.3L970.7 1925.7L969.6 1924.1L968.6 1922.3L967.6 1920.6L966.7 1918.8L965.8 1917L964.9 1915.2L964.1 1913.3L963.3 1911.4L962.5 1909.6L961.7 1907.6L960.9 1905.7L960.2 1903.8L959.4 1901.8L958.7 1899.9L958 1897.9L957.3 1895.9L956.7 1894L956 1892L955.3 1890L954.7 1888L954.1 1886.1L953.4 1884.1L952.8 1882.2L952.2 1880.3L951.6 1878.3L951 1876.4L950.4 1874.5L949.8 1872.6L949.2 1870.6L948.6 1868.7L948.1 1866.8L947.5 1864.8L947 1862.8L946.5 1860.9L946 1858.9L945.6 1856.9L945.1 1854.9L944.7 1852.9L944.2 1850.9L943.8 1848.8L943.4 1846.8L942.9 1844.8L942.5 1842.8L942 1840.8L941.6 1838.8L941.1 1836.8L940.6 1834.8L940 1832.8L939.5 1830.9L938.9 1828.9L938.4 1826.9L937.8 1825L937.2 1823L936.6 1821L936.1 1819.1L935.5 1817.1L935 1815.1L934.5 1813.1L934 1811.1L933.4 1809.1L932.9 1807.1L932.4 1805.1L931.9 1803.1L931.5 1801.1L931 1799.1L930.5 1797.1L930 1795.1L929.5 1793.2L929 1791.2L928.5 1789.2L928 1787.2L927.6 1785.3L927.1 1783.3L926.6 1781.3L926.1 1779.3L925.6 1777.4L925 1775.4L924.5 1773.4L924 1771.4L923.5 1769.5L922.9 1767.5L922.4 1765.5L921.8 1763.5L921.2 1761.5L920.6 1759.6L920 1757.6L919.3 1755.7L918.6 1753.8L917.8 1751.9L917 1750L916 1748.2L915 1746.4L913.9 1744.8L912.6 1743.3L911.2 1742L909.7 1741L908.1 1740.3L906.5 1740L904.9 1740.1L903.4 1740.6L901.9 1741.4L900.6 1742.6L899.5 1744L898.5 1745.6L897.6 1747.4L896.9 1749.2L896.2 1751.2L895.6 1753.3L895 1755.4L894.4 1757.4L893.9 1759.5L893.4 1761.6L892.9 1763.6L892.4 1765.6L891.9 1767.6L891.4 1769.6L891 1771.6L890.5 1773.7L890.1 1775.7L889.6 1777.7L889.2 1779.8L888.7 1781.8L888.3 1783.9L887.8 1785.9L887.3 1787.9L886.9 1789.9L886.4 1791.9L885.9 1793.9L885.5 1795.9L885 1797.8L884.5 1799.8L884 1801.8L883.6 1803.7L883.1 1805.7L882.6 1807.6L882.1 1809.6L881.7 1811.6L881.2 1813.5L880.7 1815.5L880.3 1817.4L879.8 1819.4L879.4 1821.4L879 1823.3L878.6 1825.3L878.1 1827.3L877.7 1829.3L877.3 1831.2L876.9 1833.2L876.5 1835.2L876 1837.1L875.6 1839.1L875.1 1841L874.6 1843L874.1 1844.9L873.5 1846.8L872.9 1848.8L872.3 1850.7L871.6 1852.6L871 1854.5L870.3 1856.4L869.5 1858.3L868.8 1860.2L868.1 1862.1L867.4 1863.9L866.6 1865.8L865.9 1867.7L865.2 1869.5L864.5 1871.4L863.9 1873.3L863.2 1875.2L862.5 1877.2L861.9 1879.1L861.2 1881.1L860.6 1883L859.9 1885L859.2 1886.9L858.6 1888.9L857.9 1890.8L857.2 1892.7L856.5 1894.7L855.8 1896.6L855.1 1898.5L854.4 1900.5L853.7 1902.4L852.9 1904.3L852.2 1906.3L851.5 1908.2L850.8 1910.1L850.1 1911.9L849.4 1913.8L848.7 1915.7L848.1 1917.6L847.4 1919.5L846.7 1921.3L846 1923.2L845.3 1925.1L844.5 1926.9L843.6 1928.7L842.7 1930.4L841.8 1932.1L840.7 1933.8L839.6 1935.5L838.5 1937.1L837.3 1938.8L836 1940.4L834.7 1942L833.3 1943.6L831.9 1945.1L830.4 1946.6L828.9 1948.1L827.4 1949.5L825.9 1950.9L824.3 1952.1L822.8 1953.4L821.2 1954.6L819.5 1955.7L817.9 1956.8L816.2 1957.8L814.5 1958.9L812.7 1959.9L810.9 1960.8L809.1 1961.8L807.3 1962.7L805.5 1963.6L803.6 1964.5L801.8 1965.3L799.9 1966.1L798.1 1966.9L796.2 1967.6L794.4 1968.4L792.6 1969L790.8 1969.7L788.9 1970.4L787.1 1971L785.2 1971.6L783.3 1972.2L781.4 1972.8L779.4 1973.3L777.5 1973.9L775.5 1974.4L773.5 1974.9L771.5 1975.4L769.5 1975.9L767.4 1976.4L765.4 1976.8L763.4 1977.2L761.4 1977.7L759.4 1978L757.5 1978.4L755.6 1978.8L753.7 1979.1L751.9 1979.4L750 1979.7L748.1 1980L746.3 1980.2L744.4 1980.5L742.5 1980.7L740.6 1981L738.6 1981.2L736.7 1981.4L734.7 1981.7L732.8 1981.9L730.8 1982.1L728.7 1982.3L726.7 1982.5L724.7 1982.6L722.6 1982.8L720.5 1983L718.4 1983.2L716.3 1983.3L714.2 1983.5L712.1 1983.7L709.9 1983.8L707.8 1984L705.7 1984.1L703.6 1984.2L701.6 1984.4L699.6 1984.5L697.6 1984.6L695.7 1984.7L693.9 1984.9L692.1 1985L690.3 1985.1L688.4 1985.1L686.6 1985.2L684.8 1985.3L683 1985.4L681.2 1985.5L679.3 1985.5L677.5 1985.6L675.6 1985.7L673.7 1985.7L671.8 1985.8L669.9 1985.9L668 1985.9L666.1 1986L664.2 1986L662.3 1986.1L660.3 1986.1L658.4 1986.2L656.4 1986.2L654.4 1986.2L652.4 1986.3L650.4 1986.3L648.4 1986.4L646.4 1986.4L644.4 1986.4L642.3 1986.5L640.3 1986.5L638.2 1986.5L636.1 1986.5L634 1986.6L631.9 1986.6L629.8 1986.6L627.7 1986.7L625.5 1986.7L623.4 1986.7L621.2 1986.7L619 1986.8L616.8 1986.8L614.6 1986.8L612.4 1986.8L610.2 1986.9L608 1986.9L605.8 1986.9L603.7 1987L601.7 1987L599.7 1987L597.7 1987L595.9 1987.1L594 1987.1L592.2 1987.1L590.4 1987.1L588.6 1987.1L586.8 1987.2L585 1987.2L583.2 1987.2L581.4 1987.2L579.6 1987.2L577.7 1987.2L575.9 1987.2L574 1987.3L572.2 1987.3L570.3 1987.3L568.4 1987.3L566.5 1987.3L564.6 1987.3L562.7 1987.3L560.7 1987.3L558.8 1987.4L556.9 1987.4L554.9 1987.4L552.9 1987.4L551 1987.4L549 1987.4L547 1987.4L545 1987.4L543 1987.4L541 1987.4L539 1987.4L537 1987.4L535 1987.4L533 1987.4L530.9 1987.4L528.9 1987.4L526.9 1987.4L524.8 1987.4L522.8 1987.4L520.7 1987.4L518.6 1987.5L516.6 1987.5L514.5 1987.5L512.4 1987.5L510.4 1987.5L508.3 1987.5L506.2 1987.5L504.1 1987.5L502 1987.5L499.9 1987.5L497.9 1987.5L495.8 1987.5L493.7 1987.5L491.6 1987.5L489.5 1987.5L487.4 1987.5L485.3 1987.5L483.2 1987.5L481.1 1987.5L479 1987.5L476.9 1987.5L474.8 1987.5L472.7 1987.5L470.6 1987.5L468.5 1987.5L466.4 1987.5L464.3 1987.5L462.2 1987.5L460.1 1987.5L458 1987.5L455.9 1987.5L453.9 1987.5L451.8 1987.5L449.7 1987.5L447.6 1987.5L445.6 1987.5L443.5 1987.5L441.4 1987.5L439.4 1987.5L437.3 1987.5L435.3 1987.5L433.2 1987.5L431.2 1987.5L429.1 1987.5L427.1 1987.5L425.1 1987.5L423.1 1987.5L421 1987.5L419 1987.5L417 1987.5" fill="none" stroke="#cf1f1f" stroke-width="3.2" stroke-linejoin="round"/>
<line x1="494" y1="1623" x2="588" y2="1617.4" stroke="#000" stroke-width="1.6"/>
<path d="M605 1616.3 L586 1611.5 L587 1622.5 Z" fill="#000"/>
<line x1="925" y1="1703.5" x2="944.5" y2="1584" stroke="#c83838" stroke-width="1.5" stroke-dasharray="9 4"/>
<path d="M947.1 1563.5 L938.6 1583.5 L949.6 1585.2 Z" fill="#cf1f1f"/>
<line x1="1072.3" y1="1966.5" x2="1003" y2="1932" stroke="#b04040" stroke-width="1.5" stroke-dasharray="6 3"/>
<path d="M982.8 1921.7 L1006 1926.5 L1001 1936.5 Z" fill="#cf1f1f"/>
<path d="M1312.5 1987.5 L1312.5 1950.5 L1400 1950.5" fill="none" stroke="#b02020" stroke-width="2.2"/>
<path d="M1421.5 1950.8 L1398 1945.5 L1398 1956 Z" fill="#c82020"/>
</svg></body></html>
